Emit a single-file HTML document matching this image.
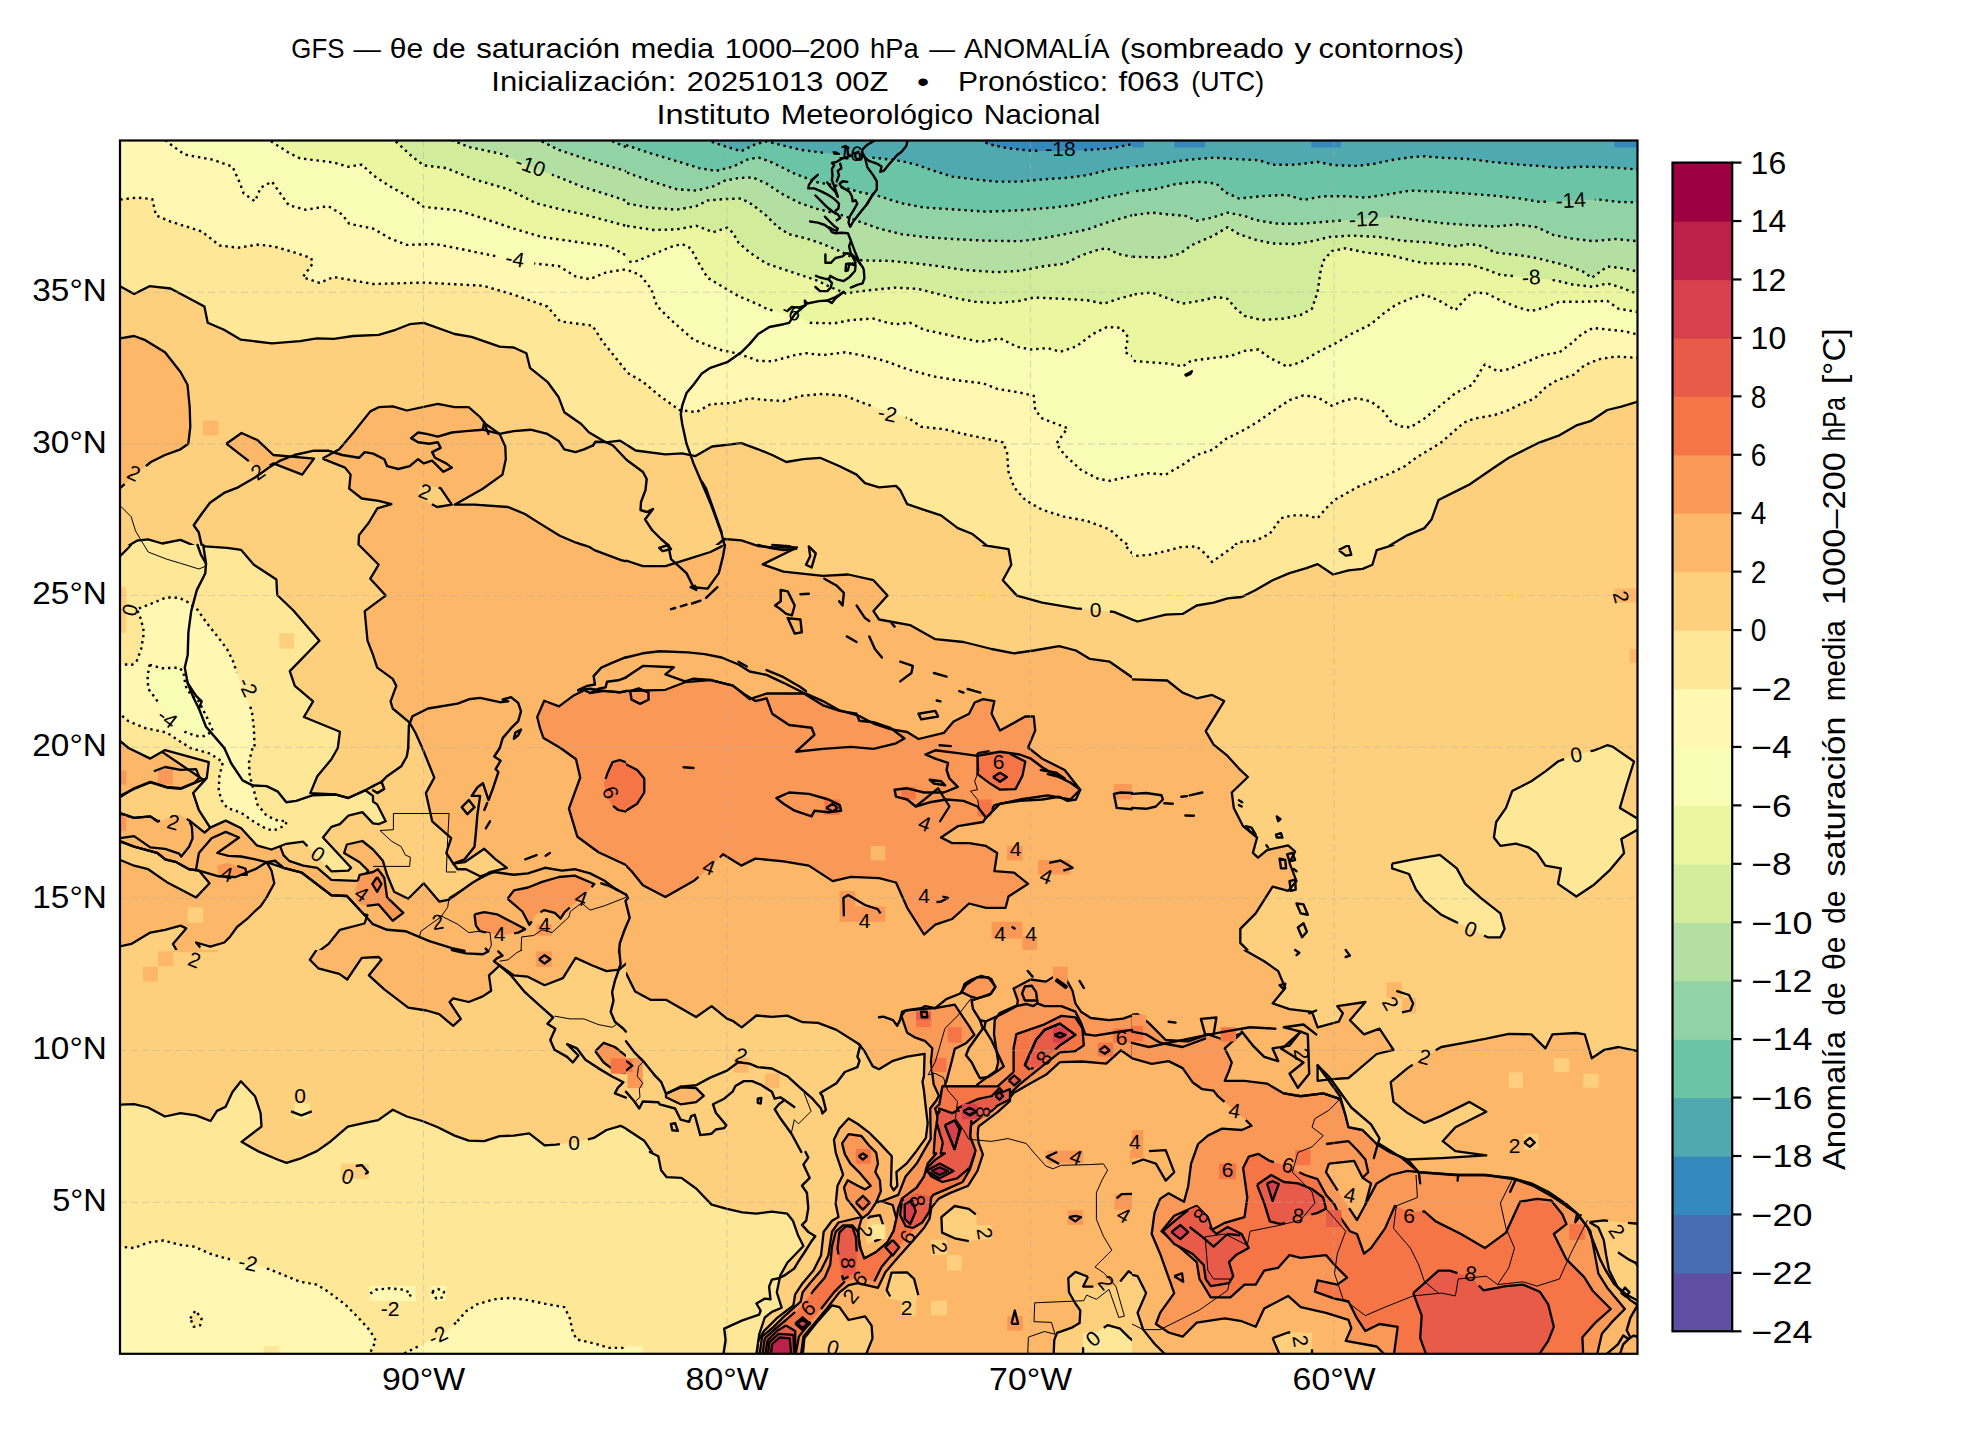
<!DOCTYPE html>
<html><head><meta charset="utf-8"><title>GFS</title>
<style>
html,body{margin:0;padding:0;background:#fff;}
body{width:1980px;height:1440px;overflow:hidden;}
svg{display:block;font-family:"Liberation Sans",sans-serif;}
text{font-family:"Liberation Sans",sans-serif;fill:#000;}
.c{stroke:#000;stroke-width:2.3;stroke-linejoin:round;stroke-linecap:butt;}
.d{stroke:#000;stroke-width:2.4;stroke-dasharray:2.4 3.9;stroke-linejoin:round;}
.n{stroke:none;}
.coast{fill:none;stroke:#000;stroke-width:2.4;stroke-linejoin:round;stroke-linecap:round;}
.bord{fill:none;stroke:#000;stroke-width:1;stroke-linejoin:round;}
.lab{font-size:21px;}
</style></head><body>
<svg width="1980" height="1440" viewBox="0 0 1980 1440">
<rect width="1980" height="1440" fill="#fff"/>

<text x="291.3" y="57.9" font-size="27.8" text-anchor="start" textLength="53.1" lengthAdjust="spacingAndGlyphs" >GFS</text>
<text x="353.4" y="57.9" font-size="27.8" text-anchor="start" textLength="27.4" lengthAdjust="spacingAndGlyphs" >—</text>
<text x="389.8" y="57.9" font-size="27.8" text-anchor="start" textLength="33.4" lengthAdjust="spacingAndGlyphs" >θe</text>
<text x="432.2" y="57.9" font-size="27.8" text-anchor="start" textLength="33.4" lengthAdjust="spacingAndGlyphs" >de</text>
<text x="476.2" y="57.9" font-size="27.8" text-anchor="start" textLength="144.0" lengthAdjust="spacingAndGlyphs" >saturación</text>
<text x="630.7" y="57.9" font-size="27.8" text-anchor="start" textLength="83.4" lengthAdjust="spacingAndGlyphs" >media</text>
<text x="724.7" y="57.9" font-size="27.8" text-anchor="start" textLength="134.9" lengthAdjust="spacingAndGlyphs" >1000–200</text>
<text x="870.1" y="57.9" font-size="27.8" text-anchor="start" textLength="48.6" lengthAdjust="spacingAndGlyphs" >hPa</text>
<text x="929.2" y="57.9" font-size="27.8" text-anchor="start" textLength="25.8" lengthAdjust="spacingAndGlyphs" >—</text>
<text x="964.0" y="57.9" font-size="27.8" text-anchor="start" textLength="145.6" lengthAdjust="spacingAndGlyphs" >ANOMALÍA</text>
<text x="1120.1" y="57.9" font-size="27.8" text-anchor="start" textLength="163.7" lengthAdjust="spacingAndGlyphs" >(sombreado</text>
<text x="1294.4" y="57.9" font-size="27.8" text-anchor="start" textLength="16.7" lengthAdjust="spacingAndGlyphs" >y</text>
<text x="1318.6" y="57.9" font-size="27.8" text-anchor="start" textLength="145.5" lengthAdjust="spacingAndGlyphs" >contornos)</text>
<text x="491.3" y="90.6" font-size="27.8" text-anchor="start" textLength="185.0" lengthAdjust="spacingAndGlyphs" >Inicialización:</text>
<text x="686.8" y="90.6" font-size="27.8" text-anchor="start" textLength="136.4" lengthAdjust="spacingAndGlyphs" >20251013</text>
<text x="835.2" y="90.6" font-size="27.8" text-anchor="start" textLength="53.2" lengthAdjust="spacingAndGlyphs" >00Z</text>
<text x="917.1" y="90.6" font-size="27.8" text-anchor="start" textLength="12.2" lengthAdjust="spacingAndGlyphs" >•</text>
<text x="958.0" y="90.6" font-size="27.8" text-anchor="start" textLength="150.1" lengthAdjust="spacingAndGlyphs" >Pronóstico:</text>
<text x="1118.6" y="90.6" font-size="27.8" text-anchor="start" textLength="60.7" lengthAdjust="spacingAndGlyphs" >f063</text>
<text x="1191.3" y="90.6" font-size="27.8" text-anchor="start" textLength="72.8" lengthAdjust="spacingAndGlyphs" >(UTC)</text>
<text x="656.5" y="124.4" font-size="27.8" text-anchor="start" textLength="113.7" lengthAdjust="spacingAndGlyphs" >Instituto</text>
<text x="780.7" y="124.4" font-size="27.8" text-anchor="start" textLength="192.5" lengthAdjust="spacingAndGlyphs" >Meteorológico</text>
<text x="983.7" y="124.4" font-size="27.8" text-anchor="start" textLength="116.8" lengthAdjust="spacingAndGlyphs" >Nacional</text>
<defs><clipPath id="ax"><rect x="120.0" y="140.5" width="1517.5" height="1213.3"/></clipPath></defs>
<g clip-path="url(#ax)">
<rect x="120.0" y="140.5" width="1517.5" height="1213.3" fill="#fed07e"/>
<clipPath id="t00"><rect x="120" y="140" width="506" height="405"/></clipPath>
<g clip-path="url(#t00)">
<rect x="120" y="140" width="506" height="405" fill="#fed07e"/>
<path fill="#fee797" fill-rule="evenodd" d="M105.9 125.9 L640.2 125.9 L640.2 452.1 L635.5 450.5 L620.0 440.6 L605.7 442.3 L588.8 432.2 L581.2 424.0 L564.3 412.2 L558.7 397.3 L547.4 381.8 L530.0 367.8 L526.4 353.2 L513.7 347.5 L499.6 346.7 L471.5 336.9 L454.6 334.0 L423.7 322.8 L409.7 324.2 L395.6 329.8 L378.7 334.9 L353.4 336.0 L333.7 338.8 L316.9 338.3 L300.0 341.1 L271.9 343.3 L240.9 339.7 L224.0 329.8 L207.7 322.8 L204.4 306.5 L170.6 288.5 L149.5 286.2 L134.1 294.1 L120.0 286.2 L105.9 277.8Z"/>
<path class="c" fill="none" d="M105.9 125.9 L640.2 125.9 L640.2 452.1 L635.5 450.5 L620.0 440.6 L605.7 442.3 L588.8 432.2 L581.2 424.0 L564.3 412.2 L558.7 397.3 L547.4 381.8 L530.0 367.8 L526.4 353.2 L513.7 347.5 L499.6 346.7 L471.5 336.9 L454.6 334.0 L423.7 322.8 L409.7 324.2 L395.6 329.8 L378.7 334.9 L353.4 336.0 L333.7 338.8 L316.9 338.3 L300.0 341.1 L271.9 343.3 L240.9 339.7 L224.0 329.8 L207.7 322.8 L204.4 306.5 L170.6 288.5 L149.5 286.2 L134.1 294.1 L120.0 286.2 L105.9 277.8 L105.9 125.9"/>
<path fill="#fff7b2" fill-rule="evenodd" d="M105.9 125.9 L640.2 125.9 L640.2 387.5 L625.9 370.6 L602.3 341.1 L592.4 325.6 L560.1 321.4 L547.4 306.5 L513.7 294.7 L482.8 285.7 L423.7 282.6 L373.1 284.0 L333.7 277.0 L319.7 282.9 L302.8 277.2 L312.6 263.7 L311.2 258.1 L292.9 251.9 L273.3 246.3 L257.8 244.6 L238.1 247.7 L219.8 245.5 L201.6 231.4 L170.6 221.6 L156.0 215.4 L152.3 199.1 L136.9 197.6 L120.0 199.6 L105.9 200.5Z"/>
<path class="d" fill="none" d="M105.9 125.9 L640.2 125.9 L640.2 387.5 L625.9 370.6 L602.3 341.1 L592.4 325.6 L560.1 321.4 L547.4 306.5 L513.7 294.7 L482.8 285.7 L423.7 282.6 L373.1 284.0 L333.7 277.0 L319.7 282.9 L302.8 277.2 L312.6 263.7 L311.2 258.1 L292.9 251.9 L273.3 246.3 L257.8 244.6 L238.1 247.7 L219.8 245.5 L201.6 231.4 L170.6 221.6 L156.0 215.4 L152.3 199.1 L136.9 197.6 L120.0 199.6 L105.9 200.5 L105.9 125.9"/>
<path fill="#f8fcb4" fill-rule="evenodd" d="M640.2 125.9 L640.2 268.0 L625.9 269.4 L606.5 272.2 L589.6 279.2 L575.6 276.4 L558.7 266.0 L536.2 263.7 L491.2 255.3 L457.5 248.3 L435.0 244.0 L406.8 244.9 L390.0 238.4 L373.1 228.6 L349.2 223.8 L342.2 214.5 L328.1 206.1 L305.6 209.7 L288.7 205.2 L280.3 193.4 L271.9 181.6 L260.6 187.8 L255.0 201.3 L243.7 193.4 L239.5 182.2 L232.5 166.7 L212.8 159.7 L184.7 154.6 L169.2 143.4 L162.2 137.2 L153.7 125.9Z"/>
<path class="d" fill="none" d="M640.2 125.9 L640.2 268.0 L625.9 269.4 L606.5 272.2 L589.6 279.2 L575.6 276.4 L558.7 266.0 L536.2 263.7 L534.2 263.4 M495.3 256.1 L491.2 255.3 L457.5 248.3 L435.0 244.0 L406.8 244.9 L390.0 238.4 L373.1 228.6 L349.2 223.8 L342.2 214.5 L328.1 206.1 L305.6 209.7 L288.7 205.2 L280.3 193.4 L271.9 181.6 L260.6 187.8 L255.0 201.3 L243.7 193.4 L239.5 182.2 L232.5 166.7 L212.8 159.7 L184.7 154.6 L169.2 143.4 L162.2 137.2 L153.7 125.9 L640.2 125.9"/>
<path fill="#ebf7a0" fill-rule="evenodd" d="M640.2 125.9 L640.2 260.9 L625.9 255.3 L609.3 246.3 L581.2 242.6 L541.8 237.0 L513.7 228.6 L480.0 217.3 L457.5 210.3 L423.7 206.9 L415.3 200.5 L390.0 186.4 L373.1 175.2 L361.8 164.7 L347.8 166.7 L333.7 162.5 L300.0 158.3 L288.7 152.7 L269.0 140.0 L255.0 125.9Z"/>
<path class="d" fill="none" d="M640.2 125.9 L640.2 260.9 L625.9 255.3 L609.3 246.3 L581.2 242.6 L541.8 237.0 L513.7 228.6 L480.0 217.3 L457.5 210.3 L423.7 206.9 L415.3 200.5 L390.0 186.4 L373.1 175.2 L361.8 164.7 L347.8 166.7 L333.7 162.5 L300.0 158.3 L288.7 152.7 L269.0 140.0 L255.0 125.9 L640.2 125.9"/>
<path fill="#d1ed9c" fill-rule="evenodd" d="M640.2 125.9 L640.2 230.0 L625.9 225.8 L584.0 214.5 L558.7 208.9 L536.2 203.3 L508.1 189.2 L474.3 179.4 L446.2 168.1 L423.7 165.3 L412.5 156.9 L394.2 140.0 L381.5 125.9Z"/>
<path class="d" fill="none" d="M640.2 125.9 L640.2 230.0 L625.9 225.8 L584.0 214.5 L558.7 208.9 L536.2 203.3 L508.1 189.2 L474.3 179.4 L446.2 168.1 L423.7 165.3 L412.5 156.9 L394.2 140.0 L381.5 125.9 L640.2 125.9"/>
<path fill="#b3e0a2" fill-rule="evenodd" d="M640.2 125.9 L640.2 204.7 L625.9 200.5 L603.7 193.4 L581.2 186.4 L555.9 176.0 L530.6 166.7 L502.5 154.1 L468.7 147.0 L451.8 140.0 L429.3 125.9Z"/>
<path class="d" fill="none" d="M640.2 125.9 L640.2 204.7 L625.9 200.5 L603.7 193.4 L581.2 186.4 L555.9 176.0 L552.0 174.6 M508.1 156.6 L502.5 154.1 L468.7 147.0 L451.8 140.0 L429.3 125.9 L640.2 125.9"/>
<path fill="#91d3a4" fill-rule="evenodd" d="M640.2 125.9 L640.2 175.2 L625.9 170.9 L603.7 164.7 L581.2 157.4 L558.7 149.8 L539.0 140.0 L513.7 125.9Z"/>
<path class="d" fill="none" d="M640.2 125.9 L640.2 175.2 L625.9 170.9 L603.7 164.7 L581.2 157.4 L558.7 149.8 L539.0 140.0 L513.7 125.9 L640.2 125.9"/>
<path fill="#6bc4a5" fill-rule="evenodd" d="M640.2 125.9 L640.2 154.1 L625.9 147.0 L609.3 140.0 L592.4 125.9Z"/>
<path class="d" fill="none" d="M640.2 125.9 L640.2 154.1 L625.9 147.0 L609.3 140.0 L592.4 125.9 L640.2 125.9"/>
<path fill="#fdb768" fill-rule="evenodd" d="M105.9 336.9 L120.0 338.3 L134.1 336.0 L145.3 340.2 L165.0 352.3 L180.5 372.0 L187.5 384.7 L189.7 407.2 L190.3 426.8 L188.3 443.7 L180.5 449.3 L165.0 455.0 L150.9 462.0 L134.1 476.1 L120.0 488.1 L105.9 497.1Z"/>
<path class="c" fill="none" d="M105.9 336.9 L120.0 338.3 L134.1 336.0 L145.3 340.2 L165.0 352.3 L180.5 372.0 L187.5 384.7 L189.7 407.2 L190.3 426.8 L188.3 443.7 L180.5 449.3 L165.0 455.0 L150.9 462.0 L145.9 466.2 M124.7 484.1 L120.0 488.1 L105.9 497.1 L105.9 336.9"/>
<path fill="#fdb768" fill-rule="evenodd" d="M203.0 420.7 L218.4 420.7 L218.4 435.3 L203.0 435.3Z"/>
<path fill="#fdb768" fill-rule="evenodd" d="M226.3 443.7 L241.5 433.0 L257.8 440.3 L273.3 455.0 L314.0 458.6 L302.2 474.6 L273.3 463.4 L260.6 470.4 L243.7 457.2Z"/>
<path class="c" fill="none" d="M226.3 443.7 L241.5 433.0 L257.8 440.3 L273.3 455.0 L314.0 458.6 L302.2 474.6 L273.3 463.4 L269.6 465.4 M248.8 461.2 L243.7 457.2 L226.3 443.7"/>
<path fill="#fdb768" fill-rule="evenodd" d="M322.5 458.6 L339.3 449.3 L353.4 432.5 L370.3 411.4 L378.7 407.2 L392.8 406.3 L406.8 410.5 L437.8 403.8 L454.6 407.2 L468.7 407.2 L480.0 417.0 L485.6 424.0 L499.6 433.9 L505.3 446.5 L505.8 459.2 L502.5 474.6 L482.8 488.7 L454.6 504.7 L474.3 504.7 L508.1 507.0 L524.9 514.0 L537.3 521.9 L559.8 535.7 L576.1 542.7 L589.6 546.9 L621.1 560.1 L621.1 567.4 L358.5 561.8 L358.5 544.9 L359.0 535.1 L368.9 522.5 L377.3 508.4 L391.4 504.2 L378.7 500.8 L361.8 498.5 L349.2 488.7 L350.6 474.6 L345.0 467.6Z"/>
<path class="c" fill="none" d="M322.5 458.6 L339.3 449.3 L353.4 432.5 L370.3 411.4 L378.7 407.2 L392.8 406.3 L406.8 410.5 L437.8 403.8 L454.6 407.2 L468.7 407.2 L480.0 417.0 L485.6 424.0 L499.6 433.9 L505.3 446.5 L505.8 459.2 L502.5 474.6 L482.8 488.7 L454.6 504.7 L474.3 504.7 L508.1 507.0 L524.9 514.0 L537.3 521.9 L559.8 535.7 L576.1 542.7 L589.6 546.9 L621.1 560.1 L621.1 567.4 L358.5 561.8 L358.5 544.9 L359.0 535.1 L368.9 522.5 L377.3 508.4 L391.4 504.2 L378.7 500.8 L361.8 498.5 L349.2 488.7 L350.6 474.6 L345.0 467.6 L322.5 458.6"/>
<path fill="#fee797" fill-rule="evenodd" d="M127.0 546.6 L136.9 540.7 L148.1 539.3 L162.2 543.5 L180.5 539.9 L193.7 545.5 L193.7 556.2 L127.0 556.2Z"/>
<path class="c" fill="none" d="M127.0 546.6 L136.9 540.7 L148.1 539.3 L162.2 543.5 L180.5 539.9 L193.7 545.5 L193.7 556.2 L127.0 556.2 L127.0 546.6"/>
<path fill="#fed07e" fill-rule="evenodd" d="M420.9 484.5 L440.6 488.1 L451.8 504.7 L437.2 507.0 L426.5 501.4 L418.1 492.9Z"/>
<path class="c" fill="none" d="M438.6 487.8 L440.6 488.1 L451.8 504.7 L437.2 507.0 L431.9 504.2"/>
</g>
<clipPath id="t01"><rect x="626" y="140" width="506" height="405"/></clipPath>
<g clip-path="url(#t01)">
<rect x="626" y="140" width="506" height="405" fill="#fed07e"/>
<path fill="#fee797" fill-rule="evenodd" d="M603.5 125.9 L1146.2 125.9 L1146.2 559.0 L1002.8 559.0 L986.0 544.9 L971.9 533.7 L957.8 528.1 L941.0 515.4 L924.1 509.8 L907.2 504.2 L900.2 490.1 L896.0 485.9 L879.1 487.3 L865.0 483.1 L856.6 474.6 L839.7 466.2 L820.0 457.8 L803.2 459.2 L786.3 462.0 L772.2 455.0 L758.2 449.3 L741.3 443.1 L712.1 446.5 L695.5 456.1 L682.0 453.3 L665.4 454.4 L635.6 450.5 L620.1 440.6 L605.5 442.0 L603.5 438.1Z"/>
<path class="c" fill="none" d="M603.5 125.9 L1146.2 125.9 L1146.2 559.0 L1002.8 559.0 L986.0 544.9 L971.9 533.7 L957.8 528.1 L941.0 515.4 L924.1 509.8 L907.2 504.2 L900.2 490.1 L896.0 485.9 L879.1 487.3 L865.0 483.1 L856.6 474.6 L839.7 466.2 L820.0 457.8 L803.2 459.2 L786.3 462.0 L772.2 455.0 L758.2 449.3 L741.3 443.1 L712.1 446.5 L695.5 456.1 L682.0 453.3 L665.4 454.4 L635.6 450.5 L620.1 440.6 L605.5 442.0 L603.5 438.1 L603.5 125.9"/>
<path fill="#fdb768" fill-rule="evenodd" d="M712.0 549.0 L724.4 539.0 L741.4 540.4 L758.4 546.0 L770.0 549.0 L770.0 560.0 L712.0 560.0Z"/>
<path class="c" fill="none" d="M712.0 549.0 L724.4 539.0 L741.4 540.4 L758.4 546.0 L770.0 549.0 L770.0 560.0 L712.0 560.0 L712.0 549.0"/>
<path fill="#fff7b2" fill-rule="evenodd" d="M603.5 125.9 L1146.2 125.9 L1146.2 556.2 L1132.2 547.8 L1123.8 542.1 L1109.7 529.5 L1087.2 521.0 L1064.7 516.8 L1042.2 509.8 L1025.3 500.0 L1014.1 487.3 L1008.5 471.8 L1007.0 452.1 L1002.8 442.3 L986.0 438.7 L963.5 433.9 L943.8 429.1 L921.3 426.8 L910.0 419.0 L887.5 411.4 L870.7 405.7 L859.4 401.5 L845.3 395.9 L822.9 393.9 L800.4 395.9 L783.5 401.0 L766.6 400.1 L749.7 398.2 L732.9 402.9 L710.4 404.3 L696.3 412.2 L679.4 410.0 L659.7 395.9 L642.9 381.8 L626.0 372.0 L611.9 365.0Z"/>
<path class="d" fill="none" d="M603.5 125.9 L1146.2 125.9 L1146.2 556.2 L1132.2 547.8 L1123.8 542.1 L1109.7 529.5 L1087.2 521.0 L1064.7 516.8 L1042.2 509.8 L1025.3 500.0 L1014.1 487.3 L1008.5 471.8 L1007.0 452.1 L1002.8 442.3 L986.0 438.7 L963.5 433.9 L943.8 429.1 L921.3 426.8 L910.0 419.0 L905.9 417.6 M870.7 405.7 L859.4 401.5 L845.3 395.9 L822.9 393.9 L800.4 395.9 L783.5 401.0 L766.6 400.1 L749.7 398.2 L732.9 402.9 L710.4 404.3 L696.3 412.2 L679.4 410.0 L659.7 395.9 L642.9 381.8 L626.0 372.0 L611.9 365.0 L603.5 125.9"/>
<path fill="#f8fcb4" fill-rule="evenodd" d="M603.5 125.9 L1146.2 125.9 L1146.2 473.2 L1131.9 476.1 L1109.7 480.8 L1098.4 478.9 L1081.6 470.4 L1064.7 455.0 L1056.3 443.7 L1067.5 428.2 L1042.2 418.4 L1035.2 410.0 L1033.8 395.9 L1019.7 392.5 L997.2 388.9 L983.1 383.3 L957.8 380.4 L932.5 376.2 L907.2 369.2 L884.7 360.8 L865.0 356.0 L845.3 352.3 L822.9 355.1 L806.0 353.2 L794.7 355.1 L772.2 361.3 L758.2 360.8 L738.5 353.7 L718.8 349.5 L693.5 339.7 L671.0 320.0 L656.9 305.9 L651.3 289.0 L640.1 275.0 L626.0 269.4 L611.9 268.0Z"/>
<path class="d" fill="none" d="M603.5 125.9 L1146.2 125.9 L1146.2 473.2 L1131.9 476.1 L1109.7 480.8 L1098.4 478.9 L1081.6 470.4 L1064.7 455.0 L1056.3 443.7 L1067.5 428.2 L1042.2 418.4 L1035.2 410.0 L1033.8 395.9 L1019.7 392.5 L997.2 388.9 L983.1 383.3 L957.8 380.4 L932.5 376.2 L907.2 369.2 L884.7 360.8 L865.0 356.0 L845.3 352.3 L822.9 355.1 L806.0 353.2 L794.7 355.1 L772.2 361.3 L758.2 360.8 L738.5 353.7 L718.8 349.5 L693.5 339.7 L671.0 320.0 L656.9 305.9 L651.3 289.0 L640.1 275.0 L626.0 269.4 L611.9 268.0 L603.5 125.9"/>
<path fill="#ebf7a0" fill-rule="evenodd" d="M603.5 125.9 L1146.2 125.9 L1146.2 357.9 L1131.9 356.0 L1125.2 352.3 L1128.0 336.9 L1120.9 327.9 L1106.9 327.0 L1092.8 334.0 L1075.9 346.7 L1060.5 351.8 L1047.8 348.1 L1030.9 349.5 L1016.9 346.7 L1000.0 338.3 L980.3 341.9 L963.5 338.3 L943.8 334.0 L924.1 329.8 L910.0 322.8 L896.0 324.2 L887.5 322.8 L873.5 318.6 L851.0 320.0 L834.1 323.4 L810.2 322.8 L791.9 315.8 L766.6 308.7 L758.2 304.5 L738.5 296.1 L721.6 286.2 L707.6 277.8 L699.1 263.7 L690.7 248.3 L682.2 244.0 L671.0 246.9 L654.1 253.9 L637.2 260.9 L626.0 262.3 L611.9 263.7Z"/>
<path class="d" fill="none" d="M603.5 125.9 L1146.2 125.9 L1146.2 357.9 L1131.9 356.0 L1125.2 352.3 L1128.0 336.9 L1120.9 327.9 L1106.9 327.0 L1092.8 334.0 L1075.9 346.7 L1060.5 351.8 L1047.8 348.1 L1030.9 349.5 L1016.9 346.7 L1000.0 338.3 L980.3 341.9 L963.5 338.3 L943.8 334.0 L924.1 329.8 L910.0 322.8 L896.0 324.2 L887.5 322.8 L873.5 318.6 L851.0 320.0 L834.1 323.4 L810.2 322.8 L808.2 322.0 M772.4 310.4 L766.6 308.7 L758.2 304.5 L738.5 296.1 L721.6 286.2 L707.6 277.8 L699.1 263.7 L690.7 248.3 L682.2 244.0 L671.0 246.9 L654.1 253.9 L637.2 260.9 L626.0 262.3 L611.9 263.7 L603.5 125.9"/>
<path fill="#d1ed9c" fill-rule="evenodd" d="M603.5 125.9 L1146.2 125.9 L1146.2 293.3 L1131.9 295.2 L1118.1 298.9 L1104.1 303.7 L1087.2 300.3 L1064.7 298.9 L1033.8 297.5 L1019.7 300.9 L997.2 303.1 L974.7 301.7 L952.2 297.5 L935.3 293.3 L918.5 289.0 L896.0 287.6 L867.8 290.4 L845.3 293.3 L828.5 286.2 L817.2 280.6 L800.4 275.0 L783.5 269.4 L766.6 263.7 L749.7 252.5 L738.5 242.6 L732.9 232.8 L727.2 227.7 L713.2 232.2 L696.3 225.8 L676.6 229.4 L654.1 230.0 L626.0 225.8 L611.9 224.4Z"/>
<path class="d" fill="none" d="M603.5 125.9 L1146.2 125.9 L1146.2 293.3 L1131.9 295.2 L1118.1 298.9 L1104.1 303.7 L1087.2 300.3 L1064.7 298.9 L1033.8 297.5 L1019.7 300.9 L997.2 303.1 L974.7 301.7 L952.2 297.5 L935.3 293.3 L918.5 289.0 L896.0 287.6 L867.8 290.4 L845.3 293.3 L828.5 286.2 L817.2 280.6 L800.4 275.0 L783.5 269.4 L766.6 263.7 L749.7 252.5 L738.5 242.6 L732.9 232.8 L727.2 227.7 L713.2 232.2 L696.3 225.8 L676.6 229.4 L654.1 230.0 L626.0 225.8 L611.9 224.4 L603.5 125.9"/>
<path fill="#b3e0a2" fill-rule="evenodd" d="M603.5 125.9 L1146.2 125.9 L1146.2 257.5 L1131.9 256.7 L1118.1 253.9 L1106.9 248.3 L1098.4 249.7 L1081.6 255.3 L1064.7 263.7 L1042.2 266.5 L1019.7 270.8 L997.2 272.2 L963.5 269.9 L941.0 266.5 L918.5 263.7 L890.3 260.9 L862.2 260.4 L851.0 256.7 L839.7 251.1 L822.9 244.0 L806.0 238.4 L789.1 234.2 L777.9 227.2 L766.6 215.9 L752.5 204.7 L741.3 198.5 L724.4 199.1 L707.6 200.5 L696.3 206.1 L676.6 209.7 L648.5 207.5 L626.0 203.3 L611.9 201.9Z"/>
<path class="d" fill="none" d="M603.5 125.9 L1146.2 125.9 L1146.2 257.5 L1131.9 256.7 L1118.1 253.9 L1106.9 248.3 L1098.4 249.7 L1081.6 255.3 L1064.7 263.7 L1042.2 266.5 L1019.7 270.8 L997.2 272.2 L963.5 269.9 L941.0 266.5 L918.5 263.7 L890.3 260.9 L862.2 260.4 L851.0 256.7 L839.7 251.1 L822.9 244.0 L806.0 238.4 L789.1 234.2 L777.9 227.2 L766.6 215.9 L752.5 204.7 L741.3 198.5 L724.4 199.1 L707.6 200.5 L696.3 206.1 L676.6 209.7 L648.5 207.5 L626.0 203.3 L611.9 201.9 L603.5 125.9"/>
<path fill="#91d3a4" fill-rule="evenodd" d="M603.5 125.9 L1146.2 125.9 L1146.2 211.7 L1131.9 215.4 L1109.7 221.6 L1087.2 229.4 L1064.7 234.2 L1042.2 238.4 L1019.7 241.2 L986.0 240.7 L952.2 239.0 L924.1 237.0 L901.6 234.2 L879.1 228.6 L859.4 221.6 L839.7 214.5 L817.2 208.9 L800.4 203.3 L783.5 194.8 L766.6 183.6 L752.5 177.4 L738.5 178.0 L724.4 180.8 L713.2 186.4 L696.3 190.6 L676.6 189.2 L654.1 182.2 L626.0 172.3 L611.9 168.1Z"/>
<path class="d" fill="none" d="M603.5 125.9 L1146.2 125.9 L1146.2 211.7 L1131.9 215.4 L1109.7 221.6 L1087.2 229.4 L1064.7 234.2 L1042.2 238.4 L1019.7 241.2 L986.0 240.7 L952.2 239.0 L924.1 237.0 L901.6 234.2 L879.1 228.6 L859.4 221.6 L839.7 214.5 L817.2 208.9 L800.4 203.3 L783.5 194.8 L766.6 183.6 L752.5 177.4 L738.5 178.0 L724.4 180.8 L713.2 186.4 L696.3 190.6 L676.6 189.2 L654.1 182.2 L626.0 172.3 L611.9 168.1 L603.5 125.9"/>
<path fill="#6bc4a5" fill-rule="evenodd" d="M603.5 125.9 L1146.2 125.9 L1146.2 189.2 L1131.9 192.0 L1104.1 197.6 L1075.9 204.7 L1053.4 207.5 L1019.7 210.3 L986.0 211.7 L957.8 209.7 L924.1 207.5 L901.6 203.3 L879.1 196.2 L859.4 192.0 L839.7 186.4 L817.2 182.2 L794.7 173.7 L772.2 162.5 L758.2 157.4 L746.9 159.7 L732.9 166.7 L716.0 170.9 L699.1 168.1 L676.6 161.1 L648.5 152.7 L626.0 145.1 L611.9 141.4Z"/>
<path class="d" fill="none" d="M603.5 125.9 L1146.2 125.9 L1146.2 189.2 L1131.9 192.0 L1104.1 197.6 L1075.9 204.7 L1053.4 207.5 L1019.7 210.3 L986.0 211.7 L957.8 209.7 L924.1 207.5 L901.6 203.3 L879.1 196.2 L859.4 192.0 L839.7 186.4 L817.2 182.2 L794.7 173.7 L772.2 162.5 L758.2 157.4 L746.9 159.7 L732.9 166.7 L716.0 170.9 L699.1 168.1 L676.6 161.1 L648.5 152.7 L626.0 145.1 L611.9 141.4 L603.5 125.9"/>
<path fill="#50a9af" fill-rule="evenodd" d="M1146.2 125.9 L1146.2 165.3 L1131.9 166.7 L1109.7 169.5 L1087.2 175.2 L1064.7 178.0 L1042.2 179.4 L1019.7 181.6 L997.2 181.6 L974.7 179.4 L952.2 176.6 L929.7 169.5 L918.5 165.3 L901.6 161.1 L879.1 158.3 L851.0 155.5 L822.9 152.7 L800.4 149.8 L783.5 145.6 L766.6 141.4 L755.4 144.2 L741.3 151.2 L727.2 147.0 L710.4 141.4 L704.7 134.4 L701.9 125.9Z"/>
<path class="d" fill="none" d="M1146.2 125.9 L1146.2 165.3 L1131.9 166.7 L1109.7 169.5 L1087.2 175.2 L1064.7 178.0 L1042.2 179.4 L1019.7 181.6 L997.2 181.6 L974.7 179.4 L952.2 176.6 L929.7 169.5 L918.5 165.3 L901.6 161.1 L879.1 158.3 L871.1 157.5 M822.9 152.7 L800.4 149.8 L783.5 145.6 L766.6 141.4 L755.4 144.2 L741.3 151.2 L727.2 147.0 L710.4 141.4 L704.7 134.4 L701.9 125.9 L1146.2 125.9"/>
<path fill="#3389bd" fill-rule="evenodd" d="M1146.2 125.9 L1146.2 141.4 L1131.9 144.2 L1109.7 148.4 L1090.0 149.8 L1060.5 151.2 L1030.9 150.7 L1008.5 148.4 L988.8 144.2 L974.7 137.2 L969.1 125.9Z"/>
<path class="d" fill="none" d="M1146.2 125.9 L1146.2 141.4 L1131.9 144.2 L1109.7 148.4 L1090.0 149.8 L1083.7 150.1 M1037.3 150.8 L1030.9 150.7 L1008.5 148.4 L988.8 144.2 L974.7 137.2 L969.1 125.9 L1055.7 125.9 M1065.7 125.9 L1146.2 125.9"/>
</g>
<clipPath id="t02"><rect x="1132" y="140" width="506" height="405"/></clipPath>
<g clip-path="url(#t02)">
<rect x="1132" y="140" width="506" height="405" fill="#fed07e"/>
<path fill="#fee797" fill-rule="evenodd" d="M1117.9 125.9 L1652.2 125.9 L1652.2 397.3 L1637.9 401.5 L1621.3 406.6 L1607.3 410.0 L1590.4 421.2 L1576.3 425.4 L1559.4 435.3 L1539.8 442.3 L1525.7 449.3 L1508.8 457.8 L1492.0 469.0 L1469.5 484.5 L1458.2 490.1 L1438.5 500.0 L1431.5 519.6 L1424.5 528.1 L1407.6 535.1 L1390.7 544.9 L1379.5 550.6 L1117.9 559.0Z"/>
<path class="c" fill="none" d="M1117.9 125.9 L1652.2 125.9 L1652.2 397.3 L1637.9 401.5 L1621.3 406.6 L1607.3 410.0 L1590.4 421.2 L1576.3 425.4 L1559.4 435.3 L1539.8 442.3 L1525.7 449.3 L1508.8 457.8 L1492.0 469.0 L1469.5 484.5 L1458.2 490.1 L1438.5 500.0 L1431.5 519.6 L1424.5 528.1 L1407.6 535.1 L1390.7 544.9 L1379.5 550.6 L1117.9 559.0 L1117.9 125.9"/>
<path fill="#fff7b2" fill-rule="evenodd" d="M1117.9 125.9 L1652.2 125.9 L1652.2 359.3 L1637.9 357.9 L1615.7 356.5 L1598.8 359.3 L1584.8 365.0 L1573.5 374.8 L1556.6 380.4 L1545.4 387.5 L1534.1 398.7 L1520.1 404.3 L1508.8 410.0 L1494.8 415.0 L1475.1 418.4 L1463.8 422.6 L1452.6 432.5 L1441.3 442.3 L1430.1 449.3 L1416.0 457.8 L1404.8 466.2 L1390.7 473.2 L1373.8 480.3 L1357.0 487.3 L1334.5 500.0 L1326.0 508.4 L1317.6 518.2 L1306.4 515.4 L1292.3 515.4 L1281.0 518.2 L1269.8 533.7 L1255.7 540.7 L1238.9 542.1 L1227.6 550.6 L1117.9 559.0Z"/>
<path class="d" fill="none" d="M1117.9 125.9 L1652.2 125.9 L1652.2 359.3 L1637.9 357.9 L1615.7 356.5 L1598.8 359.3 L1584.8 365.0 L1573.5 374.8 L1556.6 380.4 L1545.4 387.5 L1534.1 398.7 L1520.1 404.3 L1508.8 410.0 L1494.8 415.0 L1475.1 418.4 L1463.8 422.6 L1452.6 432.5 L1441.3 442.3 L1430.1 449.3 L1416.0 457.8 L1404.8 466.2 L1390.7 473.2 L1373.8 480.3 L1357.0 487.3 L1334.5 500.0 L1326.0 508.4 L1317.6 518.2 L1306.4 515.4 L1292.3 515.4 L1281.0 518.2 L1269.8 533.7 L1255.7 540.7 L1238.9 542.1 L1227.6 550.6 L1117.9 559.0 L1117.9 125.9"/>
<path fill="#f8fcb4" fill-rule="evenodd" d="M1117.9 125.9 L1652.2 125.9 L1652.2 336.9 L1637.9 334.6 L1624.1 331.2 L1610.1 329.8 L1593.2 327.9 L1581.9 334.0 L1570.7 343.9 L1559.4 352.3 L1542.6 355.1 L1525.7 362.2 L1508.8 369.2 L1497.6 371.2 L1484.9 364.4 L1480.7 370.6 L1472.3 384.7 L1455.4 393.1 L1438.5 407.2 L1424.5 418.4 L1410.4 427.4 L1399.2 426.3 L1390.7 421.2 L1382.3 410.0 L1371.0 401.5 L1357.0 398.2 L1345.7 400.1 L1331.7 405.7 L1317.6 397.3 L1303.5 395.3 L1289.5 400.1 L1272.6 411.4 L1258.5 421.2 L1244.5 429.7 L1224.8 439.5 L1213.6 449.3 L1196.7 455.0 L1182.6 464.8 L1165.7 474.6 L1148.9 473.2 L1132.0 476.1 L1117.9 477.5Z"/>
<path class="d" fill="none" d="M1117.9 125.9 L1652.2 125.9 L1652.2 336.9 L1637.9 334.6 L1624.1 331.2 L1610.1 329.8 L1593.2 327.9 L1581.9 334.0 L1570.7 343.9 L1559.4 352.3 L1542.6 355.1 L1525.7 362.2 L1508.8 369.2 L1497.6 371.2 L1484.9 364.4 L1480.7 370.6 L1472.3 384.7 L1455.4 393.1 L1438.5 407.2 L1424.5 418.4 L1410.4 427.4 L1399.2 426.3 L1390.7 421.2 L1382.3 410.0 L1371.0 401.5 L1357.0 398.2 L1345.7 400.1 L1331.7 405.7 L1317.6 397.3 L1303.5 395.3 L1289.5 400.1 L1272.6 411.4 L1258.5 421.2 L1244.5 429.7 L1224.8 439.5 L1213.6 449.3 L1196.7 455.0 L1182.6 464.8 L1165.7 474.6 L1148.9 473.2 L1132.0 476.1 L1117.9 477.5 L1117.9 125.9"/>
<path fill="#ebf7a0" fill-rule="evenodd" d="M1117.9 125.9 L1652.2 125.9 L1652.2 314.4 L1637.9 312.1 L1618.5 308.7 L1607.3 300.9 L1581.9 301.7 L1559.4 301.7 L1545.4 307.3 L1531.3 311.0 L1517.3 307.3 L1500.4 300.3 L1486.3 293.3 L1472.3 292.4 L1466.6 297.5 L1455.4 310.1 L1438.5 300.3 L1424.5 294.7 L1413.2 297.5 L1396.3 304.5 L1382.3 314.4 L1371.0 324.2 L1351.3 334.0 L1334.5 343.9 L1317.6 352.3 L1300.7 362.2 L1286.7 366.4 L1269.8 357.9 L1258.5 349.5 L1244.5 350.9 L1230.4 356.0 L1213.6 357.9 L1191.1 360.8 L1182.6 366.4 L1168.6 363.6 L1148.9 362.2 L1132.0 360.8 L1117.9 359.3Z"/>
<path class="d" fill="none" d="M1117.9 125.9 L1652.2 125.9 L1652.2 314.4 L1637.9 312.1 L1618.5 308.7 L1607.3 300.9 L1581.9 301.7 L1559.4 301.7 L1545.4 307.3 L1531.3 311.0 L1517.3 307.3 L1500.4 300.3 L1486.3 293.3 L1472.3 292.4 L1466.6 297.5 L1455.4 310.1 L1438.5 300.3 L1424.5 294.7 L1413.2 297.5 L1396.3 304.5 L1382.3 314.4 L1371.0 324.2 L1351.3 334.0 L1334.5 343.9 L1317.6 352.3 L1300.7 362.2 L1286.7 366.4 L1269.8 357.9 L1258.5 349.5 L1244.5 350.9 L1230.4 356.0 L1213.6 357.9 L1191.1 360.8 L1182.6 366.4 L1168.6 363.6 L1148.9 362.2 L1132.0 360.8 L1117.9 359.3 L1117.9 125.9"/>
<path fill="#d1ed9c" fill-rule="evenodd" d="M1117.9 125.9 L1652.2 125.9 L1652.2 297.5 L1637.9 294.1 L1621.3 287.6 L1607.3 283.4 L1593.2 286.8 L1573.5 284.8 L1556.6 280.6 L1531.3 277.8 L1508.8 275.5 L1500.4 275.0 L1486.3 269.4 L1469.5 264.6 L1447.0 263.7 L1424.5 263.2 L1413.2 260.9 L1390.7 255.3 L1365.4 252.5 L1345.7 248.3 L1331.7 251.1 L1323.2 260.9 L1320.4 272.2 L1317.6 291.9 L1312.0 308.7 L1300.7 314.9 L1283.9 318.6 L1261.4 320.0 L1244.5 315.8 L1236.0 308.7 L1227.6 298.9 L1216.4 296.9 L1202.3 300.3 L1182.6 303.7 L1165.7 297.5 L1151.7 292.4 L1132.0 294.7 L1117.9 295.2Z"/>
<path class="d" fill="none" d="M1117.9 125.9 L1652.2 125.9 L1652.2 297.5 L1637.9 294.1 L1621.3 287.6 L1607.3 283.4 L1593.2 286.8 L1573.5 284.8 L1556.6 280.6 L1550.3 279.9 M1512.9 276.0 L1508.8 275.5 L1500.4 275.0 L1486.3 269.4 L1469.5 264.6 L1447.0 263.7 L1424.5 263.2 L1413.2 260.9 L1390.7 255.3 L1365.4 252.5 L1345.7 248.3 L1331.7 251.1 L1323.2 260.9 L1320.4 272.2 L1317.6 291.9 L1312.0 308.7 L1300.7 314.9 L1283.9 318.6 L1261.4 320.0 L1244.5 315.8 L1236.0 308.7 L1227.6 298.9 L1216.4 296.9 L1202.3 300.3 L1182.6 303.7 L1165.7 297.5 L1151.7 292.4 L1132.0 294.7 L1117.9 295.2 L1117.9 125.9"/>
<path fill="#b3e0a2" fill-rule="evenodd" d="M1117.9 125.9 L1652.2 125.9 L1652.2 273.6 L1637.9 271.6 L1621.3 268.0 L1607.3 266.5 L1591.8 277.8 L1581.9 270.8 L1559.4 263.7 L1536.9 258.1 L1520.1 255.3 L1494.8 252.5 L1483.5 246.3 L1469.5 244.0 L1455.4 246.3 L1430.1 242.6 L1402.0 240.7 L1379.5 237.0 L1351.3 235.6 L1328.9 237.0 L1314.8 240.7 L1295.1 244.0 L1272.6 243.5 L1255.7 239.8 L1238.9 234.2 L1227.6 227.2 L1213.6 235.6 L1191.1 245.5 L1179.8 253.9 L1162.9 257.5 L1132.0 256.7 L1117.9 256.7Z"/>
<path class="d" fill="none" d="M1117.9 125.9 L1652.2 125.9 L1652.2 273.6 L1637.9 271.6 L1621.3 268.0 L1607.3 266.5 L1591.8 277.8 L1581.9 270.8 L1559.4 263.7 L1536.9 258.1 L1520.1 255.3 L1494.8 252.5 L1483.5 246.3 L1469.5 244.0 L1455.4 246.3 L1430.1 242.6 L1402.0 240.7 L1379.5 237.0 L1351.3 235.6 L1328.9 237.0 L1314.8 240.7 L1295.1 244.0 L1272.6 243.5 L1255.7 239.8 L1238.9 234.2 L1227.6 227.2 L1213.6 235.6 L1191.1 245.5 L1179.8 253.9 L1162.9 257.5 L1132.0 256.7 L1117.9 256.7 L1117.9 125.9"/>
<path fill="#91d3a4" fill-rule="evenodd" d="M1117.9 125.9 L1652.2 125.9 L1652.2 242.6 L1637.9 241.2 L1615.7 239.0 L1593.2 241.2 L1570.7 238.4 L1553.8 235.1 L1536.9 227.2 L1517.3 224.4 L1494.8 226.6 L1469.5 225.2 L1441.3 223.0 L1413.2 219.6 L1394.9 216.5 L1364.0 218.7 L1334.5 221.0 L1300.7 223.8 L1278.2 223.8 L1255.7 220.1 L1244.5 215.9 L1227.6 212.6 L1213.6 217.3 L1196.7 220.7 L1185.4 215.9 L1168.6 214.5 L1151.7 212.6 L1132.0 215.4 L1117.9 215.4Z"/>
<path class="d" fill="none" d="M1117.9 125.9 L1652.2 125.9 L1652.2 242.6 L1637.9 241.2 L1615.7 239.0 L1593.2 241.2 L1570.7 238.4 L1553.8 235.1 L1536.9 227.2 L1517.3 224.4 L1494.8 226.6 L1469.5 225.2 L1441.3 223.0 L1413.2 219.6 L1394.9 216.5 L1388.7 216.9 M1340.8 220.5 L1334.5 221.0 L1300.7 223.8 L1278.2 223.8 L1255.7 220.1 L1244.5 215.9 L1227.6 212.6 L1213.6 217.3 L1196.7 220.7 L1185.4 215.9 L1168.6 214.5 L1151.7 212.6 L1132.0 215.4 L1117.9 215.4 L1117.9 125.9"/>
<path fill="#6bc4a5" fill-rule="evenodd" d="M1117.9 125.9 L1652.2 125.9 L1652.2 202.4 L1637.9 202.4 L1618.5 201.9 L1598.8 199.6 L1570.7 200.5 L1539.8 201.9 L1520.1 198.5 L1494.8 195.7 L1463.8 193.4 L1435.7 191.5 L1410.4 190.6 L1385.1 194.8 L1365.4 197.6 L1345.7 196.2 L1323.2 196.2 L1303.5 199.9 L1286.7 194.8 L1261.4 196.2 L1238.9 198.5 L1224.8 192.0 L1216.4 183.6 L1196.7 181.6 L1174.2 184.4 L1154.5 189.2 L1132.0 191.5 L1117.9 192.0Z"/>
<path class="d" fill="none" d="M1117.9 125.9 L1652.2 125.9 L1652.2 202.4 L1637.9 202.4 L1618.5 201.9 L1598.8 199.6 L1594.8 199.7 M1545.9 201.6 L1539.8 201.9 L1520.1 198.5 L1494.8 195.7 L1463.8 193.4 L1435.7 191.5 L1410.4 190.6 L1385.1 194.8 L1365.4 197.6 L1345.7 196.2 L1323.2 196.2 L1303.5 199.9 L1286.7 194.8 L1261.4 196.2 L1238.9 198.5 L1224.8 192.0 L1216.4 183.6 L1196.7 181.6 L1174.2 184.4 L1154.5 189.2 L1132.0 191.5 L1117.9 192.0 L1117.9 125.9"/>
<path fill="#50a9af" fill-rule="evenodd" d="M1117.9 125.9 L1652.2 125.9 L1652.2 170.4 L1637.9 169.5 L1610.1 167.3 L1581.9 166.7 L1559.4 168.1 L1542.6 166.2 L1520.1 164.7 L1492.0 161.9 L1469.5 159.1 L1441.3 157.7 L1424.5 156.3 L1413.2 156.9 L1390.7 160.2 L1373.8 163.9 L1357.0 165.9 L1334.5 165.3 L1317.6 161.9 L1295.1 164.7 L1272.6 164.7 L1258.5 160.2 L1236.0 159.1 L1213.6 157.7 L1188.2 159.7 L1160.1 163.9 L1132.0 166.7 L1117.9 166.7Z"/>
<path class="d" fill="none" d="M1117.9 125.9 L1652.2 125.9 L1652.2 170.4 L1637.9 169.5 L1610.1 167.3 L1581.9 166.7 L1559.4 168.1 L1542.6 166.2 L1520.1 164.7 L1492.0 161.9 L1469.5 159.1 L1441.3 157.7 L1424.5 156.3 L1413.2 156.9 L1390.7 160.2 L1373.8 163.9 L1357.0 165.9 L1334.5 165.3 L1317.6 161.9 L1295.1 164.7 L1272.6 164.7 L1258.5 160.2 L1236.0 159.1 L1213.6 157.7 L1188.2 159.7 L1160.1 163.9 L1132.0 166.7 L1117.9 166.7 L1117.9 125.9"/>
<path fill="#3389bd" fill-rule="evenodd" d="M1129.2 137.2 L1143.8 137.2 L1143.8 147.6 L1129.2 147.6Z"/>
<path fill="#3389bd" fill-rule="evenodd" d="M1174.2 137.2 L1205.1 137.2 L1205.1 147.6 L1174.2 147.6Z"/>
<path fill="#3389bd" fill-rule="evenodd" d="M1311.4 137.2 L1340.7 137.2 L1340.7 147.6 L1311.4 147.6Z"/>
<path fill="#3389bd" fill-rule="evenodd" d="M1614.3 137.2 L1641.0 137.2 L1641.0 147.6 L1614.3 147.6Z"/>
</g>
<clipPath id="t10"><rect x="120" y="545" width="506" height="405"/></clipPath>
<g clip-path="url(#t10)">
<rect x="120" y="545" width="506" height="405" fill="#fdb768"/>
<path fill="#fed07e" fill-rule="evenodd" d="M105.9 530.9 L358.5 530.9 L359.0 545.0 L378.7 564.7 L370.3 578.7 L385.7 595.6 L364.7 611.1 L367.5 640.6 L373.0 654.9 L377.2 667.6 L392.7 678.9 L396.3 685.9 L390.6 701.4 L392.7 708.5 L409.6 722.6 L415.3 732.5 L422.3 748.0 L434.3 777.6 L425.9 793.1 L432.2 821.3 L451.2 838.2 L446.3 853.0 L453.3 863.6 L464.6 862.2 L484.3 848.8 L495.6 859.3 L506.9 867.8 L490.0 872.0 L471.7 883.3 L449.1 899.5 L439.2 901.6 L423.7 883.3 L408.2 898.8 L394.1 891.8 L387.1 874.8 L382.9 860.8 L373.0 849.5 L362.4 841.0 L346.9 844.5 L344.1 853.0 L359.6 862.2 L368.1 870.6 L362.4 881.2 L331.4 879.8 L317.3 867.8 L303.2 865.7 L289.1 860.8 L283.5 855.1 L275.0 832.6 L218.7 790.3 L105.9 713.7Z"/>
<path class="c" fill="none" d="M105.9 530.9 L358.5 530.9 L359.0 545.0 L378.7 564.7 L370.3 578.7 L385.7 595.6 L364.7 611.1 L367.5 640.6 L373.0 654.9 L377.2 667.6 L392.7 678.9 L396.3 685.9 L390.6 701.4 L392.7 708.5 L409.6 722.6 L415.3 732.5 L422.3 748.0 L434.3 777.6 L425.9 793.1 L432.2 821.3 L451.2 838.2 L446.3 853.0 L453.3 863.6 L464.6 862.2 L484.3 848.8 L495.6 859.3 L506.9 867.8 L490.0 872.0 L471.7 883.3 L449.1 899.5 L439.2 901.6 L423.7 883.3 L408.2 898.8 L394.1 891.8 L387.1 874.8 L382.9 860.8 L373.0 849.5 L362.4 841.0 L346.9 844.5 L344.1 853.0 L359.6 862.2 L368.1 870.6 L362.4 881.2 L331.4 879.8 L317.3 867.8 L303.2 865.7 L289.1 860.8 L283.5 855.1 L275.0 832.6 L218.7 790.3 L105.9 713.7 L105.9 530.9"/>
<path fill="#fed07e" fill-rule="evenodd" d="M118.6 796.6 L134.1 788.9 L150.3 782.5 L166.5 787.5 L180.6 788.9 L196.1 782.5 L206.7 778.3 L193.3 793.1 L198.9 810.0 L210.2 827.6 L204.6 832.6 L190.5 821.3 L179.2 814.2 L158.1 821.3 L150.3 816.4 L134.1 817.8 L118.6 813.5Z"/>
<path class="c" fill="none" d="M118.6 796.6 L134.1 788.9 L150.3 782.5 L166.5 787.5 L180.6 788.9 L196.1 782.5 L206.7 778.3 L193.3 793.1 L198.9 810.0 L210.2 827.6 L204.6 832.6 L190.5 821.3 L186.7 818.9 M160.0 820.7 L158.1 821.3 L150.3 816.4 L134.1 817.8 L118.6 813.5 L118.6 796.6"/>
<path fill="#fed07e" fill-rule="evenodd" d="M118.6 841.0 L134.1 846.7 L157.4 853.0 L165.1 859.3 L176.4 862.2 L189.1 869.2 L198.9 870.6 L209.5 883.3 L196.1 897.4 L166.5 881.9 L148.2 869.2 L134.1 865.7 L118.6 859.3Z"/>
<path class="c" fill="none" d="M118.6 841.0 L134.1 846.7 L157.4 853.0 L165.1 859.3 L176.4 862.2 L189.1 869.2 L198.9 870.6 L209.5 883.3 L196.1 897.4 L166.5 881.9 L148.2 869.2 L134.1 865.7 L118.6 859.3 L118.6 841.0"/>
<path fill="#fed07e" fill-rule="evenodd" d="M118.6 946.7 L131.3 943.9 L150.3 932.6 L165.1 929.8 L180.6 925.6 L186.2 928.4 L172.9 943.9 L177.8 952.4 L118.6 952.4Z"/>
<path class="c" fill="none" d="M118.6 946.7 L131.3 943.9 L150.3 932.6 L165.1 929.8 L180.6 925.6 L186.2 928.4 L172.9 943.9 L177.8 952.4 L118.6 952.4 L118.6 946.7"/>
<path fill="#fed07e" fill-rule="evenodd" d="M187.7 907.3 L203.2 907.3 L203.2 922.8 L187.7 922.8Z"/>
<path fill="#fed07e" fill-rule="evenodd" d="M266.6 862.2 L271.5 870.6 L274.3 883.3 L266.6 897.4 L260.9 905.9 L253.9 912.2 L246.8 919.2 L237.0 927.0 L229.9 936.9 L224.3 942.5 L210.2 946.7 L196.1 942.5 L204.6 952.4 L317.3 952.4 L328.6 943.9 L339.9 929.8 L364.5 923.5 L367.4 915.0 L363.8 914.3 L346.9 896.0 L331.4 895.3 L301.8 872.7 L283.5 867.8 L275.0 865.0Z"/>
<path class="c" fill="none" d="M266.6 862.2 L271.5 870.6 L274.3 883.3 L266.6 897.4 L260.9 905.9 L253.9 912.2 L246.8 919.2 L237.0 927.0 L229.9 936.9 L224.3 942.5 L210.2 946.7 L196.1 942.5 L200.3 947.4 M206.6 952.4 L317.3 952.4 L328.6 943.9 L339.9 929.8 L364.5 923.5 L367.4 915.0 L363.8 914.3 L346.9 896.0 L331.4 895.3 L301.8 872.7 L283.5 867.8 L275.0 865.0 L266.6 862.2"/>
<path fill="#fed07e" fill-rule="evenodd" d="M576.1 542.8 L589.6 547.0 L594.4 550.1 L621.1 560.2 L650.4 566.7 L650.4 530.9 L576.1 530.9Z"/>
<path class="c" fill="none" d="M576.1 542.8 L589.6 547.0 L594.4 550.1 L621.1 560.2 L650.4 566.7 L650.4 530.9 L576.1 530.9 L576.1 542.8"/>
<path fill="#fee797" fill-rule="evenodd" d="M118.6 556.3 L120.0 556.3 L128.5 547.8 L134.1 540.8 L203.2 540.8 L204.6 546.4 L227.1 547.8 L241.2 549.9 L253.9 564.7 L276.4 579.5 L277.2 595.0 L293.4 610.5 L319.4 640.8 L289.8 671.1 L294.8 685.9 L313.1 701.4 L303.9 717.0 L339.9 731.8 L337.8 748.0 L331.4 759.3 L317.3 776.2 L310.3 793.1 L335.6 794.5 L348.3 798.0 L365.2 790.3 L373.0 795.9 L373.0 801.6 L377.2 804.4 L385.7 821.3 L378.6 824.1 L373.0 823.4 L362.4 812.1 L348.3 815.7 L339.9 824.1 L331.4 826.9 L323.0 837.5 L351.1 867.8 L348.3 870.6 L331.4 871.3 L317.3 856.5 L303.2 841.7 L286.3 843.8 L271.5 849.5 L256.7 845.3 L241.2 828.3 L225.7 820.6 L210.2 827.6 L198.9 810.0 L193.3 793.1 L206.7 778.3 L208.8 762.1 L165.1 750.1 L150.3 758.6 L128.5 748.0 L120.0 740.9 L118.6 739.5Z"/>
<path class="c" fill="none" d="M118.6 556.3 L120.0 556.3 L128.5 547.8 L134.1 540.8 L203.2 540.8 L204.6 546.4 L227.1 547.8 L241.2 549.9 L253.9 564.7 L276.4 579.5 L277.2 595.0 L293.4 610.5 L319.4 640.8 L289.8 671.1 L294.8 685.9 L313.1 701.4 L303.9 717.0 L339.9 731.8 L337.8 748.0 L331.4 759.3 L317.3 776.2 L310.3 793.1 L335.6 794.5 L348.3 798.0 L365.2 790.3 L373.0 795.9 L373.0 801.6 L377.2 804.4 L385.7 821.3 L378.6 824.1 L373.0 823.4 L362.4 812.1 L348.3 815.7 L339.9 824.1 L331.4 826.9 L323.0 837.5 L351.1 867.8 L348.3 870.6 L331.4 871.3 L325.8 865.4 M307.5 846.2 L303.2 841.7 L286.3 843.8 L271.5 849.5 L256.7 845.3 L241.2 828.3 L225.7 820.6 L210.2 827.6 L198.9 810.0 L193.3 793.1 L206.7 778.3 L208.8 762.1 L165.1 750.1 L150.3 758.6 L128.5 748.0 L120.0 740.9 L118.6 739.5 L118.6 616.7 M118.6 602.6 L118.6 556.3"/>
<path fill="#fed07e" fill-rule="evenodd" d="M118.6 585.9 L126.3 587.3 L126.3 632.4 L118.6 633.1Z"/>
<path fill="#fed07e" fill-rule="evenodd" d="M279.3 633.1 L294.1 633.1 L294.1 648.6 L279.3 648.6Z"/>
<path fill="#fff7b2" fill-rule="evenodd" d="M118.6 664.1 L132.0 664.8 L136.9 660.6 L141.1 649.3 L144.0 632.4 L141.1 619.7 L136.9 609.1 L148.2 604.9 L166.5 597.4 L179.2 597.9 L187.7 602.1 L197.5 609.8 L207.4 623.9 L218.7 638.0 L227.1 649.3 L232.8 660.6 L241.2 685.9 L251.8 710.6 L253.9 728.2 L254.6 748.0 L252.5 748.0 L249.0 762.1 L249.7 776.2 L253.9 790.3 L257.4 804.4 L266.6 815.7 L277.9 820.6 L287.0 821.3 L284.9 825.5 L273.6 830.5 L266.6 829.0 L255.3 822.7 L241.2 812.8 L227.1 807.9 L221.5 800.1 L218.7 790.3 L219.4 776.2 L222.9 762.1 L210.2 753.6 L190.5 748.0 L179.2 740.9 L166.5 732.5 L145.4 728.2 L128.5 721.2 L120.0 714.1 L118.6 713.4Z"/>
<path class="d" fill="none" d="M118.6 664.1 L132.0 664.8 L136.9 660.6 L141.1 649.3 L144.0 632.4 L141.1 619.7 L136.9 609.1 L148.2 604.9 L166.5 597.4 L179.2 597.9 L187.7 602.1 L197.5 609.8 L207.4 623.9 L218.7 638.0 L227.1 649.3 L232.8 660.6 L236.7 672.3 M250.2 706.8 L251.8 710.6 L253.9 728.2 L254.6 748.0 L252.5 748.0 L249.0 762.1 L249.7 776.2 L253.9 790.3 L257.4 804.4 L266.6 815.7 L277.9 820.6 L287.0 821.3 L284.9 825.5 L273.6 830.5 L266.6 829.0 L255.3 822.7 L241.2 812.8 L227.1 807.9 L221.5 800.1 L218.7 790.3 L219.4 776.2 L222.9 762.1 L210.2 753.6 L190.5 748.0 L179.2 740.9 L166.5 732.5 L145.4 728.2 L128.5 721.2 L120.0 714.1 L118.6 713.4 L118.6 664.1"/>
<path fill="#f8fcb4" fill-rule="evenodd" d="M149.6 664.8 L162.3 668.3 L179.2 667.6 L183.4 671.8 L185.5 685.9 L190.5 694.4 L198.9 701.4 L207.4 718.4 L213.0 731.0 L204.6 736.0 L196.1 736.0 L184.8 731.8 L168.6 719.1 L155.2 697.9 L148.2 688.8 L147.5 676.1Z"/>
<path class="d" fill="none" d="M149.6 664.8 L162.3 668.3 L179.2 667.6 L183.4 671.8 L185.5 685.9 L190.5 694.4 L198.9 701.4 L207.4 718.4 L213.0 731.0 L204.6 736.0 L196.1 736.0 L184.8 731.8 L183.2 730.5 M157.5 701.4 L155.2 697.9 L148.2 688.8 L147.5 676.1 L149.6 664.8"/>
<path fill="#fa9857" fill-rule="evenodd" d="M633.7 690.2 L619.7 692.3 L604.1 690.9 L590.1 693.0 L584.4 690.2 L573.1 695.8 L559.0 706.4 L544.2 700.7 L537.2 717.0 L540.0 728.2 L543.5 738.1 L560.5 748.0 L576.0 759.3 L580.2 777.6 L568.9 808.6 L577.4 836.8 L598.5 852.3 L626.0 865.0 L633.7 867.8Z"/>
<path class="c" fill="none" d="M633.7 690.2 L619.7 692.3 L604.1 690.9 L590.1 693.0 L584.4 690.2 L573.1 695.8 L559.0 706.4 L544.2 700.7 L537.2 717.0 L540.0 728.2 L543.5 738.1 L560.5 748.0 L576.0 759.3 L580.2 777.6 L568.9 808.6 L577.4 836.8 L598.5 852.3 L626.0 865.0 L633.7 867.8 L633.7 690.2"/>
<path fill="#f57547" fill-rule="evenodd" d="M607.7 772.7 L612.6 762.1 L619.7 760.0 L633.7 764.9 L633.7 810.0 L626.0 811.7 L618.2 810.0 L611.2 804.4 L605.6 793.1 L604.1 783.2Z"/>
<path class="c" fill="none" d="M607.7 772.7 L612.6 762.1 L619.7 760.0 L633.7 764.9 L633.7 810.0 L626.0 811.7 L618.2 810.0 L613.0 805.8 M605.6 779.0 L607.7 772.7"/>
<path fill="#fa9857" fill-rule="evenodd" d="M507.6 898.8 L513.9 890.4 L528.0 887.5 L542.1 881.9 L559.0 877.0 L574.6 875.6 L594.3 884.0 L588.6 890.4 L581.6 898.8 L573.1 904.4 L564.7 912.2 L560.5 918.5 L554.8 912.9 L544.2 910.1 L536.5 914.3 L529.4 924.9 L522.4 911.5Z"/>
<path class="c" fill="none" d="M507.6 898.8 L513.9 890.4 L528.0 887.5 L542.1 881.9 L559.0 877.0 L574.6 875.6 L594.3 884.0 L591.5 887.2 M569.8 907.5 L564.7 912.2 L560.5 918.5 L554.8 912.9 L544.2 910.1 L540.4 912.2 M531.8 921.4 L529.4 924.9 L522.4 911.5 L507.6 898.8"/>
<path fill="#fa9857" fill-rule="evenodd" d="M474.5 914.3 L484.3 912.2 L497.0 914.3 L525.2 929.1 L518.2 932.6 L499.8 935.5 L480.1 931.2 L475.9 925.6Z"/>
<path class="c" fill="none" d="M474.5 914.3 L484.3 912.2 L497.0 914.3 L525.2 929.1 L518.2 932.6 L514.1 933.3 M486.0 932.5 L480.1 931.2 L475.9 925.6 L474.5 914.3"/>
<path fill="#fa9857" fill-rule="evenodd" d="M536.5 924.2 L552.0 924.2 L552.0 935.5 L536.5 935.5Z"/>
<path fill="#fa9857" fill-rule="evenodd" d="M355.4 888.9 L359.6 874.8 L373.0 872.0 L377.9 869.2 L384.3 877.7 L387.1 897.4 L403.3 912.9 L392.7 920.7 L378.6 904.4 L366.7 905.9 L356.8 903.0Z"/>
<path class="c" fill="none" d="M357.8 880.9 L359.6 874.8 L373.0 872.0 L377.9 869.2 L384.3 877.7 L387.1 897.4 L403.3 912.9 L392.7 920.7 L378.6 904.4 L366.7 905.9"/>
<path fill="#f57547" fill-rule="evenodd" d="M377.2 877.0 L381.5 884.0 L377.2 891.8 L372.3 884.0Z"/>
<path class="c" fill="none" d="M377.2 877.0 L381.5 884.0 L377.2 891.8 L372.3 884.0 L377.2 877.0"/>
<path fill="#fa9857" fill-rule="evenodd" d="M217.3 865.7 L227.1 862.9 L245.4 868.5 L246.8 874.8 L218.7 874.8Z"/>
<path class="c" fill="none" d="M237.3 866.0 L245.4 868.5 L246.8 874.8 L240.8 874.8"/>
<path fill="#fa9857" fill-rule="evenodd" d="M158.1 769.8 L172.9 769.8 L172.9 784.6 L158.1 784.6Z"/>
<path fill="#fa9857" fill-rule="evenodd" d="M118.6 770.6 L126.3 770.6 L126.3 784.6 L118.6 784.6Z"/>
<path fill="#fa9857" fill-rule="evenodd" d="M118.6 815.7 L126.3 815.7 L126.3 831.2 L118.6 831.2Z"/>
<path class="c" fill="none" d="M120.0 838.2 L134.1 836.1 L150.3 847.4 L165.1 848.8 L179.2 853.7 L181.3 856.5 L189.1 846.7 L192.6 838.2 L191.9 826.9 L189.8 822.0"/>
<path class="c" fill="none" d="M120.0 812.8 L134.1 817.8 L150.3 816.4 L158.1 822.0"/>
<path class="c" fill="none" d="M153.8 771.3 L165.1 767.0 L180.6 769.8 L196.1 769.1 L199.6 777.6 L194.7 782.5 L180.6 788.2 L166.5 786.8 L150.3 781.8 L134.1 788.2 L120.0 797.3"/>
<path class="c" fill="none" d="M196.1 869.2 L198.9 853.0 L211.6 838.2 L225.7 831.9 L239.1 837.5 L217.3 853.0 L228.5 855.8 L241.2 856.5 L255.3 859.3 L266.6 862.2"/>
</g>
<clipPath id="t11"><rect x="626" y="545" width="506" height="405"/></clipPath>
<g clip-path="url(#t11)">
<rect x="626" y="545" width="506" height="405" fill="#fdb768"/>
<path fill="#fed07e" fill-rule="evenodd" d="M611.9 560.5 L626.0 560.5 L642.9 566.1 L665.4 566.1 L687.9 559.1 L710.4 552.0 L721.6 546.4 L724.4 539.1 L741.3 540.5 L758.5 546.1 L772.5 547.5 L797.0 547.5 L762.7 564.4 L783.5 571.7 L822.9 575.9 L848.2 574.5 L873.5 580.2 L887.5 595.6 L873.5 611.1 L879.1 619.5 L910.0 625.1 L935.3 639.2 L963.5 642.0 L991.6 649.0 L1014.1 653.3 L1033.8 650.5 L1059.1 646.2 L1075.9 650.5 L1090.0 658.9 L1109.7 661.7 L1131.9 677.2 L1146.2 682.8 L1146.2 530.9 L611.9 530.9Z"/>
<path class="c" fill="none" d="M611.9 560.5 L626.0 560.5 L642.9 566.1 L665.4 566.1 L687.9 559.1 L710.4 552.0 L721.6 546.4 L724.4 539.1 L741.3 540.5 L758.5 546.1 L772.5 547.5 L797.0 547.5 L762.7 564.4 L783.5 571.7 L822.9 575.9 L848.2 574.5 L873.5 580.2 L887.5 595.6 L873.5 611.1 L879.1 619.5 L910.0 625.1 L935.3 639.2 L963.5 642.0 L991.6 649.0 L1014.1 653.3 L1033.8 650.5 L1059.1 646.2 L1075.9 650.5 L1090.0 658.9 L1109.7 661.7 L1131.9 677.2 L1146.2 682.8 L1146.2 530.9 L611.9 530.9 L611.9 560.5"/>
<path fill="#fee797" fill-rule="evenodd" d="M983.1 530.9 L983.1 545.0 L1008.5 549.2 L1011.3 564.7 L1002.8 580.2 L1016.9 595.6 L1042.2 602.6 L1075.9 608.3 L1113.9 611.9 L1131.9 619.5 L1146.2 625.1 L1146.2 530.9Z"/>
<path class="c" fill="none" d="M983.1 530.9 L983.1 545.0 L1008.5 549.2 L1011.3 564.7 L1002.8 580.2 L1016.9 595.6 L1042.2 602.6 L1075.9 608.3 L1081.9 608.9 M1109.9 611.5 L1113.9 611.9 L1131.9 619.5 L1146.2 625.1 L1146.2 530.9 L983.1 530.9"/>
<path fill="#fff7b2" fill-rule="evenodd" d="M1122.3 542.2 L1131.9 552.9 L1146.2 561.9 L1146.2 542.2Z"/>
<path class="d" fill="none" d="M1122.3 542.2 L1131.9 552.9 L1146.2 561.9 L1146.2 542.2 L1122.3 542.2"/>
<path fill="#fa9857" fill-rule="evenodd" d="M611.9 691.0 L626.0 691.0 L665.4 689.8 L685.1 682.2 L710.4 680.0 L732.9 685.6 L749.7 699.1 L766.6 693.5 L806.0 693.5 L822.9 701.1 L839.7 710.4 L859.4 716.0 L873.5 723.6 L890.3 729.2 L907.2 732.0 L918.5 739.0 L943.8 732.9 L953.6 721.6 L969.1 713.7 L974.7 702.5 L983.1 699.1 L994.4 701.1 L991.6 713.7 L1000.0 730.6 L1025.3 716.5 L1033.8 716.5 L1035.2 730.6 L1028.1 747.5 L1042.2 758.7 L1064.7 770.0 L1080.2 789.7 L1070.3 799.5 L1047.8 795.3 L1019.7 799.5 L994.4 805.1 L983.1 822.0 L957.8 826.2 L941.0 837.5 L952.2 843.1 L969.1 843.1 L986.0 845.9 L997.2 852.9 L994.4 871.2 L1014.1 872.6 L1028.1 883.9 L1008.5 896.5 L1005.6 907.8 L986.0 907.8 L969.1 903.5 L952.2 919.0 L935.3 924.6 L924.1 934.5 L907.2 907.8 L896.0 882.5 L879.1 878.2 L851.0 876.8 L832.7 881.1 L808.8 865.6 L783.5 861.4 L755.4 858.6 L741.3 865.6 L723.0 854.3 L709.0 868.4 L693.5 881.1 L665.4 897.1 L642.9 885.3 L631.6 871.2 L626.0 865.6 L611.9 862.8Z"/>
<path class="c" fill="none" d="M611.9 691.0 L626.0 691.0 L665.4 689.8 L685.1 682.2 L710.4 680.0 L732.9 685.6 L749.7 699.1 L766.6 693.5 L806.0 693.5 L822.9 701.1 L839.7 710.4 L859.4 716.0 L873.5 723.6 L890.3 729.2 L907.2 732.0 L918.5 739.0 L943.8 732.9 L953.6 721.6 L969.1 713.7 L974.7 702.5 L983.1 699.1 L994.4 701.1 L991.6 713.7 L1000.0 730.6 L1025.3 716.5 L1033.8 716.5 L1035.2 730.6 L1028.1 747.5 L1042.2 758.7 L1064.7 770.0 L1080.2 789.7 L1070.3 799.5 L1047.8 795.3 L1019.7 799.5 L994.4 805.1 L983.1 822.0 L957.8 826.2 L941.0 837.5 L952.2 843.1 L969.1 843.1 L986.0 845.9 L997.2 852.9 L994.4 871.2 L1014.1 872.6 L1028.1 883.9 L1008.5 896.5 L1005.6 907.8 L986.0 907.8 L969.1 903.5 L952.2 919.0 L935.3 924.6 L924.1 934.5 L907.2 907.8 L896.0 882.5 L879.1 878.2 L851.0 876.8 L832.7 881.1 L808.8 865.6 L783.5 861.4 L755.4 858.6 L741.3 865.6 L723.0 854.3 L719.9 857.5 M698.6 876.8 L693.5 881.1 L665.4 897.1 L642.9 885.3 L631.6 871.2 L626.0 865.6 L611.9 862.8 L611.9 691.0"/>
<path fill="#f57547" fill-rule="evenodd" d="M611.9 761.5 L626.0 764.3 L637.2 770.0 L644.3 778.4 L644.3 792.5 L637.2 803.7 L626.0 810.7 L611.9 812.2Z"/>
<path class="c" fill="none" d="M611.9 761.5 L626.0 764.3 L637.2 770.0 L644.3 778.4 L644.3 792.5 L637.2 803.7 L626.0 810.7 L611.9 812.2 L611.9 806.1 M611.9 777.7 L611.9 761.5"/>
<path fill="#f57547" fill-rule="evenodd" d="M977.5 753.1 L991.6 750.8 L1008.5 753.1 L1025.3 761.5 L1022.5 775.6 L1015.5 789.1 L1000.0 789.7 L988.8 782.6 L977.5 774.2Z"/>
<path class="c" fill="none" d="M977.5 753.1 L989.6 751.2 M1010.3 754.0 L1025.3 761.5 L1022.5 775.6 L1015.5 789.1 L1000.0 789.7 L988.8 782.6 L977.5 774.2 L977.5 753.1"/>
<path fill="#e85b48" fill-rule="evenodd" d="M993.0 777.0 L1000.0 772.8 L1007.0 777.0 L1000.0 781.8Z"/>
<path class="c" fill="none" d="M993.0 777.0 L1000.0 772.8 L1007.0 777.0 L1000.0 781.8 L993.0 777.0"/>
<path fill="#f57547" fill-rule="evenodd" d="M901.6 786.8 L915.7 786.8 L915.7 799.5 L901.6 799.5Z"/>
<path fill="#f57547" fill-rule="evenodd" d="M977.5 799.5 L991.6 799.5 L991.6 816.4 L977.5 816.4Z"/>
<path fill="#f57547" fill-rule="evenodd" d="M824.3 799.5 L839.7 799.5 L839.7 815.0 L824.3 815.0Z"/>
<path fill="#f57547" fill-rule="evenodd" d="M826.2 807.9 L832.7 803.7 L837.5 807.9 L832.7 811.6Z"/>
<path class="c" fill="none" d="M826.2 807.9 L832.7 803.7 L837.5 807.9 L832.7 811.6 L826.2 807.9"/>
<path fill="#fdb768" fill-rule="evenodd" d="M870.7 845.9 L885.3 845.9 L885.3 860.5 L870.7 860.5Z"/>
<path fill="#fa9857" fill-rule="evenodd" d="M839.7 890.9 L855.2 890.9 L855.2 906.4 L885.3 906.4 L885.3 921.8 L839.7 921.8Z"/>
<path class="c" fill="none" d="M843.9 916.2 L843.4 897.9 L848.2 895.1 L865.0 905.0 L877.7 909.2 L880.5 913.4"/>
<path fill="#fa9857" fill-rule="evenodd" d="M991.6 921.8 L1022.5 921.8 L1022.5 938.7 L991.6 938.7Z"/>
<path class="c" fill="none" d="M1011.6 926.7 L1015.5 928.9"/>
<path fill="#fa9857" fill-rule="evenodd" d="M1022.5 935.9 L1037.1 935.9 L1037.1 951.4 L1022.5 951.4Z"/>
<path fill="#fa9857" fill-rule="evenodd" d="M1038.0 860.0 L1070.3 860.0 L1070.3 874.6 L1038.0 874.6Z"/>
<path class="c" fill="none" d="M1049.2 862.8 L1060.5 860.5 L1072.6 867.8 L1063.3 870.6"/>
<path fill="#fa9857" fill-rule="evenodd" d="M1007.0 845.9 L1022.5 845.9 L1022.5 860.5 L1007.0 860.5Z"/>
<path fill="#fa9857" fill-rule="evenodd" d="M1113.9 784.0 L1135.0 784.0 L1135.0 799.5 L1113.9 799.5Z"/>
<path class="c" fill="none" d="M915.7 806.5 L938.1 788.3 L949.4 806.5 L939.6 822.0"/>
<path class="c" fill="none" d="M936.5 902.0 L941.0 901.6 L948.0 897.9 L942.4 896.5"/>
</g>
<clipPath id="t12"><rect x="1132" y="545" width="506" height="405"/></clipPath>
<g clip-path="url(#t12)">
<rect x="1132" y="545" width="506" height="405" fill="#fed07e"/>
<path fill="#fee797" fill-rule="evenodd" d="M1117.9 530.9 L1402.0 530.9 L1393.5 545.0 L1376.7 550.1 L1372.4 564.7 L1362.6 568.9 L1348.5 570.3 L1333.1 574.5 L1317.6 564.1 L1306.4 568.1 L1289.5 573.1 L1272.6 580.2 L1255.7 590.0 L1241.7 597.0 L1227.6 598.4 L1213.6 602.6 L1196.7 605.5 L1182.6 613.9 L1165.7 614.7 L1137.6 621.5 L1132.0 619.5 L1117.9 623.7Z"/>
<path class="c" fill="none" d="M1117.9 530.9 L1402.0 530.9 L1393.5 545.0 L1376.7 550.1 L1372.4 564.7 L1362.6 568.9 L1348.5 570.3 L1333.1 574.5 L1317.6 564.1 L1306.4 568.1 L1289.5 573.1 L1272.6 580.2 L1255.7 590.0 L1241.7 597.0 L1227.6 598.4 L1213.6 602.6 L1196.7 605.5 L1182.6 613.9 L1165.7 614.7 L1137.6 621.5 L1132.0 619.5 L1117.9 623.7 L1117.9 530.9"/>
<path fill="#fff7b2" fill-rule="evenodd" d="M1117.9 530.9 L1238.9 530.9 L1236.0 545.0 L1222.0 554.8 L1212.1 561.9 L1206.5 554.8 L1196.7 546.4 L1179.8 547.2 L1165.7 551.2 L1148.9 554.8 L1132.0 556.2 L1117.9 557.7Z"/>
<path class="d" fill="none" d="M1117.9 530.9 L1238.9 530.9 L1236.0 545.0 L1222.0 554.8 L1212.1 561.9 L1206.5 554.8 L1196.7 546.4 L1179.8 547.2 L1165.7 551.2 L1148.9 554.8 L1132.0 556.2 L1117.9 557.7 L1117.9 530.9"/>
<path fill="#fed07e" fill-rule="evenodd" d="M1338.7 550.1 L1348.5 545.0 L1351.3 554.8 L1345.7 555.7Z"/>
<path class="c" fill="none" d="M1338.7 550.1 L1348.5 545.0 L1351.3 554.8 L1345.7 555.7 L1338.7 550.1"/>
<path fill="#fdb768" fill-rule="evenodd" d="M1117.9 679.4 L1132.0 679.4 L1167.2 680.5 L1182.6 692.6 L1196.7 698.3 L1212.1 694.9 L1224.2 701.1 L1205.7 731.2 L1213.6 744.7 L1227.6 755.9 L1238.9 768.6 L1247.9 777.0 L1231.8 792.5 L1233.8 807.9 L1243.1 826.2 L1257.1 837.5 L1252.9 852.9 L1258.0 857.7 L1267.0 850.1 L1288.1 845.3 L1295.1 851.5 L1289.5 862.8 L1296.5 881.1 L1288.1 890.9 L1272.6 886.7 L1255.7 913.4 L1240.3 928.9 L1240.3 942.9 L1247.3 949.9 L1252.9 955.6 L1117.9 955.6Z"/>
<path class="c" fill="none" d="M1117.9 679.4 L1132.0 679.4 L1167.2 680.5 L1182.6 692.6 L1196.7 698.3 L1212.1 694.9 L1224.2 701.1 L1205.7 731.2 L1213.6 744.7 L1227.6 755.9 L1238.9 768.6 L1247.9 777.0 L1231.8 792.5 L1233.8 807.9 L1243.1 826.2 L1257.1 837.5 L1252.9 852.9 L1258.0 857.7 L1267.0 850.1 L1288.1 845.3 L1295.1 851.5 L1289.5 862.8 L1296.5 881.1 L1288.1 890.9 L1272.6 886.7 L1255.7 913.4 L1240.3 928.9 L1240.3 942.9 L1247.3 949.9 L1252.9 955.6 L1117.9 955.6 L1117.9 679.4"/>
<path fill="#fdb768" fill-rule="evenodd" d="M1614.3 588.6 L1641.0 588.6 L1641.0 602.6 L1614.3 602.6Z"/>
<path fill="#fdb768" fill-rule="evenodd" d="M1629.8 649.0 L1641.0 649.0 L1641.0 663.1 L1629.8 663.1Z"/>
<path fill="#fee797" fill-rule="evenodd" d="M1594.6 750.3 L1607.3 745.2 L1612.9 746.9 L1634.0 761.5 L1626.9 784.0 L1619.9 807.9 L1641.0 820.6 L1641.0 827.6 L1621.3 838.9 L1624.1 852.9 L1610.1 869.8 L1593.2 885.3 L1576.3 896.5 L1558.0 883.9 L1560.9 868.4 L1545.4 865.6 L1536.9 852.9 L1528.5 847.3 L1515.9 843.7 L1500.4 845.9 L1493.9 837.5 L1496.2 822.0 L1506.0 807.9 L1512.2 791.1 L1531.3 781.2 L1545.4 771.4 L1558.0 761.5 L1576.3 754.5Z"/>
<path class="c" fill="none" d="M1594.6 750.3 L1607.3 745.2 L1612.9 746.9 L1634.0 761.5 L1626.9 784.0 L1619.9 807.9 L1641.0 820.6 L1641.0 827.6 L1621.3 838.9 L1624.1 852.9 L1610.1 869.8 L1593.2 885.3 L1576.3 896.5 L1558.0 883.9 L1560.9 868.4 L1545.4 865.6 L1536.9 852.9 L1528.5 847.3 L1515.9 843.7 L1500.4 845.9 L1493.9 837.5 L1496.2 822.0 L1506.0 807.9 L1512.2 791.1 L1531.3 781.2 L1545.4 771.4 L1558.0 761.5 L1564.1 759.2 M1590.5 751.2 L1594.6 750.3"/>
<path fill="#fee797" fill-rule="evenodd" d="M1392.1 863.6 L1413.2 859.4 L1439.9 854.9 L1456.8 868.4 L1465.2 883.9 L1480.7 897.9 L1500.4 913.4 L1504.6 928.9 L1500.4 937.3 L1487.7 937.3 L1470.9 928.9 L1452.6 920.4 L1441.3 914.8 L1424.5 900.7 L1416.0 889.5 L1409.0 874.0 L1392.1 868.4Z"/>
<path class="c" fill="none" d="M1392.1 863.6 L1413.2 859.4 L1439.9 854.9 L1456.8 868.4 L1465.2 883.9 L1480.7 897.9 L1500.4 913.4 L1504.6 928.9 L1500.4 937.3 L1487.7 937.3 L1484.0 935.4 M1458.1 923.0 L1452.6 920.4 L1441.3 914.8 L1424.5 900.7 L1416.0 889.5 L1409.0 874.0 L1392.1 868.4 L1392.1 863.6"/>
</g>
<clipPath id="t20"><rect x="120" y="950" width="506" height="405"/></clipPath>
<g clip-path="url(#t20)">
<rect x="120" y="950" width="506" height="405" fill="#fed07e"/>
<path fill="#fdb768" fill-rule="evenodd" d="M318.3 947.2 L309.8 959.8 L318.3 968.3 L339.3 973.9 L347.2 979.5 L361.8 957.9 L378.7 957.0 L381.5 959.8 L368.9 975.3 L384.3 989.4 L408.2 1007.6 L426.5 1010.5 L439.2 1014.1 L453.2 1025.9 L460.8 1018.9 L449.6 1002.0 L453.2 998.4 L468.7 1002.0 L482.8 996.4 L491.2 990.8 L489.0 975.3 L499.6 965.5 L513.7 975.3 L527.8 976.7 L544.6 985.2 L562.9 978.1 L575.6 957.9 L592.4 965.5 L606.5 971.1 L619.2 969.7 L629.0 961.2 L629.0 947.2Z"/>
<path class="c" fill="none" d="M318.3 947.2 L309.8 959.8 L318.3 968.3 L339.3 973.9 L347.2 979.5 L361.8 957.9 L378.7 957.0 L381.5 959.8 L368.9 975.3 L384.3 989.4 L408.2 1007.6 L426.5 1010.5 L439.2 1014.1 L453.2 1025.9 L460.8 1018.9 L449.6 1002.0 L453.2 998.4 L468.7 1002.0 L482.8 996.4 L491.2 990.8 L489.0 975.3 L499.6 965.5 L513.7 975.3 L527.8 976.7 L544.6 985.2 L562.9 978.1 L575.6 957.9 L592.4 965.5 L606.5 971.1 L619.2 969.7 L629.0 961.2 L629.0 947.2 L318.3 947.2"/>
<path fill="#fdb768" fill-rule="evenodd" d="M158.0 951.4 L173.4 951.4 L173.4 966.3 L158.0 966.3Z"/>
<path fill="#fdb768" fill-rule="evenodd" d="M143.1 966.9 L158.0 966.9 L158.0 981.5 L143.1 981.5Z"/>
<path fill="#fdb768" fill-rule="evenodd" d="M173.4 948.6 L218.4 948.6 L218.4 952.2 L173.4 952.2Z"/>
<path fill="#fa9857" fill-rule="evenodd" d="M536.2 951.4 L551.7 951.4 L551.7 966.9 L536.2 966.9Z"/>
<path fill="#fa9857" fill-rule="evenodd" d="M539.0 959.3 L544.6 955.1 L550.3 959.3 L544.6 963.5Z"/>
<path class="c" fill="none" d="M539.0 959.3 L544.6 955.1 L550.3 959.3 L544.6 963.5 L539.0 959.3"/>
<path fill="#fee797" fill-rule="evenodd" d="M105.9 1104.7 L120.0 1104.7 L134.1 1104.1 L148.1 1107.5 L165.0 1116.5 L180.5 1113.1 L195.9 1115.4 L210.6 1121.0 L217.0 1110.9 L225.5 1106.9 L232.5 1092.0 L240.9 1081.3 L255.0 1096.2 L260.6 1113.1 L261.5 1126.6 L241.5 1141.8 L257.8 1151.1 L277.5 1159.5 L286.5 1162.9 L300.0 1158.7 L316.9 1151.1 L330.9 1141.2 L347.8 1126.6 L364.7 1122.9 L378.2 1120.1 L392.8 1109.7 L406.8 1116.5 L422.3 1121.0 L437.8 1127.2 L454.6 1135.6 L468.7 1140.7 L484.2 1141.2 L499.6 1136.2 L513.7 1135.6 L529.2 1133.4 L544.6 1145.4 L555.9 1144.6 L574.2 1142.6 L593.8 1137.9 L606.5 1130.0 L620.6 1125.8 L625.9 1128.6 L640.2 1132.8 L640.2 1371.8 L105.9 1371.8Z"/>
<path class="c" fill="none" d="M105.9 1104.7 L120.0 1104.7 L134.1 1104.1 L148.1 1107.5 L165.0 1116.5 L180.5 1113.1 L195.9 1115.4 L210.6 1121.0 L217.0 1110.9 L225.5 1106.9 L232.5 1092.0 L240.9 1081.3 L255.0 1096.2 L260.6 1113.1 L261.5 1126.6 L241.5 1141.8 L257.8 1151.1 L277.5 1159.5 L286.5 1162.9 L300.0 1158.7 L316.9 1151.1 L330.9 1141.2 L347.8 1126.6 L364.7 1122.9 L378.2 1120.1 L392.8 1109.7 L406.8 1116.5 L422.3 1121.0 L437.8 1127.2 L454.6 1135.6 L468.7 1140.7 L484.2 1141.2 L499.6 1136.2 L513.7 1135.6 L529.2 1133.4 L544.6 1145.4 L555.9 1144.6 L559.9 1144.2 M587.9 1139.3 L593.8 1137.9 L606.5 1130.0 L620.6 1125.8 L625.9 1128.6 L640.2 1132.8 L640.2 1371.8 L105.9 1371.8 L105.9 1104.7"/>
<path fill="#fee797" fill-rule="evenodd" d="M294.4 1103.3 L309.8 1103.3 L309.8 1118.7 L294.4 1118.7Z"/>
<path class="c" fill="none" d="M291.0 1111.4 L301.4 1115.4 L311.8 1111.4"/>
<path fill="#fed07e" fill-rule="evenodd" d="M340.8 1163.7 L368.9 1163.7 L368.9 1179.2 L340.8 1179.2Z"/>
<path class="c" fill="none" d="M355.8 1166.0 L361.8 1165.1 L368.0 1172.2 L365.2 1174.1"/>
<path fill="#fff7b2" fill-rule="evenodd" d="M105.9 1246.7 L120.0 1246.7 L134.1 1248.1 L148.1 1242.5 L163.6 1240.5 L179.1 1244.7 L194.5 1246.7 L210.0 1253.7 L224.0 1257.9 L248.0 1263.6 L269.0 1269.2 L283.1 1274.8 L300.0 1281.8 L316.9 1284.6 L328.1 1291.7 L345.0 1304.3 L359.0 1318.4 L370.3 1331.0 L375.9 1340.9 L371.7 1349.3 L368.9 1356.4 L368.9 1371.8 L105.9 1371.8Z"/>
<path class="d" fill="none" d="M105.9 1246.7 L120.0 1246.7 L134.1 1248.1 L148.1 1242.5 L163.6 1240.5 L179.1 1244.7 L194.5 1246.7 L210.0 1253.7 L224.0 1257.9 L230.0 1259.3 M266.9 1268.6 L269.0 1269.2 L283.1 1274.8 L300.0 1281.8 L316.9 1284.6 L328.1 1291.7 L345.0 1304.3 L359.0 1318.4 L370.3 1331.0 L375.9 1340.9 L371.7 1349.3 L368.9 1356.4 L368.9 1371.8 L105.9 1371.8 L105.9 1246.7"/>
<path fill="#fee797" fill-rule="evenodd" d="M190.3 1318.4 L195.4 1310.5 L201.6 1318.4 L200.1 1325.4 L193.7 1326.8Z"/>
<path class="d" fill="none" d="M190.3 1318.4 L195.4 1310.5 L201.6 1318.4 L200.1 1325.4 L193.7 1326.8 L190.3 1318.4"/>
<path fill="#fee797" fill-rule="evenodd" d="M264.0 1346.0 L279.2 1346.0 L279.2 1356.4 L264.0 1356.4Z"/>
<path fill="#fff7b2" fill-rule="evenodd" d="M369.7 1286.1 L415.8 1286.1 L415.8 1301.0 L369.7 1301.0Z"/>
<path class="d" fill="none" d="M370.3 1293.6 L375.9 1289.7 L390.0 1288.3 L404.0 1289.7 L411.1 1293.6 L409.7 1296.5"/>
<path fill="#fff7b2" fill-rule="evenodd" d="M430.7 1286.1 L446.2 1286.1 L446.2 1301.0 L430.7 1301.0Z"/>
<path fill="#fff7b2" fill-rule="evenodd" d="M432.1 1291.7 L437.8 1288.9 L444.0 1291.7 L442.8 1297.3 L436.4 1298.7Z"/>
<path class="d" fill="none" d="M432.1 1291.7 L437.8 1288.9 L444.0 1291.7 L442.8 1297.3 L436.4 1298.7 L432.1 1291.7"/>
<path fill="#fff7b2" fill-rule="evenodd" d="M457.5 1321.2 L465.9 1311.4 L477.1 1304.3 L494.0 1299.3 L510.9 1297.9 L527.8 1300.1 L547.4 1304.3 L564.3 1307.1 L569.9 1318.4 L572.8 1332.5 L577.0 1339.5 L595.3 1343.7 L609.3 1347.9 L625.9 1347.9 L640.2 1347.9 L640.2 1371.8 L401.2 1371.8 L401.2 1354.9 L415.3 1347.9 L429.3 1340.9 L446.2 1332.5Z"/>
<path class="d" fill="none" d="M457.5 1321.2 L465.9 1311.4 L477.1 1304.3 L494.0 1299.3 L510.9 1297.9 L527.8 1300.1 L547.4 1304.3 L564.3 1307.1 L569.9 1318.4 L572.8 1332.5 L577.0 1339.5 L595.3 1343.7 L609.3 1347.9 L625.9 1347.9 L640.2 1347.9 L640.2 1371.8 L401.2 1371.8 L401.2 1354.9 L415.3 1347.9 L421.3 1344.9 M454.2 1324.4 L457.5 1321.2"/>
<path fill="#fa9857" fill-rule="evenodd" d="M595.3 1051.2 L603.7 1042.8 L614.9 1047.0 L629.0 1058.3 L629.0 1073.7 L614.9 1070.9 L603.7 1062.5Z"/>
<path class="c" fill="none" d="M595.3 1051.2 L603.7 1042.8 L614.9 1047.0 L629.0 1058.3 L629.0 1073.7 L614.9 1070.9 L603.7 1062.5 L595.3 1051.2"/>
<path fill="#f57547" fill-rule="evenodd" d="M610.7 1058.3 L629.0 1058.3 L629.0 1073.7 L610.7 1073.7Z"/>
</g>
<clipPath id="t21"><rect x="626" y="950" width="506" height="405"/></clipPath>
<g clip-path="url(#t21)">
<rect x="626" y="950" width="506" height="405" fill="#fdb768"/>
<path fill="#fed07e" fill-rule="evenodd" d="M624.6 972.4 L626.0 973.1 L635.1 991.4 L650.5 999.8 L666.0 999.8 L696.1 1017.0 L711.6 1006.1 L727.0 1018.7 L732.6 1020.8 L741.7 1027.4 L756.4 1015.5 L771.9 1016.9 L787.3 1015.6 L802.7 1022.2 L818.1 1022.9 L836.4 1029.9 L858.8 1044.0 L864.4 1051.0 L872.8 1066.4 L879.0 1069.2 L893.0 1060.8 L907.1 1056.6 L924.6 1053.8 L923.9 1076.2 L922.5 1081.8 L923.9 1090.3 L925.9 1108.4 L927.7 1123.1 L925.9 1137.8 L916.7 1150.7 L906.5 1163.6 L896.4 1171.9 L897.3 1185.7 L893.7 1190.3 L890.9 1185.7 L891.8 1156.2 L879.9 1143.4 L868.8 1132.3 L857.8 1124.0 L848.6 1118.5 L839.4 1128.6 L833.9 1139.7 L835.7 1152.6 L843.1 1174.7 L837.5 1185.7 L835.7 1204.1 L838.5 1217.0 L832.0 1220.7 L823.7 1231.7 L821.0 1255.6 L813.6 1270.3 L802.6 1283.2 L795.2 1294.3 L793.4 1305.3 L776.8 1318.2 L763.9 1331.1 L757.5 1342.1 L756.9 1356.8 L624.6 1356.8Z"/>
<path class="c" fill="none" d="M624.6 972.4 L626.0 973.1 L635.1 991.4 L650.5 999.8 L666.0 999.8 L696.1 1017.0 L711.6 1006.1 L727.0 1018.7 L732.6 1020.8 L741.7 1027.4 L756.4 1015.5 L771.9 1016.9 L787.3 1015.6 L802.7 1022.2 L818.1 1022.9 L836.4 1029.9 L858.8 1044.0 L864.4 1051.0 L872.8 1066.4 L879.0 1069.2 L893.0 1060.8 L907.1 1056.6 L924.6 1053.8 L923.9 1076.2 L922.5 1081.8 L923.9 1090.3 L925.9 1108.4 L927.7 1123.1 L925.9 1137.8 L916.7 1150.7 L906.5 1163.6 L896.4 1171.9 L897.3 1185.7 L893.7 1190.3 L890.9 1185.7 L891.8 1156.2 L879.9 1143.4 L868.8 1132.3 L857.8 1124.0 L848.6 1118.5 L839.4 1128.6 L833.9 1139.7 L835.7 1152.6 L843.1 1174.7 L837.5 1185.7 L835.7 1204.1 L838.5 1217.0 L832.0 1220.7 L823.7 1231.7 L821.0 1255.6 L813.6 1270.3 L802.6 1283.2 L795.2 1294.3 L793.4 1305.3 L776.8 1318.2 L763.9 1331.1 L757.5 1342.1 L756.9 1356.8 L624.6 1356.8 L624.6 972.4"/>
<path fill="#fdb768" fill-rule="evenodd" d="M666.0 1093.8 L680.7 1087.4 L696.1 1088.1 L703.8 1095.9 L696.1 1102.2 L680.7 1104.3 L666.0 1097.3Z"/>
<path class="c" fill="none" d="M666.0 1093.8 L680.7 1087.4 L696.1 1088.1 L703.8 1095.9 L696.1 1102.2 L680.7 1104.3 L666.0 1097.3 L666.0 1093.8"/>
<path fill="#fdb768" fill-rule="evenodd" d="M734.0 1058.0 L748.7 1058.0 L748.7 1072.7 L734.0 1072.7Z"/>
<path fill="#fdb768" fill-rule="evenodd" d="M764.8 1073.4 L779.6 1073.4 L779.6 1088.1 L764.8 1088.1Z"/>
<path fill="#fa9857" fill-rule="evenodd" d="M627.4 1072.7 L642.8 1072.7 L642.8 1088.1 L627.4 1088.1Z"/>
<path fill="#fa9857" fill-rule="evenodd" d="M624.6 1058.0 L642.8 1058.0 L642.8 1073.4 L624.6 1073.4Z"/>
<path fill="#f57547" fill-rule="evenodd" d="M624.6 1059.4 L632.3 1059.4 L632.3 1072.0 L624.6 1072.0Z"/>
<path class="c" fill="none" d="M626.0 1060.8 L632.3 1065.7 L626.0 1070.6"/>
<path fill="#fee797" fill-rule="evenodd" d="M624.6 1128.1 L626.0 1128.8 L644.2 1140.7 L651.9 1152.0 L649.8 1152.0 L658.3 1156.2 L661.1 1170.2 L666.7 1177.2 L681.4 1177.9 L696.1 1188.5 L711.6 1204.6 L727.0 1208.8 L742.4 1212.3 L756.4 1213.7 L771.9 1211.6 L787.3 1213.7 L792.9 1220.7 L797.8 1234.7 L803.4 1246.0 L787.3 1262.8 L780.3 1275.4 L776.8 1292.3 L781.7 1307.7 L771.9 1311.9 L764.8 1317.5 L759.2 1334.3 L756.4 1354.0 L756.4 1356.8 L624.6 1356.8Z"/>
<path class="c" fill="none" d="M624.6 1128.1 L626.0 1128.8 L644.2 1140.7 L651.9 1152.0 L649.8 1152.0 L658.3 1156.2 L661.1 1170.2 L666.7 1177.2 L681.4 1177.9 L696.1 1188.5 L711.6 1204.6 L727.0 1208.8 L742.4 1212.3 L756.4 1213.7 L771.9 1211.6 L787.3 1213.7 L792.9 1220.7 L797.8 1234.7 L803.4 1246.0 L787.3 1262.8 L780.3 1275.4 L776.8 1292.3 L781.7 1307.7 L771.9 1311.9 L764.8 1317.5 L759.2 1334.3 L756.4 1354.0 L756.4 1356.8 L624.6 1356.8 L624.6 1128.1"/>
<path fill="#fff7b2" fill-rule="evenodd" d="M624.6 1346.2 L642.8 1346.2 L642.8 1355.4 L624.6 1355.4Z"/>
<path fill="#fed07e" fill-rule="evenodd" d="M802.6 1356.8 L804.4 1338.4 L817.3 1321.9 L832.0 1305.3 L839.4 1307.2 L848.6 1320.0 L865.1 1316.4 L871.6 1325.6 L872.5 1338.4 L865.1 1356.8Z"/>
<path class="c" fill="none" d="M802.6 1356.8 L804.4 1338.4 L817.3 1321.9 L832.0 1305.3 L839.4 1307.2 L848.6 1320.0 L865.1 1316.4 L871.6 1325.6 L872.5 1338.4 L865.1 1356.8 L802.6 1356.8"/>
<path fill="#fed07e" fill-rule="evenodd" d="M975.8 1214.4 L968.8 1208.8 L954.7 1206.0 L941.4 1217.2 L942.1 1232.6 L954.7 1238.3 L968.8 1241.1 L991.2 1239.0 L991.2 1224.9 L977.2 1224.9Z"/>
<path class="c" fill="none" d="M975.8 1214.4 L968.8 1208.8 L954.7 1206.0 L941.4 1217.2 L942.1 1232.6 L954.7 1238.3 L968.8 1241.1"/>
<path fill="#fed07e" fill-rule="evenodd" d="M886.7 1297.9 L886.7 1290.1 L891.6 1272.6 L907.1 1272.3 L914.1 1278.9 L918.3 1295.1 L916.2 1300.7 L916.2 1315.4 L901.4 1315.4 L901.4 1300.7Z"/>
<path class="c" fill="none" d="M890.2 1296.5 L886.7 1290.1 L891.6 1272.6 L907.1 1272.3 L914.1 1278.9 L918.3 1295.1"/>
<path fill="#fed07e" fill-rule="evenodd" d="M947.0 1255.1 L961.7 1255.1 L961.7 1270.5 L947.0 1270.5Z"/>
<path fill="#fed07e" fill-rule="evenodd" d="M930.9 1300.7 L947.0 1300.7 L947.0 1315.4 L930.9 1315.4Z"/>
<path fill="#fed07e" fill-rule="evenodd" d="M930.9 1239.7 L947.0 1239.7 L947.0 1255.1 L930.9 1255.1Z"/>
<path fill="#fed07e" fill-rule="evenodd" d="M1088.0 1276.8 L1075.4 1271.9 L1068.3 1278.2 L1069.0 1292.3 L1075.4 1303.5 L1080.3 1310.5 L1079.6 1323.1 L1072.5 1327.3 L1057.1 1332.9 L1054.3 1339.9 L1053.6 1355.4 L1138.5 1355.4 L1138.5 1278.2 L1128.6 1271.2 L1116.0 1286.6 L1083.1 1286.6Z"/>
<path class="c" fill="none" d="M1088.0 1276.8 L1075.4 1271.9 L1068.3 1278.2 L1069.0 1292.3 L1075.4 1303.5 L1080.3 1310.5 L1079.6 1323.1 L1072.5 1327.3 L1057.1 1332.9 L1054.3 1339.9 L1053.6 1355.4 L1138.5 1355.4 L1138.5 1278.2 L1128.6 1271.2 L1120.2 1281.5 M1093.4 1286.6 L1083.1 1286.6 L1088.0 1276.8"/>
<path fill="#fee797" fill-rule="evenodd" d="M1083.1 1332.9 L1097.8 1331.5 L1107.6 1325.2 L1120.2 1328.7 L1128.6 1337.1 L1138.5 1345.5 L1138.5 1355.4 L1083.1 1355.4Z"/>
<path class="c" fill="none" d="M1103.7 1327.7 L1107.6 1325.2 L1120.2 1328.7 L1128.6 1337.1 L1138.5 1345.5 L1138.5 1355.4 L1083.1 1355.4 L1083.1 1347.2"/>
<path fill="#fa9857" fill-rule="evenodd" d="M1067.6 1210.2 L1083.1 1210.2 L1083.1 1224.9 L1067.6 1224.9Z"/>
<path fill="#fa9857" fill-rule="evenodd" d="M1069.0 1217.2 L1075.4 1215.8 L1081.0 1217.2 L1075.4 1221.4Z"/>
<path class="c" fill="none" d="M1069.0 1217.2 L1075.4 1215.8 L1081.0 1217.2 L1075.4 1221.4 L1069.0 1217.2"/>
<path fill="#fa9857" fill-rule="evenodd" d="M1007.3 1316.1 L1022.8 1316.1 L1022.8 1330.8 L1007.3 1330.8Z"/>
<path fill="#fa9857" fill-rule="evenodd" d="M1011.5 1323.8 L1014.8 1310.5 L1018.1 1323.8Z"/>
<path class="c" fill="none" d="M1011.5 1323.8 L1014.8 1310.5 L1018.1 1323.8 L1011.5 1323.8"/>
<path fill="#fa9857" fill-rule="evenodd" d="M1047.3 1150.6 L1083.1 1150.6 L1083.1 1163.2 L1047.3 1163.2Z"/>
<path class="c" fill="none" d="M1059.2 1163.9 L1046.6 1156.9 L1057.1 1152.0"/>
<path fill="#fa9857" fill-rule="evenodd" d="M1114.6 1194.1 L1132.9 1194.1 L1132.9 1209.5 L1114.6 1209.5Z"/>
<path class="c" fill="none" d="M1116.7 1198.3 L1121.6 1194.1 L1132.0 1193.8"/>
<path fill="#fa9857" fill-rule="evenodd" d="M1130.1 1150.6 L1132.9 1150.6 L1132.9 1163.2 L1130.1 1163.2Z"/>
<path fill="#fa9857" fill-rule="evenodd" d="M977.7 1135.2 L978.2 1128.4 L979.0 1126.2 L997.6 1112.1 L1010.0 1101.0 L1010.0 1097.7 L1013.6 1093.1 L1030.5 1083.2 L1045.9 1074.8 L1059.9 1062.2 L1082.4 1061.5 L1106.2 1063.6 L1120.9 1050.3 L1132.9 1058.7 L1132.9 1015.2 L1123.0 1018.7 L1109.0 1020.1 L1090.8 1018.0 L1081.0 1011.7 L1075.4 1003.3 L1072.5 990.7 L1064.1 975.2 L1060.6 972.4 L1045.9 981.6 L1030.5 979.5 L1013.6 988.6 L1017.8 1000.5 L1017.1 1005.4 L999.6 1013.1 L994.7 1020.1 L994.0 1034.2 L998.2 1062.2 L996.1 1070.6 L985.6 1078.3 L977.2 1084.6 L976.3 1086.3 L944.1 1086.3 L946.3 1081.8 L951.9 1060.8 L954.7 1048.9 L966.0 1043.3 L974.4 1034.9 L968.8 1025.7 L963.2 1017.3 L954.7 1004.7 L935.1 1008.2 L925.3 1008.9 L905.6 1010.3 L901.4 1015.9 L907.1 1032.7 L915.5 1037.7 L925.3 1041.2 L932.3 1048.2 L930.9 1062.2 L933.7 1084.6 L938.9 1095.8 L936.9 1099.2 L936.5 1100.3 L930.2 1108.5 L930.7 1139.1 L924.0 1150.7 L916.7 1163.6 L905.6 1176.5 L898.3 1194.9 L881.7 1201.3 L876.2 1202.3 L880.8 1191.2 L879.9 1180.2 L875.3 1171.9 L878.0 1163.6 L876.2 1152.6 L868.8 1145.2 L861.5 1136.0 L848.6 1134.2 L842.1 1143.4 L844.9 1154.4 L850.4 1163.6 L859.6 1172.8 L870.7 1185.7 L865.1 1189.4 L857.8 1185.7 L847.7 1180.2 L844.0 1187.5 L846.7 1198.6 L854.1 1207.8 L861.5 1217.0 L838.5 1222.5 L832.0 1231.7 L828.3 1255.6 L821.0 1270.3 L809.9 1283.2 L802.6 1292.4 L800.7 1301.6 L784.2 1316.4 L773.1 1327.4 L762.1 1336.6 L759.3 1356.8 L800.7 1356.8 L803.5 1336.6 L817.3 1320.0 L826.5 1309.0 L839.4 1292.4 L848.6 1285.1 L857.8 1283.2 L878.0 1287.8 L885.4 1272.2 L896.4 1259.3 L911.1 1242.7 L924.0 1228.0 L929.5 1218.8 L931.4 1207.8 L938.7 1198.6 L949.8 1193.1 L968.2 1185.7 L977.4 1171.0 L982.9 1154.4 L978.7 1143.2Z M942.4 1089.6 L942.4 1090.0 L941.3 1091.9Z"/>
<path class="c" fill="none" d="M977.7 1135.2 L978.2 1128.4 L979.0 1126.2 L997.6 1112.1 L1010.0 1101.0 L1010.0 1097.7 L1013.6 1093.1 L1030.5 1083.2 L1045.9 1074.8 L1059.9 1062.2 L1082.4 1061.5 L1106.2 1063.6 L1120.9 1050.3 L1132.9 1058.7 L1132.9 1015.2 L1123.0 1018.7 L1109.0 1020.1 L1090.8 1018.0 L1081.0 1011.7 L1075.4 1003.3 L1072.5 990.7 L1064.1 975.2 L1060.6 972.4 L1045.9 981.6 L1030.5 979.5 L1013.6 988.6 L1017.8 1000.5 L1017.1 1005.4 L999.6 1013.1 L994.7 1020.1 L994.0 1034.2 L998.2 1062.2 L996.1 1070.6 L985.6 1078.3 L977.2 1084.6 L976.3 1086.3 L944.1 1086.3 L946.3 1081.8 L951.9 1060.8 L954.7 1048.9 L966.0 1043.3 L974.4 1034.9 L968.8 1025.7 L963.2 1017.3 L954.7 1004.7 L935.1 1008.2 L925.3 1008.9 L905.6 1010.3 L901.4 1015.9 L907.1 1032.7 L915.5 1037.7 L925.3 1041.2 L932.3 1048.2 L930.9 1062.2 L933.7 1084.6 L938.9 1095.8 L936.9 1099.2 L936.5 1100.3 L930.2 1108.5 L930.7 1139.1 L924.0 1150.7 L916.7 1163.6 L905.6 1176.5 L898.3 1194.9 L881.7 1201.3 L876.2 1202.3 L880.8 1191.2 L879.9 1180.2 L875.3 1171.9 L878.0 1163.6 L876.2 1152.6 L868.8 1145.2 L861.5 1136.0 L848.6 1134.2 L842.1 1143.4 L844.9 1154.4 L850.4 1163.6 L859.6 1172.8 L870.7 1185.7 L865.1 1189.4 L857.8 1185.7 L847.7 1180.2 L844.0 1187.5 L846.7 1198.6 L854.1 1207.8 L861.5 1217.0 L838.5 1222.5 L832.0 1231.7 L828.3 1255.6 L821.0 1270.3 L809.9 1283.2 L802.6 1292.4 L800.7 1301.6 L784.2 1316.4 L773.1 1327.4 L762.1 1336.6 L759.3 1356.8 L800.7 1356.8 L803.5 1336.6 L817.3 1320.0 L826.5 1309.0 L839.4 1292.4 L848.6 1285.1 L857.8 1283.2 L878.0 1287.8 L885.4 1272.2 L896.4 1259.3 L911.1 1242.7 L924.0 1228.0 L929.5 1218.8 L931.4 1207.8 L938.7 1198.6 L949.8 1193.1 L968.2 1185.7 L977.4 1171.0 L982.9 1154.4 L978.7 1143.2 L977.7 1135.2 M942.4 1089.6 L942.4 1090.0 L941.3 1091.9 L942.4 1089.6"/>
<path fill="#fa9857" fill-rule="evenodd" d="M964.6 983.7 L971.6 979.5 L981.4 975.9 L991.2 978.8 L995.4 987.2 L989.8 994.9 L977.2 998.4 L970.2 996.3 L961.7 992.1Z"/>
<path class="c" fill="none" d="M964.6 983.7 L971.6 979.5 L981.4 975.9 L991.2 978.8 L995.4 987.2 L989.8 994.9 L977.2 998.4 L970.2 996.3 L961.7 992.1 L964.6 983.7"/>
<path fill="#fa9857" fill-rule="evenodd" d="M1052.9 966.8 L1067.6 966.8 L1067.6 982.3 L1052.9 982.3Z"/>
<path fill="#fdb768" fill-rule="evenodd" d="M881.7 1201.3 L892.7 1205.0 L896.4 1218.8 L893.7 1230.8 L887.2 1242.7 L876.2 1251.9 L864.2 1258.4 L860.5 1248.3 L857.8 1231.7 L861.5 1218.8 L868.8 1213.3 L876.2 1202.3Z"/>
<path class="c" fill="none" d="M881.7 1201.3 L892.7 1205.0 L896.4 1218.8 L893.7 1230.8 L887.2 1242.7 L876.2 1251.9 L864.2 1258.4 L860.5 1248.3 L857.8 1231.7 L861.5 1218.8 L868.8 1213.3 L876.2 1202.3 L881.7 1201.3"/>
<path fill="#fed07e" fill-rule="evenodd" d="M868.8 1217.0 L879.9 1215.1 L883.5 1226.2 L879.9 1239.1 L867.0 1244.6 L865.1 1231.7Z"/>
<path class="c" fill="none" d="M868.8 1217.0 L879.9 1215.1 L883.5 1226.2 L879.9 1239.1 L874.3 1241.4 M868.3 1219.1 L868.8 1217.0"/>
<path fill="#fee797" fill-rule="evenodd" d="M871.6 1224.3 L885.4 1224.3 L885.4 1239.1 L871.6 1239.1Z"/>
<path fill="#f57547" fill-rule="evenodd" d="M1013.6 1072.0 L999.6 1084.6 L997.8 1086.3 L942.4 1086.3 L939.4 1104.3 L939.3 1104.3 L935.1 1108.5 L937.5 1117.0 L936.9 1121.3 L936.4 1125.8 L935.1 1132.3 L933.7 1153.4 L936.2 1153.4 L927.7 1163.6 L924.0 1176.5 L916.7 1187.5 L901.9 1198.6 L898.3 1207.8 L896.4 1218.8 L893.7 1230.8 L887.2 1242.7 L876.2 1251.9 L864.2 1258.4 L859.6 1246.4 L857.8 1231.7 L852.3 1225.3 L843.1 1225.3 L835.7 1231.7 L832.0 1246.4 L830.2 1264.8 L824.7 1277.7 L813.6 1290.6 L802.6 1305.3 L786.0 1320.0 L775.0 1329.2 L764.8 1338.4 L762.1 1356.8 L795.2 1356.8 L798.9 1336.6 L811.8 1320.0 L821.0 1309.0 L833.9 1292.4 L844.9 1281.4 L857.8 1277.7 L874.3 1281.4 L881.7 1266.7 L892.7 1253.8 L905.6 1239.1 L916.7 1226.2 L922.2 1217.0 L924.0 1205.9 L933.2 1194.9 L946.1 1189.4 L962.7 1182.0 L970.0 1169.1 L974.6 1154.4 L970.0 1139.7 L971.0 1125.0 L983.5 1115.1 L991.2 1111.3 L1003.7 1100.0 L1010.0 1095.5 L1010.0 1093.9 L1019.3 1084.6 L1033.3 1073.4 L1047.3 1062.2 L1059.9 1052.4 L1075.4 1051.0 L1083.8 1045.4 L1082.4 1028.5 L1075.4 1017.3 L1061.3 1015.9 L1044.5 1024.3 L1016.4 1034.2 L1013.6 1048.2Z"/>
<path class="c" fill="none" d="M1013.6 1072.0 L999.6 1084.6 L997.8 1086.3 L942.4 1086.3 L939.4 1104.3 L939.3 1104.3 L935.1 1108.5 L937.5 1117.0 L936.9 1121.3 L936.4 1125.8 L935.1 1132.3 L933.7 1153.4 L936.2 1153.4 L927.7 1163.6 L924.0 1176.5 L916.7 1187.5 L901.9 1198.6 L898.3 1207.8 L896.4 1218.8 L893.7 1230.8 L887.2 1242.7 L876.2 1251.9 L864.2 1258.4 L859.6 1246.4 L857.8 1231.7 L852.3 1225.3 L843.1 1225.3 L835.7 1231.7 L832.0 1246.4 L830.2 1264.8 L824.7 1277.7 L813.6 1290.6 L811.2 1293.9 M795.0 1312.0 L786.0 1320.0 L775.0 1329.2 L764.8 1338.4 L762.1 1356.8 L795.2 1356.8 L798.9 1336.6 L810.5 1321.7 M821.0 1309.0 L833.9 1292.4 L844.9 1281.4 M874.3 1281.4 L881.7 1266.7 L892.7 1253.8 L898.5 1247.2 M916.7 1226.2 L922.2 1217.0 L924.0 1205.9 L933.2 1194.9 L946.1 1189.4 L962.7 1182.0 L970.0 1169.1 L974.6 1154.4 L970.0 1139.7 L971.0 1125.0 L983.5 1115.1 L991.2 1111.3 L1003.7 1100.0 L1010.0 1095.5 L1010.0 1093.9 L1019.3 1084.6 L1033.3 1073.4 L1047.3 1062.2 L1059.9 1052.4 L1075.4 1051.0 L1083.8 1045.4 L1082.4 1028.5 L1075.4 1017.3 L1061.3 1015.9 L1044.5 1024.3 L1016.4 1034.2 L1013.6 1048.2 L1013.6 1072.0"/>
<path fill="#f57547" fill-rule="evenodd" d="M855.9 1148.9 L870.7 1148.9 L870.7 1163.6 L855.9 1163.6Z"/>
<path fill="#f57547" fill-rule="evenodd" d="M858.7 1156.2 L862.9 1153.5 L867.0 1156.2 L862.9 1159.6Z"/>
<path class="c" fill="none" d="M858.7 1156.2 L862.9 1153.5 L867.0 1156.2 L862.9 1159.6 L858.7 1156.2"/>
<path fill="#f57547" fill-rule="evenodd" d="M855.9 1202.6 L862.9 1195.8 L869.7 1202.6 L862.9 1209.6Z"/>
<path class="c" fill="none" d="M855.9 1202.6 L862.9 1195.8 L869.7 1202.6 L862.9 1209.6 L855.9 1202.6"/>
<path fill="#f57547" fill-rule="evenodd" d="M916.2 1011.7 L930.9 1011.7 L930.9 1027.1 L916.2 1027.1Z"/>
<path fill="#f57547" fill-rule="evenodd" d="M947.7 1027.1 L961.7 1027.1 L961.7 1042.6 L947.7 1042.6Z"/>
<path fill="#f57547" fill-rule="evenodd" d="M932.3 1058.0 L946.3 1058.0 L946.3 1072.0 L932.3 1072.0Z"/>
<path fill="#f57547" fill-rule="evenodd" d="M1113.2 1028.5 L1132.9 1028.5 L1132.9 1042.6 L1113.2 1042.6Z"/>
<path fill="#f57547" fill-rule="evenodd" d="M1097.8 1042.6 L1113.2 1042.6 L1113.2 1056.6 L1097.8 1056.6Z"/>
<path fill="#f57547" fill-rule="evenodd" d="M1099.2 1050.3 L1104.8 1046.1 L1109.7 1050.3 L1104.8 1053.8Z"/>
<path class="c" fill="none" d="M1099.2 1050.3 L1104.8 1046.1 L1109.7 1050.3 L1104.8 1053.8 L1099.2 1050.3"/>
<path fill="#e85b48" fill-rule="evenodd" d="M942.8 1142.7 L940.7 1153.4 L944.9 1153.4 L935.1 1159.9 L925.9 1169.1 L931.4 1176.5 L942.4 1182.0 L957.2 1178.3 L970.0 1167.3 L975.6 1150.7 L970.0 1136.0 L971.7 1118.1 L977.1 1117.6 L979.2 1117.6 L979.5 1117.4 L985.6 1116.9 L989.8 1111.3 L988.5 1111.0 L992.1 1108.4 L1010.0 1099.2 L1010.0 1089.1 L1002.8 1092.0 L999.6 1088.1 L991.9 1095.9 L992.0 1096.0 L977.4 1099.2 L957.2 1108.4 L958.6 1110.8 L957.2 1110.2 L952.2 1113.2 L939.3 1108.5 L939.3 1112.6 L937.8 1112.1 L936.9 1123.1 L940.6 1136.0Z M913.0 1228.0 L922.2 1222.5 L929.5 1211.5 L931.4 1196.7 L916.7 1193.1 L901.9 1200.4 L900.1 1215.1 L905.6 1226.2Z M892.7 1240.0 L885.4 1247.3 L892.7 1255.6 L899.2 1247.3Z M855.9 1272.2 L856.9 1255.6 L855.9 1237.2 L852.3 1227.1 L845.8 1226.2 L839.4 1232.6 L837.5 1248.3 L840.3 1266.7 L843.1 1279.5Z M795.2 1323.7 L802.6 1330.2 L809.9 1323.7 L802.6 1317.3Z M786.0 1325.6 L776.8 1331.1 L767.6 1340.3 L764.8 1356.8 L795.2 1356.8 L795.2 1331.1Z M1040.3 1066.4 L1050.1 1053.8 L1059.9 1045.4 L1075.4 1034.9 L1059.9 1023.6 L1044.5 1029.9 L1036.1 1039.8 L1024.9 1065.0 L1029.1 1069.2Z M1008.7 1080.4 L1014.3 1085.3 L1020.0 1080.4 L1014.3 1075.5Z"/>
<path class="c" fill="none" d="M942.8 1142.7 L940.7 1153.4 L944.9 1153.4 L935.1 1159.9 L925.9 1169.1 L931.4 1176.5 L942.4 1182.0 L957.2 1178.3 L970.0 1167.3 L975.6 1150.7 L970.0 1136.0 L971.5 1120.1 M995.7 1106.6 L1010.0 1099.2 L1010.0 1089.1 L1002.8 1092.0 L999.6 1088.1 L991.9 1095.9 L992.0 1096.0 L977.4 1099.2 L957.2 1108.4 L958.6 1110.8 L957.2 1110.2 L952.2 1113.2 L939.3 1108.5 L939.3 1112.6 L937.8 1112.1 L936.9 1123.1 L940.6 1136.0 L942.8 1142.7 M913.0 1228.0 L922.2 1222.5 L929.5 1211.5 L931.4 1196.7 M903.8 1199.5 L901.9 1200.4 L900.1 1215.1 L905.6 1226.2 L913.0 1228.0 M892.7 1240.0 L885.4 1247.3 L892.7 1255.6 L899.2 1247.3 L892.7 1240.0 M856.7 1251.5 L855.9 1237.2 L852.3 1227.1 L845.8 1226.2 L839.4 1232.6 L837.5 1248.3 L838.5 1254.4 M842.1 1275.3 L843.1 1279.5 L848.6 1276.4 M795.2 1323.7 L802.6 1330.2 L809.9 1323.7 L802.6 1317.3 L795.2 1323.7 M786.0 1325.6 L776.8 1331.1 L767.6 1340.3 L764.8 1356.8 L795.2 1356.8 L795.2 1331.1 L786.0 1325.6 M1055.0 1049.6 L1059.9 1045.4 L1075.4 1034.9 L1059.9 1023.6 L1044.5 1029.9 L1036.1 1039.8 L1024.9 1065.0 L1029.1 1069.2 L1033.6 1068.1 M1008.7 1080.4 L1014.3 1085.3 L1020.0 1080.4 L1014.3 1075.5 L1008.7 1080.4"/>
<path fill="#e85b48" fill-rule="evenodd" d="M916.2 1011.7 L930.9 1011.7 L930.9 1020.1 L916.2 1020.1Z"/>
<path fill="#d7414e" fill-rule="evenodd" d="M767.6 1356.8 L769.4 1342.1 L778.6 1333.8 L793.4 1334.8 L794.3 1356.8Z"/>
<path class="c" fill="none" d="M767.6 1356.8 L769.4 1342.1 L778.6 1333.8 L793.4 1334.8 L794.3 1356.8 L767.6 1356.8"/>
<path fill="#bc2249" fill-rule="evenodd" d="M770.4 1356.8 L772.2 1344.0 L779.6 1337.5 L789.7 1338.4 L791.5 1356.8Z"/>
<path class="c" fill="none" d="M770.4 1356.8 L772.2 1344.0 L779.6 1337.5 L789.7 1338.4 L791.5 1356.8 L770.4 1356.8"/>
<path fill="#d7414e" fill-rule="evenodd" d="M797.4 1323.7 L802.6 1319.7 L807.7 1323.7 L802.6 1327.8Z"/>
<path class="c" fill="none" d="M797.4 1323.7 L802.6 1319.7 L807.7 1323.7 L802.6 1327.8 L797.4 1323.7"/>
<path fill="#d7414e" fill-rule="evenodd" d="M904.7 1204.1 L912.1 1200.4 L915.7 1211.5 L910.2 1224.3 L904.7 1218.8Z"/>
<path class="c" fill="none" d="M904.7 1204.1 L912.1 1200.4 L915.7 1211.5 L910.2 1224.3 L904.7 1218.8 L904.7 1204.1"/>
<path fill="#d7414e" fill-rule="evenodd" d="M945.2 1125.0 L955.3 1121.3 L960.8 1128.6 L954.4 1148.9 L949.8 1137.8Z"/>
<path class="c" fill="none" d="M945.2 1125.0 L955.3 1121.3 L960.8 1128.6 L954.4 1148.9 L949.8 1137.8 L945.2 1125.0"/>
<path fill="#d7414e" fill-rule="evenodd" d="M925.9 1171.0 L939.7 1163.6 L953.5 1171.0 L939.7 1178.3Z"/>
<path class="c" fill="none" d="M925.9 1171.0 L939.7 1163.6 L953.5 1171.0 L939.7 1178.3 L925.9 1171.0"/>
<path fill="#bc2249" fill-rule="evenodd" d="M931.4 1171.0 L939.7 1167.3 L947.9 1171.0 L939.7 1175.0Z"/>
<path class="c" fill="none" d="M931.4 1171.0 L939.7 1167.3 L947.9 1171.0 L939.7 1175.0 L931.4 1171.0"/>
<path fill="#d7414e" fill-rule="evenodd" d="M961.8 1103.8 L977.4 1103.8 L977.4 1119.4 L961.8 1119.4Z"/>
<path fill="#d7414e" fill-rule="evenodd" d="M963.6 1111.7 L970.0 1108.4 L976.5 1111.7 L970.0 1115.4Z"/>
<path class="c" fill="none" d="M963.6 1111.7 L970.0 1108.4 L976.5 1111.7 L970.0 1115.4 L963.6 1111.7"/>
<path fill="#d7414e" fill-rule="evenodd" d="M1052.9 1027.1 L1067.6 1027.1 L1067.6 1042.6 L1052.9 1042.6Z"/>
<path fill="#bc2249" fill-rule="evenodd" d="M1054.3 1034.9 L1059.9 1032.7 L1065.5 1034.9 L1059.9 1037.7Z"/>
<path class="c" fill="none" d="M1054.3 1034.9 L1059.9 1032.7 L1065.5 1034.9 L1059.9 1037.7 L1054.3 1034.9"/>
<path fill="#d7414e" fill-rule="evenodd" d="M995.4 1095.9 L999.6 1091.7 L1003.1 1095.9 L999.6 1099.8Z"/>
<path class="c" fill="none" d="M995.4 1095.9 L999.6 1091.7 L1003.1 1095.9 L999.6 1099.8 L995.4 1095.9"/>
<path fill="#d7414e" fill-rule="evenodd" d="M963.2 1111.3 L969.5 1107.8 L975.8 1111.3 L969.5 1114.8Z"/>
<path class="c" fill="none" d="M963.2 1111.3 L969.5 1107.8 L975.8 1111.3 L969.5 1114.8 L963.2 1111.3"/>
<path fill="#d7414e" fill-rule="evenodd" d="M944.9 1125.3 L954.7 1120.4 L959.6 1129.5 L954.7 1149.2Z"/>
<path class="c" fill="none" d="M944.9 1125.3 L954.7 1120.4 L959.6 1129.5 L954.7 1149.2 L944.9 1125.3"/>
<path class="c" fill="none" d="M1059.9 1045.4 L1075.4 1034.9 L1059.9 1023.6 L1044.5 1029.9 L1036.1 1039.8 L1024.9 1065.0 L1029.1 1069.2"/>
</g>
<clipPath id="t22"><rect x="1132" y="950" width="506" height="405"/></clipPath>
<g clip-path="url(#t22)">
<rect x="1132" y="950" width="506" height="405" fill="#fdb768"/>
<path fill="#fa9857" fill-rule="evenodd" d="M1117.9 1014.7 L1132.0 1014.7 L1137.6 1014.1 L1148.9 1023.1 L1165.7 1040.0 L1188.2 1041.4 L1207.9 1034.4 L1224.8 1040.0 L1241.7 1033.0 L1224.8 1048.4 L1231.8 1062.5 L1229.0 1070.9 L1224.8 1080.8 L1244.5 1080.8 L1267.0 1083.6 L1283.9 1093.4 L1300.7 1096.2 L1323.2 1093.4 L1340.1 1099.0 L1345.7 1115.9 L1348.5 1127.2 L1362.6 1130.0 L1376.7 1144.0 L1390.7 1152.5 L1407.6 1159.5 L1418.8 1172.2 L1441.3 1173.6 L1458.2 1175.0 L1483.5 1175.0 L1511.6 1177.8 L1531.3 1183.4 L1548.2 1191.8 L1565.1 1203.1 L1577.1 1213.4 L1587.7 1227.5 L1590.4 1231.1 L1594.8 1254.1 L1598.4 1273.6 L1607.2 1287.7 L1624.9 1309.0 L1612.5 1321.4 L1601.9 1333.8 L1596.6 1356.8 L1387.9 1357.8 L1376.7 1346.5 L1345.7 1340.9 L1351.3 1328.2 L1348.5 1319.8 L1326.0 1312.8 L1300.7 1307.1 L1288.1 1295.9 L1264.2 1308.5 L1255.7 1326.8 L1241.7 1321.2 L1224.8 1318.4 L1196.7 1322.6 L1182.6 1336.7 L1168.6 1332.5 L1155.9 1324.0 L1160.1 1312.8 L1174.2 1293.1 L1160.1 1253.7 L1151.7 1234.0 L1154.5 1212.9 L1160.1 1198.9 L1168.6 1193.3 L1184.0 1201.7 L1188.2 1186.2 L1191.1 1163.7 L1198.1 1144.0 L1207.9 1135.6 L1222.0 1128.6 L1241.7 1130.0 L1251.5 1125.8 L1247.3 1121.5 L1234.6 1110.3 L1217.8 1096.2 L1213.6 1090.6 L1202.3 1089.2 L1192.5 1082.2 L1182.6 1068.1 L1168.6 1061.1 L1151.7 1063.9 L1132.0 1058.3 L1117.9 1056.9Z"/>
<path class="c" fill="none" d="M1117.9 1014.7 L1132.0 1014.7 L1137.6 1014.1 L1148.9 1023.1 L1165.7 1040.0 L1188.2 1041.4 L1207.9 1034.4 L1224.8 1040.0 L1241.7 1033.0 L1224.8 1048.4 L1231.8 1062.5 L1229.0 1070.9 L1224.8 1080.8 L1244.5 1080.8 L1267.0 1083.6 L1283.9 1093.4 L1300.7 1096.2 L1323.2 1093.4 L1340.1 1099.0 L1345.7 1115.9 L1348.5 1127.2 L1362.6 1130.0 L1376.7 1144.0 L1390.7 1152.5 L1407.6 1159.5 L1418.8 1172.2 L1441.3 1173.6 L1458.2 1175.0 L1483.5 1175.0 L1511.6 1177.8 L1531.3 1183.4 L1548.2 1191.8 L1565.1 1203.1 L1577.1 1213.4 L1587.7 1227.5 L1590.4 1231.1 L1594.8 1254.1 L1598.4 1273.6 L1607.2 1287.7 L1624.9 1309.0 L1612.5 1321.4 L1601.9 1333.8 L1596.6 1356.8 L1387.9 1357.8 L1376.7 1346.5 L1345.7 1340.9 L1351.3 1328.2 L1348.5 1319.8 L1326.0 1312.8 L1300.7 1307.1 L1288.1 1295.9 L1264.2 1308.5 L1255.7 1326.8 L1241.7 1321.2 L1224.8 1318.4 L1196.7 1322.6 L1182.6 1336.7 L1168.6 1332.5 L1155.9 1324.0 L1160.1 1312.8 L1174.2 1293.1 L1160.1 1253.7 L1151.7 1234.0 L1154.5 1212.9 L1160.1 1198.9 L1168.6 1193.3 L1184.0 1201.7 L1188.2 1186.2 L1191.1 1163.7 L1198.1 1144.0 L1207.9 1135.6 L1222.0 1128.6 L1241.7 1130.0 L1251.5 1125.8 L1247.3 1121.5 L1245.7 1120.1 M1224.5 1101.9 L1217.8 1096.2 L1213.6 1090.6 L1202.3 1089.2 L1192.5 1082.2 L1182.6 1068.1 L1168.6 1061.1 L1151.7 1063.9 L1132.0 1058.3 L1117.9 1056.9 L1117.9 1014.7"/>
<path fill="#fdb768" fill-rule="evenodd" d="M1328.9 1163.7 L1354.2 1160.9 L1362.6 1177.8 L1371.0 1183.4 L1365.4 1204.5 L1357.0 1220.0 L1345.7 1203.1 L1333.1 1183.4 L1326.0 1172.2Z"/>
<path class="c" fill="none" d="M1328.9 1163.7 L1354.2 1160.9 L1362.6 1177.8 L1371.0 1183.4 L1365.4 1204.5 L1357.0 1220.0 L1349.1 1208.2 M1337.7 1190.6 L1333.1 1183.4 L1326.0 1172.2 L1328.9 1163.7"/>
<path class="c" fill="none" d="M1326.0 1144.0 L1348.5 1141.2 L1357.0 1149.7 L1365.4 1159.5 L1368.2 1172.2 L1362.6 1177.8"/>
<path class="c" fill="none" d="M1365.4 1204.5 L1376.7 1183.4 L1390.7 1175.0 L1407.6 1170.8 L1418.8 1172.2"/>
<path fill="#fa9857" fill-rule="evenodd" d="M1129.2 1130.0 L1143.2 1130.0 L1143.2 1158.1 L1129.2 1158.1Z"/>
<path fill="#fa9857" fill-rule="evenodd" d="M1129.2 1014.7 L1146.1 1014.7 L1146.1 1042.8 L1129.2 1042.8Z"/>
<path class="c" fill="none" d="M1148.9 1151.1 L1165.7 1150.2 L1174.2 1172.2 L1165.7 1180.6 L1155.9 1163.7 L1143.2 1159.5 L1132.0 1163.7"/>
<path fill="#fed07e" fill-rule="evenodd" d="M1652.2 1052.6 L1637.9 1051.2 L1618.5 1047.0 L1604.4 1049.8 L1591.8 1058.3 L1584.8 1034.4 L1576.3 1033.0 L1552.4 1034.4 L1545.4 1048.4 L1531.3 1034.4 L1508.8 1033.8 L1486.3 1038.6 L1463.8 1042.8 L1441.3 1047.0 L1424.5 1056.9 L1407.6 1068.1 L1390.7 1082.2 L1393.5 1101.9 L1407.6 1113.1 L1424.5 1122.9 L1441.3 1115.9 L1469.5 1101.9 L1486.3 1111.7 L1455.4 1127.2 L1442.7 1141.2 L1455.4 1151.1 L1486.3 1155.3 L1441.3 1158.1 L1407.6 1159.5 L1390.7 1152.5 L1376.7 1144.0 L1362.6 1130.0 L1348.5 1127.2 L1345.7 1115.9 L1340.1 1096.2 L1317.6 1065.3 L1317.6 1080.8 L1328.9 1079.4 L1348.5 1078.0 L1357.0 1070.9 L1376.7 1054.0 L1393.5 1049.8 L1379.5 1028.7 L1364.0 1034.4 L1349.9 1020.3 L1365.4 1002.0 L1337.3 1006.2 L1342.9 1013.3 L1338.7 1021.7 L1317.6 1027.3 L1312.0 1011.9 L1289.5 1009.1 L1272.6 1003.4 L1285.3 988.0 L1278.2 971.1 L1264.2 961.2 L1244.5 950.0 L1244.5 935.9 L1652.2 935.9Z"/>
<path class="c" fill="none" d="M1652.2 1052.6 L1637.9 1051.2 L1618.5 1047.0 L1604.4 1049.8 L1591.8 1058.3 L1584.8 1034.4 L1576.3 1033.0 L1552.4 1034.4 L1545.4 1048.4 L1531.3 1034.4 L1508.8 1033.8 L1486.3 1038.6 L1463.8 1042.8 L1441.3 1047.0 L1435.7 1050.3 M1412.7 1064.7 L1407.6 1068.1 L1390.7 1082.2 L1393.5 1101.9 L1407.6 1113.1 L1424.5 1122.9 L1441.3 1115.9 L1469.5 1101.9 L1486.3 1111.7 L1455.4 1127.2 L1442.7 1141.2 L1455.4 1151.1 L1486.3 1155.3 L1441.3 1158.1 L1407.6 1159.5 L1390.7 1152.5 L1376.7 1144.0 L1362.6 1130.0 L1348.5 1127.2 L1345.7 1115.9 L1340.1 1096.2 L1317.6 1065.3 L1317.6 1080.8 L1328.9 1079.4 L1348.5 1078.0 L1357.0 1070.9 L1376.7 1054.0 L1393.5 1049.8 L1379.5 1028.7 L1364.0 1034.4 L1349.9 1020.3 L1365.4 1002.0 L1337.3 1006.2 L1342.9 1013.3 L1338.7 1021.7 L1317.6 1027.3 L1312.0 1011.9 L1289.5 1009.1 L1272.6 1003.4 L1285.3 988.0 L1278.2 971.1 L1264.2 961.2 L1244.5 950.0 L1244.5 935.9 L1652.2 935.9 L1652.2 1052.6"/>
<path fill="#fdb768" fill-rule="evenodd" d="M1386.5 982.3 L1402.0 982.3 L1402.0 997.8 L1386.5 997.8Z"/>
<path fill="#fdb768" fill-rule="evenodd" d="M1402.0 997.8 L1416.0 997.8 L1416.0 1013.3 L1402.0 1013.3Z"/>
<path class="c" fill="none" d="M1396.3 990.8 L1409.0 995.0 L1413.2 1003.4 L1410.4 1010.5 L1402.0 1012.4"/>
<path fill="#fed07e" fill-rule="evenodd" d="M1508.8 1072.3 L1522.9 1072.3 L1522.9 1087.8 L1508.8 1087.8Z"/>
<path fill="#fed07e" fill-rule="evenodd" d="M1553.8 1058.3 L1569.3 1058.3 L1569.3 1072.3 L1553.8 1072.3Z"/>
<path fill="#fed07e" fill-rule="evenodd" d="M1583.3 1073.7 L1598.8 1073.7 L1598.8 1087.8 L1583.3 1087.8Z"/>
<path fill="#fed07e" fill-rule="evenodd" d="M1524.3 1134.2 L1538.4 1134.2 L1538.4 1149.7 L1524.3 1149.7Z"/>
<path fill="#fed07e" fill-rule="evenodd" d="M1524.3 1142.6 L1529.9 1137.9 L1534.7 1142.6 L1529.9 1146.9Z"/>
<path class="c" fill="none" d="M1524.3 1142.6 L1529.9 1137.9 L1534.7 1142.6 L1529.9 1146.9 L1524.3 1142.6"/>
<path fill="#fed07e" fill-rule="evenodd" d="M1589.5 1222.2 L1598.4 1227.5 L1603.7 1239.9 L1606.3 1255.9 L1609.0 1270.0 L1617.9 1287.7 L1630.3 1300.1 L1640.9 1307.2 L1640.9 1224.0 L1621.4 1222.2 L1603.7 1220.4Z"/>
<path class="c" fill="none" d="M1589.5 1222.2 L1598.4 1227.5 L1603.7 1239.9 L1606.3 1255.9 L1609.0 1270.0 L1617.9 1287.7 L1630.3 1300.1 L1640.9 1307.2 L1640.9 1224.0 L1627.9 1222.8 M1608.1 1220.9 L1603.7 1220.4 L1589.5 1222.2"/>
<path class="c" fill="none" d="M1617.9 1252.3 L1628.5 1259.4 L1635.6 1262.9 L1639.1 1268.3"/>
<path fill="#fed07e" fill-rule="evenodd" d="M1117.9 1273.4 L1132.0 1274.8 L1137.6 1276.2 L1146.1 1293.1 L1137.6 1312.8 L1143.2 1329.6 L1154.5 1343.7 L1168.6 1357.8 L1117.9 1357.8Z"/>
<path class="c" fill="none" d="M1117.9 1273.4 L1132.0 1274.8 L1137.6 1276.2 L1146.1 1293.1 L1137.6 1312.8 L1143.2 1329.6 L1154.5 1343.7 L1168.6 1357.8 L1117.9 1357.8 L1117.9 1289.5 M1117.9 1275.4 L1117.9 1273.4"/>
<path fill="#fed07e" fill-rule="evenodd" d="M1272.6 1338.1 L1288.1 1332.5 L1312.0 1332.5 L1312.0 1357.8 L1281.0 1357.8Z"/>
<path class="c" fill="none" d="M1272.6 1338.1 L1288.1 1332.5 L1290.2 1332.5 M1312.0 1349.3 L1312.0 1357.8 L1281.0 1357.8 L1272.6 1338.1"/>
<path fill="#f57547" fill-rule="evenodd" d="M1269.8 1160.9 L1258.5 1153.9 L1248.7 1156.7 L1243.1 1167.9 L1247.3 1197.5 L1244.5 1217.2 L1224.8 1222.8 L1212.1 1229.8 L1207.9 1217.2 L1196.7 1205.9 L1174.2 1215.7 L1161.5 1231.2 L1174.2 1242.5 L1196.7 1262.1 L1199.5 1279.0 L1210.7 1297.3 L1230.4 1297.3 L1244.5 1284.6 L1255.7 1284.6 L1264.2 1270.6 L1278.2 1267.8 L1289.5 1255.1 L1300.7 1257.9 L1326.0 1255.1 L1334.5 1265.0 L1347.1 1277.6 L1337.3 1284.6 L1317.6 1280.4 L1314.8 1291.7 L1334.5 1298.7 L1348.5 1301.5 L1357.0 1318.4 L1365.4 1331.0 L1379.5 1324.0 L1397.7 1326.8 L1393.5 1357.8 L1583.3 1356.8 L1582.4 1337.3 L1594.8 1323.2 L1610.8 1309.0 L1593.1 1291.3 L1584.2 1277.1 L1566.5 1259.4 L1553.8 1234.0 L1566.5 1224.2 L1562.3 1214.3 L1551.0 1200.3 L1536.9 1198.9 L1520.1 1201.7 L1513.0 1217.2 L1506.0 1232.6 L1484.9 1248.1 L1461.0 1234.0 L1435.7 1221.4 L1424.5 1211.5 L1409.0 1211.5 L1394.9 1205.9 L1385.1 1228.4 L1371.0 1248.1 L1364.0 1253.7 L1357.0 1234.0 L1349.9 1231.2 L1340.1 1217.2 L1334.5 1204.5 L1326.0 1194.7 L1317.6 1179.2 L1304.9 1175.0 L1288.1 1166.5Z"/>
<path class="c" fill="none" d="M1269.8 1160.9 L1258.5 1153.9 L1248.7 1156.7 L1243.1 1167.9 L1247.3 1197.5 L1244.5 1217.2 L1224.8 1222.8 L1212.1 1229.8 L1207.9 1217.2 L1196.7 1205.9 L1174.2 1215.7 L1161.5 1231.2 L1174.2 1242.5 L1196.7 1262.1 L1199.5 1279.0 L1210.7 1297.3 L1230.4 1297.3 L1244.5 1284.6 L1255.7 1284.6 L1264.2 1270.6 L1278.2 1267.8 L1289.5 1255.1 L1300.7 1257.9 L1326.0 1255.1 L1334.5 1265.0 L1347.1 1277.6 L1337.3 1284.6 L1317.6 1280.4 L1314.8 1291.7 L1334.5 1298.7 L1348.5 1301.5 L1357.0 1318.4 L1365.4 1331.0 L1379.5 1324.0 L1397.7 1326.8 L1393.5 1357.8 L1583.3 1356.8 L1582.4 1337.3 L1594.8 1323.2 L1610.8 1309.0 L1593.1 1291.3 L1584.2 1277.1 L1566.5 1259.4 L1553.8 1234.0 L1566.5 1224.2 L1562.3 1214.3 L1551.0 1200.3 L1536.9 1198.9 L1520.1 1201.7 L1513.0 1217.2 L1506.0 1232.6 L1484.9 1248.1 L1461.0 1234.0 L1435.7 1221.4 L1424.5 1211.5 L1422.3 1211.5 M1396.9 1206.7 L1394.9 1205.9 L1385.1 1228.4 L1371.0 1248.1 L1364.0 1253.7 L1357.0 1234.0 L1349.9 1231.2 L1340.1 1217.2 L1334.5 1204.5 L1326.0 1194.7 L1317.6 1179.2 L1304.9 1175.0 L1299.3 1172.2 M1273.9 1162.2 L1269.8 1160.9"/>
<path fill="#f57547" fill-rule="evenodd" d="M1219.2 1163.7 L1236.0 1163.7 L1236.0 1179.2 L1219.2 1179.2Z"/>
<path fill="#f57547" fill-rule="evenodd" d="M1295.1 1149.7 L1310.6 1149.7 L1310.6 1165.1 L1295.1 1165.1Z"/>
<path fill="#f57547" fill-rule="evenodd" d="M1129.2 1025.9 L1143.2 1025.9 L1143.2 1041.4 L1129.2 1041.4Z"/>
<path fill="#f57547" fill-rule="evenodd" d="M1220.6 1027.3 L1236.0 1027.3 L1236.0 1041.4 L1220.6 1041.4Z"/>
<path fill="#f57547" fill-rule="evenodd" d="M1569.3 1224.2 L1584.8 1224.2 L1584.8 1239.7 L1569.3 1239.7Z"/>
<path fill="#e85b48" fill-rule="evenodd" d="M1162.9 1231.2 L1174.2 1221.4 L1188.2 1210.1 L1196.7 1206.5 L1206.5 1215.7 L1210.7 1228.4 L1216.4 1234.0 L1227.6 1227.0 L1241.7 1234.0 L1248.7 1248.1 L1236.0 1255.1 L1229.0 1262.1 L1233.2 1276.2 L1229.0 1283.2 L1210.7 1286.1 L1205.7 1279.0 L1203.7 1265.0 L1192.5 1253.7 L1174.2 1243.9Z"/>
<path class="c" fill="none" d="M1162.9 1231.2 L1174.2 1221.4 L1188.2 1210.1 M1210.0 1226.3 L1210.7 1228.4 L1216.4 1234.0 L1227.6 1227.0 L1241.7 1234.0 L1248.7 1248.1 L1236.0 1255.1 L1229.0 1262.1 L1233.2 1276.2 L1229.0 1283.2 L1210.7 1286.1 L1205.7 1279.0 L1203.7 1265.0 L1192.5 1253.7 L1174.2 1243.9 L1162.9 1231.2"/>
<path fill="#d7414e" fill-rule="evenodd" d="M1171.4 1232.1 L1180.4 1225.0 L1188.2 1232.1 L1180.4 1239.1Z"/>
<path class="c" fill="none" d="M1171.4 1232.1 L1180.4 1225.0 L1188.2 1232.1 L1180.4 1239.1 L1171.4 1232.1"/>
<path fill="#e85b48" fill-rule="evenodd" d="M1257.1 1184.8 L1271.2 1175.0 L1283.9 1182.0 L1297.9 1183.4 L1312.0 1189.0 L1323.2 1197.5 L1326.0 1208.7 L1317.6 1212.9 L1300.7 1217.2 L1281.0 1224.2 L1269.8 1221.4 L1264.2 1203.1Z"/>
<path class="c" fill="none" d="M1257.1 1184.8 L1271.2 1175.0 L1283.9 1182.0 L1297.9 1183.4 L1312.0 1189.0 L1323.2 1197.5 L1326.0 1208.7 L1317.6 1212.9 L1311.3 1214.5 M1285.0 1222.8 L1281.0 1224.2 L1269.8 1221.4 L1264.2 1203.1 L1257.1 1184.8"/>
<path fill="#d7414e" fill-rule="evenodd" d="M1267.0 1183.4 L1272.6 1181.2 L1278.8 1184.0 L1272.6 1200.8Z"/>
<path class="c" fill="none" d="M1267.0 1183.4 L1272.6 1181.2 L1278.8 1184.0 L1272.6 1200.8 L1267.0 1183.4"/>
<path fill="#e85b48" fill-rule="evenodd" d="M1326.0 1210.1 L1341.5 1210.1 L1341.5 1227.0 L1326.0 1227.0Z"/>
<path fill="#e85b48" fill-rule="evenodd" d="M1413.2 1293.1 L1438.5 1270.6 L1449.8 1270.6 L1470.9 1277.6 L1483.5 1290.3 L1506.0 1286.1 L1522.9 1284.6 L1539.8 1291.7 L1548.2 1304.3 L1553.8 1326.8 L1548.2 1340.9 L1536.9 1357.8 L1427.3 1357.8 L1420.2 1338.1 L1421.7 1315.6Z"/>
<path class="c" fill="none" d="M1413.2 1293.1 L1438.5 1270.6 L1449.8 1270.6 L1457.4 1273.1 M1478.8 1285.5 L1483.5 1290.3 L1506.0 1286.1 L1522.9 1284.6 L1539.8 1291.7 L1548.2 1304.3 L1553.8 1326.8 L1548.2 1340.9 L1536.9 1357.8 L1427.3 1357.8 L1420.2 1338.1 L1421.7 1315.6 L1413.2 1293.1"/>
<path class="c" fill="none" d="M1189.6 1227.0 L1202.3 1236.8 L1213.6 1246.7 L1227.6 1234.0 L1240.3 1235.4"/>
<path fill="#fa9857" fill-rule="evenodd" d="M1174.2 1276.2 L1182.1 1273.4 L1183.2 1281.8Z"/>
<path class="c" fill="none" d="M1174.2 1276.2 L1182.1 1273.4 L1183.2 1281.8 L1174.2 1276.2"/>
</g>
<g stroke="#b0b0b0" stroke-opacity="0.45" stroke-width="1.1" stroke-dasharray="7 4" fill="none"><line x1="423.5" x2="423.5" y1="140.5" y2="1353.8"/><line x1="727.0" x2="727.0" y1="140.5" y2="1353.8"/><line x1="1030.5" x2="1030.5" y1="140.5" y2="1353.8"/><line x1="1334.0" x2="1334.0" y1="140.5" y2="1353.8"/><line y1="1202.2" y2="1202.2" x1="120.0" x2="1637.5"/><line y1="1050.5" y2="1050.5" x1="120.0" x2="1637.5"/><line y1="898.8" y2="898.8" x1="120.0" x2="1637.5"/><line y1="747.2" y2="747.2" x1="120.0" x2="1637.5"/><line y1="595.5" y2="595.5" x1="120.0" x2="1637.5"/><line y1="443.9" y2="443.9" x1="120.0" x2="1637.5"/><line y1="292.2" y2="292.2" x1="120.0" x2="1637.5"/></g>
<text class="lab" x="530.6" y="165.3" text-anchor="middle" dominant-baseline="central" transform="rotate(20 530.6 165.3)">-10</text>
<text class="lab" x="515.0" y="258.7" text-anchor="middle" dominant-baseline="central" transform="rotate(10 515.0 258.7)">-4</text>
<text class="lab" x="134.0" y="473.0" text-anchor="middle" dominant-baseline="central" transform="rotate(25 134.0 473.0)">2</text>
<text class="lab" x="257.8" y="471.8" text-anchor="middle" dominant-baseline="central" transform="rotate(-35 257.8 471.8)">2</text>
<text class="lab" x="425.0" y="491.5" text-anchor="middle" dominant-baseline="central" transform="rotate(20 425.0 491.5)">2</text>
<text class="lab" x="847.0" y="152.0" text-anchor="middle" dominant-baseline="central" transform="rotate(8 847.0 152.0)">-16</text>
<text class="lab" x="1060.5" y="148.5" text-anchor="middle" dominant-baseline="central" transform="rotate(0 1060.5 148.5)">-18</text>
<text class="lab" x="792.0" y="311.5" text-anchor="middle" dominant-baseline="central" transform="rotate(25 792.0 311.5)">-6</text>
<text class="lab" x="887.5" y="413.3" text-anchor="middle" dominant-baseline="central" transform="rotate(12 887.5 413.3)">-2</text>
<text class="lab" x="1570.7" y="200.0" text-anchor="middle" dominant-baseline="central" transform="rotate(-3 1570.7 200.0)">-14</text>
<text class="lab" x="1364.0" y="218.7" text-anchor="middle" dominant-baseline="central" transform="rotate(-3 1364.0 218.7)">-12</text>
<text class="lab" x="1531.3" y="277.0" text-anchor="middle" dominant-baseline="central" transform="rotate(-3 1531.3 277.0)">-8</text>
<text class="lab" x="129.8" y="610.0" text-anchor="middle" dominant-baseline="central" transform="rotate(-75 129.8 610.0)">0</text>
<text class="lab" x="248.0" y="687.0" text-anchor="middle" dominant-baseline="central" transform="rotate(65 248.0 687.0)">-2</text>
<text class="lab" x="167.8" y="718.0" text-anchor="middle" dominant-baseline="central" transform="rotate(38 167.8 718.0)">-4</text>
<text class="lab" x="173.4" y="822.0" text-anchor="middle" dominant-baseline="central" transform="rotate(15 173.4 822.0)">2</text>
<text class="lab" x="318.0" y="854.0" text-anchor="middle" dominant-baseline="central" transform="rotate(35 318.0 854.0)">0</text>
<text class="lab" x="226.9" y="874.0" text-anchor="middle" dominant-baseline="central" transform="rotate(15 226.9 874.0)">4</text>
<text class="lab" x="361.8" y="893.7" text-anchor="middle" dominant-baseline="central" transform="rotate(35 361.8 893.7)">4</text>
<text class="lab" x="437.8" y="921.8" text-anchor="middle" dominant-baseline="central" transform="rotate(-10 437.8 921.8)">2</text>
<text class="lab" x="499.6" y="933.0" text-anchor="middle" dominant-baseline="central" transform="rotate(0 499.6 933.0)">4</text>
<text class="lab" x="544.6" y="924.6" text-anchor="middle" dominant-baseline="central" transform="rotate(0 544.6 924.6)">4</text>
<text class="lab" x="581.2" y="898.0" text-anchor="middle" dominant-baseline="central" transform="rotate(20 581.2 898.0)">4</text>
<text class="lab" x="610.7" y="792.5" text-anchor="middle" dominant-baseline="central" transform="rotate(70 610.7 792.5)">6</text>
<text class="lab" x="1095.6" y="609.7" text-anchor="middle" dominant-baseline="central" transform="rotate(0 1095.6 609.7)">0</text>
<text class="lab" x="998.6" y="761.5" text-anchor="middle" dominant-baseline="central" transform="rotate(0 998.6 761.5)">6</text>
<text class="lab" x="924.7" y="823.4" text-anchor="middle" dominant-baseline="central" transform="rotate(20 924.7 823.4)">4</text>
<text class="lab" x="709.0" y="867.0" text-anchor="middle" dominant-baseline="central" transform="rotate(20 709.0 867.0)">4</text>
<text class="lab" x="1015.5" y="848.7" text-anchor="middle" dominant-baseline="central" transform="rotate(0 1015.5 848.7)">4</text>
<text class="lab" x="1046.4" y="876.3" text-anchor="middle" dominant-baseline="central" transform="rotate(20 1046.4 876.3)">4</text>
<text class="lab" x="924.0" y="895.0" text-anchor="middle" dominant-baseline="central" transform="rotate(0 924.0 895.0)">4</text>
<text class="lab" x="864.5" y="920.4" text-anchor="middle" dominant-baseline="central" transform="rotate(0 864.5 920.4)">4</text>
<text class="lab" x="1000.0" y="933.0" text-anchor="middle" dominant-baseline="central" transform="rotate(0 1000.0 933.0)">4</text>
<text class="lab" x="1031.0" y="933.0" text-anchor="middle" dominant-baseline="central" transform="rotate(0 1031.0 933.0)">4</text>
<text class="lab" x="1621.3" y="597.0" text-anchor="middle" dominant-baseline="central" transform="rotate(75 1621.3 597.0)">2</text>
<text class="lab" x="1576.3" y="754.5" text-anchor="middle" dominant-baseline="central" transform="rotate(-10 1576.3 754.5)">0</text>
<text class="lab" x="1470.9" y="928.9" text-anchor="middle" dominant-baseline="central" transform="rotate(20 1470.9 928.9)">0</text>
<text class="lab" x="194.5" y="959.8" text-anchor="middle" dominant-baseline="central" transform="rotate(20 194.5 959.8)">2</text>
<text class="lab" x="300.0" y="1095.7" text-anchor="middle" dominant-baseline="central" transform="rotate(0 300.0 1095.7)">0</text>
<text class="lab" x="347.8" y="1176.4" text-anchor="middle" dominant-baseline="central" transform="rotate(15 347.8 1176.4)">0</text>
<text class="lab" x="574.2" y="1142.6" text-anchor="middle" dominant-baseline="central" transform="rotate(0 574.2 1142.6)">0</text>
<text class="lab" x="248.0" y="1262.7" text-anchor="middle" dominant-baseline="central" transform="rotate(12 248.0 1262.7)">-2</text>
<text class="lab" x="390.0" y="1308.5" text-anchor="middle" dominant-baseline="central" transform="rotate(0 390.0 1308.5)">-2</text>
<text class="lab" x="437.8" y="1335.3" text-anchor="middle" dominant-baseline="central" transform="rotate(-25 437.8 1335.3)">-2</text>
<text class="lab" x="741.3" y="1055.5" text-anchor="middle" dominant-baseline="central" transform="rotate(15 741.3 1055.5)">2</text>
<text class="lab" x="917.6" y="1201.3" text-anchor="middle" dominant-baseline="central" transform="rotate(80 917.6 1201.3)">8</text>
<text class="lab" x="907.5" y="1237.0" text-anchor="middle" dominant-baseline="central" transform="rotate(-60 907.5 1237.0)">6</text>
<text class="lab" x="848.6" y="1263.0" text-anchor="middle" dominant-baseline="central" transform="rotate(90 848.6 1263.0)">8</text>
<text class="lab" x="859.6" y="1278.6" text-anchor="middle" dominant-baseline="central" transform="rotate(-40 859.6 1278.6)">6</text>
<text class="lab" x="850.4" y="1296.0" text-anchor="middle" dominant-baseline="central" transform="rotate(-50 850.4 1296.0)">2</text>
<text class="lab" x="808.0" y="1308.0" text-anchor="middle" dominant-baseline="central" transform="rotate(-40 808.0 1308.0)">6</text>
<text class="lab" x="906.5" y="1307.0" text-anchor="middle" dominant-baseline="central" transform="rotate(0 906.5 1307.0)">2</text>
<text class="lab" x="939.7" y="1248.0" text-anchor="middle" dominant-baseline="central" transform="rotate(80 939.7 1248.0)">2</text>
<text class="lab" x="984.8" y="1233.5" text-anchor="middle" dominant-baseline="central" transform="rotate(80 984.8 1233.5)">2</text>
<text class="lab" x="865.0" y="1231.7" text-anchor="middle" dominant-baseline="central" transform="rotate(90 865.0 1231.7)">2</text>
<text class="lab" x="833.0" y="1347.6" text-anchor="middle" dominant-baseline="central" transform="rotate(15 833.0 1347.6)">0</text>
<text class="lab" x="983.0" y="1112.0" text-anchor="middle" dominant-baseline="central" transform="rotate(90 983.0 1112.0)">8</text>
<text class="lab" x="1043.8" y="1058.0" text-anchor="middle" dominant-baseline="central" transform="rotate(-55 1043.8 1058.0)">8</text>
<text class="lab" x="1121.6" y="1037.7" text-anchor="middle" dominant-baseline="central" transform="rotate(0 1121.6 1037.7)">6</text>
<text class="lab" x="1076.0" y="1157.0" text-anchor="middle" dominant-baseline="central" transform="rotate(20 1076.0 1157.0)">4</text>
<text class="lab" x="1123.7" y="1215.0" text-anchor="middle" dominant-baseline="central" transform="rotate(30 1123.7 1215.0)">4</text>
<text class="lab" x="1106.2" y="1282.4" text-anchor="middle" dominant-baseline="central" transform="rotate(50 1106.2 1282.4)">2</text>
<text class="lab" x="1092.9" y="1338.5" text-anchor="middle" dominant-baseline="central" transform="rotate(-40 1092.9 1338.5)">0</text>
<text class="lab" x="1234.6" y="1110.3" text-anchor="middle" dominant-baseline="central" transform="rotate(10 1234.6 1110.3)">4</text>
<text class="lab" x="1134.8" y="1141.0" text-anchor="middle" dominant-baseline="central" transform="rotate(0 1134.8 1141.0)">4</text>
<text class="lab" x="1227.6" y="1169.0" text-anchor="middle" dominant-baseline="central" transform="rotate(0 1227.6 1169.0)">6</text>
<text class="lab" x="1288.0" y="1165.0" text-anchor="middle" dominant-baseline="central" transform="rotate(15 1288.0 1165.0)">6</text>
<text class="lab" x="1350.0" y="1194.7" text-anchor="middle" dominant-baseline="central" transform="rotate(12 1350.0 1194.7)">4</text>
<text class="lab" x="1200.9" y="1215.7" text-anchor="middle" dominant-baseline="central" transform="rotate(-50 1200.9 1215.7)">8</text>
<text class="lab" x="1298.0" y="1215.7" text-anchor="middle" dominant-baseline="central" transform="rotate(10 1298.0 1215.7)">8</text>
<text class="lab" x="1409.0" y="1215.7" text-anchor="middle" dominant-baseline="central" transform="rotate(0 1409.0 1215.7)">6</text>
<text class="lab" x="1470.9" y="1273.4" text-anchor="middle" dominant-baseline="central" transform="rotate(10 1470.9 1273.4)">8</text>
<text class="lab" x="1424.5" y="1056.9" text-anchor="middle" dominant-baseline="central" transform="rotate(15 1424.5 1056.9)">2</text>
<text class="lab" x="1390.7" y="1003.4" text-anchor="middle" dominant-baseline="central" transform="rotate(60 1390.7 1003.4)">2</text>
<text class="lab" x="1302.0" y="1054.0" text-anchor="middle" dominant-baseline="central" transform="rotate(80 1302.0 1054.0)">2</text>
<text class="lab" x="1514.5" y="1145.4" text-anchor="middle" dominant-baseline="central" transform="rotate(0 1514.5 1145.4)">2</text>
<text class="lab" x="1617.0" y="1231.0" text-anchor="middle" dominant-baseline="central" transform="rotate(55 1617.0 1231.0)">2</text>
<text class="lab" x="1300.7" y="1340.9" text-anchor="middle" dominant-baseline="central" transform="rotate(80 1300.7 1340.9)">2</text>
<path class="coast" d="M201.6 544.9 L198.7 532.3 L193.7 525.3 L201.6 514.0 L210.0 502.8 L224.0 492.9 L238.1 487.3 L255.0 477.5 L269.0 467.6 L280.3 460.6 L294.4 455.0 L314.0 450.7 L328.1 450.7 L342.2 455.0 L359.0 457.8 L364.7 452.1 L373.1 453.6 L384.3 459.2 L387.2 466.2 L398.4 469.0 L409.7 466.2 L418.1 459.2 L423.7 463.4 L432.1 460.6 L443.4 471.8 L451.8 467.6 L446.2 463.4 L435.0 457.8 L432.1 452.1 L440.6 447.9 L437.8 442.3 L429.3 443.7 L418.1 442.3 L411.1 438.1 L418.1 432.5 L426.5 433.9 L437.8 436.7 L451.8 432.5 L465.9 431.1 L482.8 429.7 L499.6 433.9 L513.7 431.1 L530.6 429.7 L547.4 433.9 L558.7 440.9 L564.3 449.3 L575.6 452.1 L584.0 449.3 L593.0 445.4"/>
<path class="coast" d="M482.8 429.7 L484.2 422.6 L488.4 433.9"/>
<path class="bord" d="M120.0 505.6 L131.2 516.8 L135.5 530.9 L143.9 544.9"/>
<path class="coast" d="M593.0 445.5 L595.5 441.7 L605.5 442.0 L613.0 445.5 L626.7 460.0 L643.0 472.0 L646.7 479.0 L645.5 490.0 L641.0 502.0 L640.5 510.0 L646.7 512.0 L653.0 509.0 L645.0 519.4 L652.0 530.0 L661.0 539.0 L668.0 545.0"/>
<path class="coast" d="M724.4 544.9 L721.6 533.7 L710.4 502.8 L701.9 483.1 L693.5 463.4 L686.5 443.7 L682.2 424.0 L680.8 414.2 L682.2 405.7 L686.5 393.1 L693.5 384.7 L701.9 373.4 L710.4 367.8 L727.2 362.2 L741.3 352.3 L749.7 343.9 L758.2 334.0 L769.4 327.0 L783.5 324.2 L789.1 322.8 L794.7 314.4 L806.0 304.5"/>
<path class="coast" d="M710.4 502.8 L701.9 481.7 L706.1 488.7 L721.6 532.3"/>
<path class="coast" d="M788.3 310.0 L791.8 307.0 L798.9 307.6 L805.4 305.3 L804.8 300.5 L807.2 303.5 L819.0 301.1 L827.2 300.5 L831.9 302.9 L835.5 298.2 L843.7 291.7"/>
<path class="coast" d="M827.2 300.5 L835.5 297.0 L841.4 293.5"/>
<path class="coast" d="M850.8 287.6 L857.9 284.6 L862.6 283.4 L864.4 278.1 L863.8 269.9 L862.6 266.9 L860.3 264.0 L855.6 253.3 L850.8 240.3 L847.9 233.3 L841.4 232.7 L835.5 233.3 L831.9 232.1 L829.6 228.5 L824.9 225.0 L817.8 222.6 L810.1 221.5"/>
<path class="coast" d="M860.3 264.0 L855.6 258.0 L850.8 253.3 L849.1 246.2 L850.8 241.5"/>
<path class="coast" d="M825.4 254.5 L825.4 262.8 L830.8 262.8 L835.5 258.0 L842.6 256.3 L846.1 253.3 L850.8 253.9 L853.2 258.0 L855.6 262.8 L853.8 265.1 L849.6 263.4 L846.1 264.0 L845.5 271.0 L847.9 270.4 L849.1 265.1 L852.6 263.4 L855.6 265.1 L855.0 271.0 L849.6 276.9 L843.7 281.1 L836.7 279.3 L831.9 276.9 L830.2 275.8 L829.0 279.3 L824.9 278.7 L820.1 277.5 L816.0 275.8"/>
<path class="coast" d="M815.4 287.0 L820.1 291.1 L827.2 291.1 L830.8 287.6 L831.9 282.8 L829.0 279.9"/>
<path class="coast" d="M829.6 227.4 L833.1 229.7 L836.7 230.9 L837.8 228.5 L834.3 226.2 L829.6 221.5 L824.9 216.7"/>
<path class="coast" d="M836.7 220.3 L840.2 217.9 L837.8 214.4 L833.1 212.0 L827.2 207.3 L820.1 200.2 L815.4 195.5"/>
<path class="coast" d="M835.5 210.8 L838.4 208.5 L839.0 203.7 L834.3 199.0 L827.2 194.3 L820.1 190.8 L814.2 188.4 L808.3 188.4 L808.9 184.9 L813.1 179.0 L817.8 174.8"/>
<path class="coast" d="M827.2 182.5 L830.8 187.2 L835.5 191.9 L837.8 196.7"/>
<path class="coast" d="M837.8 196.7 L835.5 189.6 L833.7 184.9 L831.9 180.1 L832.5 175.4 L831.9 168.9 L834.3 165.4 L831.9 163.0 L836.7 161.8 L841.4 158.9 L846.1 157.1 L850.8 155.9 L847.9 154.2 L847.3 147.1"/>
<path class="coast" d="M843.7 147.1 L848.5 147.7"/>
<path class="coast" d="M834.3 153.6 L839.0 153.9"/>
<path class="coast" d="M836.7 181.3 L839.0 175.4 L837.8 170.7 L841.4 168.3 L840.2 163.6"/>
<path class="coast" d="M847.3 181.9 L842.6 181.3 L839.6 183.7 L841.4 187.2 L846.1 189.6 L849.6 191.9 L852.0 196.7 L852.6 201.4 L855.6 200.2 L857.3 203.7 L853.2 210.8 L849.6 216.7 L848.5 222.6 L850.2 226.8 L853.2 221.5 L857.9 215.6 L862.6 209.6 L867.4 203.7 L872.1 195.5 L876.8 189.6 L876.8 181.3 L873.3 175.4 L867.4 167.2 L865.0 157.7 L862.6 153.0 L861.5 155.3 L862.6 149.4 L867.4 144.7 L874.4 140.6"/>
<path class="coast" d="M866.8 204.3 L873.3 193.7"/>
<path class="coast" d="M858.5 151.8 L855.6 153.6 L855.0 156.5 L857.3 159.5 L860.9 159.5 L862.6 156.5"/>
<path class="coast" d="M865.0 157.7 L869.7 161.2 L876.8 163.6 L881.5 166.6 L880.3 171.9 L883.9 170.7 L888.6 164.8 L893.3 159.5 L896.9 155.3 L901.6 151.8 L906.3 145.9 L907.5 140.6"/>
<path class="coast" d="M1185.4 374.8 L1189.6 372.8 L1191.9 371.2 L1190.5 374.0 L1186.3 375.7 L1185.4 374.8"/>
<path class="coast" d="M626.0 894.6 L628.0 898.0 L625.5 901.0 L629.7 917.9 L624.5 930.0 L619.8 943.3 L619.0 952.0"/>
<path class="coast" d="M203.2 545.0 L206.0 563.3 L205.3 573.2 L196.8 590.1 L191.2 611.2 L188.4 632.4 L187.7 654.9 L184.8 667.6 L187.7 683.1 L196.1 695.8 L201.7 701.4 L198.9 708.5 L206.0 726.8 L215.8 738.1 L224.3 748.0"/>
<path class="coast" d="M187.7 683.1 L193.3 697.2 L198.9 708.5"/>
<path class="coast" d="M197.5 545.0 L201.0 554.9 L206.0 563.3"/>
<path class="coast" d="M224.3 748.0 L231.3 763.5 L242.6 780.4 L252.5 785.4 L266.6 786.1 L277.9 791.7 L286.3 802.3 L296.2 800.9 L313.1 795.2 L335.6 794.5 L348.3 798.0 L365.2 790.3 L373.0 786.1"/>
<path class="coast" d="M373.0 786.1 L381.5 781.8 L384.3 788.9 L377.2 793.1 L373.0 790.3"/>
<path class="coast" d="M381.5 781.8 L387.1 776.2 L401.2 766.3 L406.8 756.5 L408.2 748.0"/>
<path class="coast" d="M408.2 748.0 L408.9 725.4 L412.5 716.2 L428.0 708.5 L457.6 703.6 L468.8 699.3 L480.1 697.9 L499.8 702.2 L508.3 701.4 L502.7 699.3 L511.1 697.2 L518.2 702.9 L521.0 711.3 L518.2 721.2 L511.1 728.2 L502.7 738.1 L499.8 748.0"/>
<path class="coast" d="M513.9 738.8 L515.4 732.5 L521.0 729.6 L518.2 735.3 L513.9 738.8"/>
<path class="coast" d="M499.8 748.0 L494.2 756.5 L500.6 760.7 L495.6 769.1 L498.4 772.0 L492.8 788.9 L488.6 800.1 L482.9 783.2 L477.3 787.5 L471.7 795.9 L480.1 795.9 L477.3 815.7 L475.9 832.6 L474.5 846.7 L464.6 859.3 L453.3 863.6 L457.6 869.2 L466.0 869.2 L480.1 876.3 L494.2 872.0 L513.9 874.8 L528.0 873.4 L545.0 867.8 L561.9 870.6 L574.6 869.2 L590.1 873.4 L604.1 880.5 L615.4 888.9 L626.0 894.6"/>
<path class="coast" d="M461.8 807.2 L468.8 800.1 L474.5 807.2 L467.4 814.2 L461.8 807.2"/>
<path class="coast" d="M485.8 828.3 L490.0 821.3"/>
<path class="coast" d="M484.3 810.0 L487.2 803.0"/>
<path class="coast" d="M525.2 859.3 L536.5 855.1"/>
<path class="coast" d="M545.7 855.8 L549.9 853.0"/>
<path class="coast" d="M601.3 883.3 L609.8 886.1 L618.2 890.4"/>
<path class="coast" d="M120.0 841.0 L134.1 846.7 L157.4 853.0 L165.1 859.3 L176.4 862.2 L189.1 869.2 L198.9 870.6 L218.7 876.3 L235.6 877.0 L255.3 869.2 L266.6 862.2 L275.0 860.8 L283.5 867.8 L301.8 872.7 L331.4 895.3 L346.9 896.0 L363.8 914.3 L373.0 924.2"/>
<path class="coast" d="M373.0 924.2 L387.1 929.8 L405.4 931.2 L429.4 941.1 L451.9 948.1 L464.6 951.0"/>
<path class="coast" d="M578.1 690.2 L587.2 685.9 L595.0 684.5 L593.6 676.1 L601.3 667.6 L612.6 662.7 L626.0 657.1"/>
<path class="coast" d="M590.1 693.0 L598.5 688.8 L605.6 687.4 L607.0 681.7 L618.2 680.3 L626.0 677.5"/>
<path class="coast" d="M578.1 690.2 L590.1 688.8 L604.1 690.9 L619.7 692.3 L626.0 690.9"/>
<path class="bord" d="M144.0 545.0 L148.2 552.0 L166.5 559.1 L180.6 563.3 L198.9 569.0 L206.0 566.1"/>
<path class="bord" d="M393.4 813.5 L449.1 813.5 L447.7 838.2 L446.3 872.0 L456.2 872.0"/>
<path class="bord" d="M393.4 813.5 L393.4 829.7 L380.0 830.5 L391.3 841.0 L401.2 846.7 L405.4 855.1 L410.4 857.2 L409.6 866.4 L373.0 866.4"/>
<path class="bord" d="M494.2 872.0 L474.5 881.9 L449.1 897.4 L447.7 907.3 L440.7 917.1 L420.9 931.2 L419.5 936.9"/>
<path class="bord" d="M440.7 915.7 L457.6 924.2 L468.8 932.6 L480.1 931.2 L490.0 932.6 L491.4 945.3 L488.6 951.0"/>
<path class="bord" d="M521.0 951.0 L521.7 936.9 L533.7 935.5 L542.1 929.8 L552.0 932.6 L568.9 917.1 L570.3 911.5 L581.6 903.0 L590.1 910.1 L604.1 905.9 L626.0 897.4"/>
<path class="coast" d="M668.2 545.0 L671.0 559.1 L686.5 573.1 L693.5 587.2 L707.6 588.6 L718.8 573.1 L723.0 556.2 L725.0 545.0"/>
<path class="coast" d="M690.7 587.2 L696.3 590.0 L694.9 585.8 L690.7 587.2"/>
<path class="coast" d="M659.2 547.8 L668.2 545.0 L671.0 549.2 L662.6 551.2 L659.2 547.8"/>
<path class="coast" d="M780.7 590.0 L787.7 591.4 L794.7 605.5 L791.9 615.3 L786.3 613.9 L779.3 608.3 L775.0 605.5 L780.7 601.2 L780.7 590.0"/>
<path class="coast" d="M787.7 618.1 L800.4 619.5 L801.8 632.2 L794.7 633.6 L787.7 618.1"/>
<path class="coast" d="M758.2 545.0 L772.2 548.4 L783.5 550.1 L796.1 548.9 L789.1 546.1 L772.2 545.0"/>
<path class="coast" d="M808.8 546.4 L815.8 553.4 L811.6 567.5 L806.0 564.7 L810.2 556.2 L808.8 546.4"/>
<path class="coast" d="M824.3 578.7 L836.9 585.8 L843.9 592.8 L842.5 605.5 L839.2 601.2"/>
<path class="coast" d="M856.6 605.5 L865.0 618.1 L869.3 620.9"/>
<path class="coast" d="M869.3 636.4 L874.9 649.0 L881.9 657.5"/>
<path class="coast" d="M846.8 636.4 L856.6 642.0"/>
<path class="coast" d="M800.4 594.2 L808.8 593.7"/>
<path class="coast" d="M891.7 623.2 L894.6 626.6"/>
<path class="coast" d="M900.2 661.7 L912.8 665.9 L911.4 673.0 L900.2 681.4"/>
<path class="coast" d="M933.9 673.0 L946.6 676.6"/>
<path class="coast" d="M918.5 713.7 L935.3 710.9 L938.1 716.5 L921.3 719.4 L918.5 713.7"/>
<path class="coast" d="M959.2 691.2 L963.5 692.6"/>
<path class="coast" d="M967.7 689.0 L980.3 692.6"/>
<path class="coast" d="M936.7 700.5 L940.4 701.4"/>
<path class="coast" d="M626.0 657.5 L642.9 653.3 L659.7 651.3 L687.9 652.4 L704.7 654.1 L721.6 657.5 L738.5 664.5 L749.7 671.5 L766.6 674.9 L783.5 682.8 L800.4 691.2 L811.6 698.3 L822.9 705.3 L839.7 710.9 L856.6 713.7 L859.4 720.8 L873.5 722.2 L890.3 727.8 L904.4 738.5 L896.0 743.3 L873.5 748.9 L851.0 746.9 L822.9 748.9 L796.1 751.7 L814.4 734.8 L811.6 727.8 L789.1 725.0 L772.2 713.7 L766.6 698.3 L755.4 701.1 L744.1 694.0 L732.9 685.6 L710.4 680.0 L693.5 678.6 L685.1 681.4 L665.4 674.4 L673.8 667.3 L642.9 665.9 L626.0 677.2"/>
<path class="coast" d="M738.5 661.7 L746.9 666.5"/>
<path class="coast" d="M766.6 670.1 L783.5 677.2 L800.4 687.0 L806.0 691.2"/>
<path class="coast" d="M630.2 691.2 L638.7 688.4 L648.5 692.6 L648.5 699.7 L640.1 703.9 L631.6 699.7 L630.2 691.2"/>
<path class="coast" d="M776.4 798.1 L789.1 792.5 L808.8 793.9 L828.5 799.5 L839.7 805.1 L841.1 810.7 L828.5 812.2 L814.4 810.7 L811.6 816.4 L794.7 810.7 L783.5 803.7 L776.4 798.1"/>
<path class="coast" d="M683.6 767.2 L693.5 768.0"/>
<path class="coast" d="M925.5 754.5 L935.3 750.3 L957.8 753.1 L977.5 755.9 L1000.0 751.7 L1019.7 754.5 L1030.9 758.7 L1042.2 767.2 L1056.3 775.6 L1070.3 782.6 L1080.2 789.7 L1075.9 799.5 L1067.5 800.9 L1059.1 796.7 L1042.2 799.5 L1019.7 800.9 L1000.0 803.7 L991.6 812.2 L986.0 817.8 L977.5 806.5 L963.5 800.9 L946.6 799.5 L929.7 802.3 L915.7 806.5 L907.2 799.5 L896.0 796.7 L894.6 789.7 L907.2 788.3 L924.1 792.5 L943.8 792.5 L957.8 786.8 L949.4 778.4 L946.6 770.0 L948.0 762.9 L935.3 758.7 L925.5 754.5"/>
<path class="coast" d="M929.7 779.8 L941.0 781.2 L945.2 785.4 L933.9 783.5 L929.7 779.8"/>
<path class="coast" d="M939.6 745.2 L950.8 746.1"/>
<path class="coast" d="M1040.8 770.0 L1056.3 772.8 L1064.7 778.4 L1047.8 774.2"/>
<path class="bord" d="M977.5 755.9 L978.9 770.0 L974.7 781.2 L977.5 789.7 L970.5 791.1 L977.5 799.5 L978.9 806.5"/>
<path class="coast" d="M1131.9 793.0 L1120.9 792.5 L1113.9 793.9 L1116.7 807.9 L1131.9 809.3"/>
<path class="coast" d="M671.0 609.1 L675.2 608.0"/>
<path class="coast" d="M680.8 606.3 L686.5 604.6"/>
<path class="coast" d="M692.1 603.5 L700.5 600.7"/>
<path class="coast" d="M706.1 597.9 L717.4 587.2"/>
<path class="coast" d="M1132.0 793.9 L1146.1 793.0 L1161.5 795.3 L1162.9 799.5 L1155.9 806.5 L1146.1 808.8 L1132.0 807.9"/>
<path class="coast" d="M1164.3 803.2 L1172.8 803.7"/>
<path class="coast" d="M1181.2 796.7 L1186.8 796.1"/>
<path class="coast" d="M1189.6 795.3 L1202.3 792.5"/>
<path class="coast" d="M1185.4 815.5 L1193.9 815.8"/>
<path class="coast" d="M1238.9 800.3 L1242.2 802.3"/>
<path class="coast" d="M1238.9 805.1 L1241.7 806.5"/>
<path class="coast" d="M1245.9 826.2 L1251.5 827.6 L1255.7 834.7 L1250.1 831.8 L1245.9 826.2"/>
<path class="coast" d="M1276.8 816.4 L1280.5 819.2 L1278.2 821.2 L1276.8 816.4"/>
<path class="coast" d="M1276.0 834.7 L1281.0 833.2 L1282.4 837.5 L1276.8 837.5 L1276.0 834.7"/>
<path class="coast" d="M1266.4 845.3 L1268.1 847.6"/>
<path class="coast" d="M1279.6 858.6 L1285.3 860.0 L1286.1 868.4 L1281.0 868.4 L1279.6 858.6"/>
<path class="coast" d="M1287.2 854.3 L1292.3 852.9 L1295.1 860.0 L1289.5 861.4 L1287.2 854.3"/>
<path class="coast" d="M1293.7 869.0 L1296.5 871.2"/>
<path class="coast" d="M1289.5 881.1 L1295.1 879.6 L1295.7 889.5 L1290.9 890.9 L1289.5 881.1"/>
<path class="coast" d="M1296.5 903.5 L1303.5 904.4 L1307.8 914.8 L1300.7 913.4 L1296.5 903.5"/>
<path class="coast" d="M1297.9 927.5 L1303.5 923.2 L1306.9 931.7 L1302.1 937.3 L1297.9 927.5"/>
<path class="coast" d="M451.8 950.0 L465.9 953.4 L482.8 954.2 L488.4 951.4 L485.6 948.6"/>
<path class="coast" d="M498.2 951.4 L502.5 955.6 L496.8 958.4 L494.0 961.2 L499.6 965.5 L510.9 975.3 L524.9 992.2 L539.0 1004.8 L553.1 1017.5 L547.4 1023.7 L555.3 1028.7 L550.3 1040.0 L554.5 1049.8 L567.1 1056.9 L572.8 1062.5 L578.4 1055.5 L567.1 1044.2 L577.0 1048.4 L585.4 1059.7 L598.1 1068.1 L612.1 1076.5 L623.4 1082.2 L617.8 1087.8 L614.9 1093.4 L625.9 1097.6"/>
<path class="coast" d="M619.2 950.0 L620.6 964.1 L617.8 972.5 L614.9 980.9 L612.1 992.2 L613.5 1000.6 L610.7 1011.9 L614.9 1021.7 L623.4 1028.7 L625.9 1031.6"/>
<path class="bord" d="M554.5 1016.1 L569.9 1018.9 L584.0 1018.9 L598.1 1024.5 L612.1 1027.3 L616.3 1024.5"/>
<path class="bord" d="M499.6 961.2 L508.1 959.8 L516.5 952.8 L522.1 950.0"/>
<path class="coast" d="M680.7 1086.7 L696.1 1085.3 L710.2 1077.6 L727.0 1070.6 L738.2 1062.2 L749.4 1063.6 L757.8 1067.1 L771.9 1068.5 L787.3 1076.2 L801.3 1088.8 L812.5 1098.7 L821.0 1108.5 L822.4 1113.4 L825.9 1109.9 L822.4 1095.9 L820.2 1093.1 L836.4 1083.2 L844.8 1072.0 L857.4 1067.1 L859.5 1060.8 L857.4 1056.6 L860.2 1045.4 L858.8 1044.0"/>
<path class="coast" d="M801.3 1152.0 L791.5 1133.7 L780.3 1118.3 L774.7 1109.2 L778.9 1104.3 L784.5 1100.1 L780.3 1097.3 L774.7 1098.7 L771.9 1091.7 L760.6 1084.6 L752.2 1081.1 L743.8 1081.1 L735.4 1086.0 L732.6 1091.7 L724.2 1098.7 L713.0 1104.3 L715.8 1112.7 L726.3 1125.3 L724.2 1128.1 L715.8 1129.5 L711.6 1133.7 L700.3 1135.1 L694.7 1114.8 L691.2 1116.2 L689.1 1121.8 L680.7 1119.7 L675.1 1108.5 L659.7 1104.3 L658.3 1102.2 L642.8 1101.5 L639.3 1108.5 L634.4 1101.5 L626.0 1091.7"/>
<path class="coast" d="M626.0 1041.2 L634.4 1052.4 L644.2 1062.2 L655.5 1076.2 L661.1 1081.8 L666.0 1093.8 L680.7 1086.7"/>
<path class="coast" d="M784.5 1100.1 L794.3 1107.1"/>
<path class="coast" d="M670.9 1123.9 L675.1 1123.2 L677.9 1130.9 L672.3 1130.2 L670.9 1123.9"/>
<path class="coast" d="M757.8 1098.7 L761.3 1098.0 L760.6 1103.6 L757.8 1102.9 L757.8 1098.7"/>
<path class="bord" d="M804.1 1093.1 L811.1 1111.3 L798.5 1123.9 L794.3 1119.7 L791.5 1132.3"/>
<path class="bord" d="M642.8 1062.2 L638.6 1066.4 L637.2 1076.2 L642.8 1083.2 L639.3 1088.8 L640.0 1097.3 L635.8 1100.8"/>
<path class="coast" d="M805.5 1152.0 L808.3 1157.6 L803.4 1164.6 L809.7 1177.9 L802.0 1185.7 L806.9 1192.7 L808.3 1208.1 L806.2 1220.7 L802.0 1224.9 L808.3 1231.9 L815.3 1236.2 L811.1 1241.8 L804.1 1253.0 L798.5 1261.4 L794.3 1268.4 L784.5 1275.4 L778.9 1278.2 L771.9 1279.6 L769.1 1286.6 L770.5 1299.3 L764.8 1298.6 L756.4 1303.5 L760.6 1310.5 L759.2 1314.7 L742.4 1320.3 L724.2 1328.7 L725.6 1339.9 L723.5 1354.0"/>
<path class="coast" d="M879.0 1017.3 L883.2 1016.6 L893.0 1020.1 L897.2 1025.7 L900.0 1020.1 L902.1 1011.7 L907.1 1010.3 L921.1 1008.2 L925.3 1006.1 L935.1 1008.2 L946.3 999.1 L960.3 993.5 L966.0 985.1 L977.2 977.3 L988.4 977.3 L995.4 986.5 L991.2 993.5 L980.0 997.7 L971.6 1000.5 L973.0 1008.9 L980.0 1020.1 L985.6 1021.5 L1001.0 1014.5 L1016.4 1006.1 L1026.3 1004.0 L1033.3 1006.1 L1037.5 1003.3 L1036.1 992.1 L1031.9 985.8 L1024.9 986.5 L1022.1 993.5 L1024.9 1000.5 L1037.5 1000.5"/>
<path class="coast" d="M1037.5 1003.3 L1044.5 1006.1 L1061.3 1006.1 L1075.4 1011.7 L1081.0 1022.9 L1085.2 1034.2 L1095.0 1035.6 L1117.4 1032.0 L1132.0 1029.9"/>
<path class="coast" d="M980.0 1020.1 L982.8 1028.5 L968.8 1048.2 L966.0 1055.2 L971.6 1062.2 L975.8 1070.6 L980.0 1078.3 L988.4 1076.9 L998.2 1070.6 L1003.8 1066.4 L991.2 1039.8 L984.2 1028.5 L985.6 1021.5"/>
<path class="coast" d="M1027.7 971.0 L1032.6 976.6"/>
<path class="coast" d="M1057.1 979.5 L1066.9 986.5 L1065.5 987.9 L1056.0 980.9 L1057.1 979.5"/>
<path class="coast" d="M1079.6 980.9 L1083.8 987.9"/>
<path class="coast" d="M921.1 1011.7 L926.7 1011.7 L927.4 1017.3 L921.8 1017.3 L921.1 1011.7"/>
<path class="bord" d="M971.6 997.7 L957.5 1015.9 L944.9 1028.5 L939.3 1048.2 L935.1 1062.2 L928.1 1074.8 L935.1 1073.4 L943.5 1077.6 L947.7 1090.3 L957.5 1101.5 L955.4 1118.3 L963.2 1129.5 L968.8 1139.3 L991.2 1141.4 L1008.0 1138.6 L1026.3 1143.5 L1033.3 1152.0"/>
<path class="bord" d="M1033.3 1152.0 L1045.9 1166.0 L1052.9 1168.8 L1061.3 1165.3 L1089.4 1164.6 L1103.4 1163.9 L1107.6 1170.2 L1102.0 1180.1 L1096.4 1192.7 L1096.4 1219.3 L1103.4 1236.2 L1111.8 1250.2 L1095.0 1267.0 L1103.4 1272.6 L1109.0 1278.2 L1116.0 1286.6 L1124.4 1316.1 L1118.8 1317.5 L1109.0 1289.4 L1096.4 1299.3 L1086.6 1295.1 L1083.8 1300.7 L1034.7 1302.8 L1034.0 1321.7 L1051.5 1322.4 L1055.0 1334.3 L1044.5 1331.5 L1028.4 1337.1 L1027.7 1354.0"/>
<path class="coast" d="M1132.0 1042.8 L1148.9 1047.0 L1168.6 1042.8 L1202.3 1035.8 L1224.8 1031.6 L1250.1 1027.3 L1275.4 1028.7"/>
<path class="coast" d="M1132.0 1031.6 L1146.1 1034.4 L1160.1 1042.8 L1182.6 1047.0 L1205.1 1038.6"/>
<path class="coast" d="M1200.9 1018.9 L1216.4 1017.5 L1213.6 1034.4 L1205.1 1034.4 L1200.9 1018.9"/>
<path class="coast" d="M1168.6 1021.7 L1175.6 1022.6"/>
<path class="coast" d="M1241.7 1031.6 L1252.9 1045.6 L1264.2 1056.9 L1278.2 1061.1 L1272.6 1048.4 L1289.5 1045.6 L1300.7 1031.6 L1283.9 1027.3 L1303.5 1024.5 L1316.2 1034.4"/>
<path class="coast" d="M1282.4 1048.4 L1300.7 1031.6 L1307.8 1034.4 L1309.2 1073.7 L1297.9 1087.8 L1289.5 1073.7 L1303.5 1062.5 L1281.0 1048.4"/>
<path class="coast" d="M1283.9 1093.4 L1300.7 1096.2 L1323.2 1093.4 L1340.1 1099.0"/>
<path class="coast" d="M1317.6 1065.3 L1328.9 1076.5 L1351.3 1107.5 L1371.0 1124.4 L1379.5 1138.4 L1373.8 1158.1"/>
<path class="coast" d="M1379.5 1144.0 L1402.0 1158.1 L1418.8 1172.2 L1455.4 1175.0 L1486.3 1175.0 L1514.5 1179.2 L1534.1 1186.2 L1553.8 1197.5 L1570.7 1208.7"/>
<path class="coast" d="M1566.5 1206.3 L1577.1 1213.4 L1587.7 1227.5 L1594.8 1245.2 L1600.1 1259.4 L1605.5 1270.0 L1614.3 1284.2 L1626.7 1294.8 L1638.4 1301.0"/>
<path class="coast" d="M1638.4 1303.7 L1630.3 1317.9 L1626.7 1330.3 L1630.3 1337.3 L1623.2 1344.4 L1619.6 1355.0"/>
<path class="coast" d="M1624.9 1287.7 L1621.4 1293.1 L1625.8 1296.6 L1629.4 1292.2 L1624.9 1287.7"/>
<path class="coast" d="M1605.5 1355.0 L1617.9 1344.4 L1623.2 1335.6 L1628.5 1339.1 L1633.8 1335.6 L1638.4 1337.3"/>
<path class="coast" d="M1577.1 1213.4 L1575.3 1222.2 L1580.7 1215.1"/>
<path class="coast" d="M1418.8 1172.2 L1420.2 1183.4"/>
<path class="coast" d="M1458.2 1175.0 L1457.6 1180.6"/>
<path class="coast" d="M1515.9 1179.2 L1510.2 1191.8"/>
<path class="coast" d="M1309.2 1013.3 L1316.2 1010.5"/>
<path class="coast" d="M1279.6 985.2 L1285.3 983.7 L1283.9 989.4 L1279.6 985.2"/>
<path class="coast" d="M1295.1 950.0 L1299.3 952.8 L1296.5 955.1"/>
<path class="coast" d="M1345.7 950.0 L1349.9 955.6 L1345.7 957.0"/>
<path class="bord" d="M1340.1 1099.0 L1328.9 1110.3 L1314.8 1118.7 L1312.0 1127.2 L1323.2 1135.6 L1312.0 1146.9 L1297.9 1152.5 L1292.3 1172.2 L1312.0 1191.8 L1314.8 1203.1 L1300.7 1220.0 L1278.2 1225.6 L1250.1 1231.2 L1247.3 1245.3 L1224.8 1234.0 L1205.1 1236.8 L1207.9 1270.6 L1213.6 1279.0 L1230.4 1279.0 L1227.6 1290.3 L1199.5 1310.0 L1177.0 1321.2 L1160.1 1329.6 L1143.2 1329.6 L1132.0 1324.0"/>
<path class="bord" d="M1326.0 1208.7 L1345.7 1231.2 L1337.3 1253.7 L1334.5 1273.4 L1342.9 1298.7 L1365.4 1315.6 L1385.1 1307.1 L1413.2 1295.9 L1441.3 1293.1 L1455.4 1295.9 L1458.2 1279.0 L1486.3 1276.2 L1497.6 1284.6 L1522.9 1281.8 L1536.9 1286.1 L1559.4 1279.0 L1570.7 1253.7 L1581.9 1231.2 L1587.6 1220.0"/>
<path class="bord" d="M1416.0 1175.0 L1417.4 1197.5 L1396.3 1205.9 L1393.5 1228.4 L1410.4 1248.1 L1418.8 1265.0 L1424.5 1281.8 L1438.5 1293.1"/>
<path class="bord" d="M1511.6 1180.6 L1500.4 1203.1 L1506.0 1228.4 L1514.5 1248.1 L1508.8 1267.8 L1497.6 1284.6"/>
</g>
<rect x="120.0" y="140.5" width="1517.5" height="1213.3" fill="none" stroke="#000" stroke-width="2.2"/>
<text x="52.2" y="1210.9" font-size="30.5" text-anchor="start" textLength="54.6" lengthAdjust="spacingAndGlyphs" >5°N</text>
<text x="32.3" y="1059.2" font-size="30.5" text-anchor="start" textLength="74.5" lengthAdjust="spacingAndGlyphs" >10°N</text>
<text x="32.3" y="907.5" font-size="30.5" text-anchor="start" textLength="74.5" lengthAdjust="spacingAndGlyphs" >15°N</text>
<text x="32.3" y="755.9" font-size="30.5" text-anchor="start" textLength="74.5" lengthAdjust="spacingAndGlyphs" >20°N</text>
<text x="32.3" y="604.2" font-size="30.5" text-anchor="start" textLength="74.5" lengthAdjust="spacingAndGlyphs" >25°N</text>
<text x="32.3" y="452.6" font-size="30.5" text-anchor="start" textLength="74.5" lengthAdjust="spacingAndGlyphs" >30°N</text>
<text x="32.3" y="300.9" font-size="30.5" text-anchor="start" textLength="74.5" lengthAdjust="spacingAndGlyphs" >35°N</text>
<text x="382.1" y="1389.7" font-size="30.5" text-anchor="start" textLength="83.0" lengthAdjust="spacingAndGlyphs" >90°W</text>
<text x="685.6" y="1389.7" font-size="30.5" text-anchor="start" textLength="83.0" lengthAdjust="spacingAndGlyphs" >80°W</text>
<text x="989.1" y="1389.7" font-size="30.5" text-anchor="start" textLength="83.0" lengthAdjust="spacingAndGlyphs" >70°W</text>
<text x="1292.6" y="1389.7" font-size="30.5" text-anchor="start" textLength="83.0" lengthAdjust="spacingAndGlyphs" >60°W</text>
<rect x="1672.5" y="1272.87" width="59.700000000000045" height="59.04" fill="#5e4fa2"/>
<rect x="1672.5" y="1214.43" width="59.700000000000045" height="59.04" fill="#486cb0"/>
<rect x="1672.5" y="1155.99" width="59.700000000000045" height="59.04" fill="#3389bd"/>
<rect x="1672.5" y="1097.56" width="59.700000000000045" height="59.04" fill="#50a9af"/>
<rect x="1672.5" y="1039.12" width="59.700000000000045" height="59.04" fill="#6bc4a5"/>
<rect x="1672.5" y="980.69" width="59.700000000000045" height="59.04" fill="#91d3a4"/>
<rect x="1672.5" y="922.25" width="59.700000000000045" height="59.04" fill="#b3e0a2"/>
<rect x="1672.5" y="863.82" width="59.700000000000045" height="59.04" fill="#d1ed9c"/>
<rect x="1672.5" y="805.38" width="59.700000000000045" height="59.04" fill="#ebf7a0"/>
<rect x="1672.5" y="746.95" width="59.700000000000045" height="59.04" fill="#f8fcb4"/>
<rect x="1672.5" y="688.51" width="59.700000000000045" height="59.04" fill="#fff7b2"/>
<rect x="1672.5" y="630.08" width="59.700000000000045" height="59.04" fill="#fee797"/>
<rect x="1672.5" y="571.64" width="59.700000000000045" height="59.04" fill="#fed07e"/>
<rect x="1672.5" y="513.21" width="59.700000000000045" height="59.04" fill="#fdb768"/>
<rect x="1672.5" y="454.77" width="59.700000000000045" height="59.04" fill="#fa9857"/>
<rect x="1672.5" y="396.34" width="59.700000000000045" height="59.04" fill="#f57547"/>
<rect x="1672.5" y="337.90" width="59.700000000000045" height="59.04" fill="#e85b48"/>
<rect x="1672.5" y="279.47" width="59.700000000000045" height="59.04" fill="#d7414e"/>
<rect x="1672.5" y="221.03" width="59.700000000000045" height="59.04" fill="#bc2249"/>
<rect x="1672.5" y="162.60" width="59.700000000000045" height="59.04" fill="#9e0142"/>
<rect x="1672.5" y="162.6" width="59.700000000000045" height="1168.7" fill="none" stroke="#000" stroke-width="2.2"/>
<line x1="1732.2" x2="1741.5" y1="1331.30" y2="1331.30" stroke="#000" stroke-width="2.2"/>
<text x="1751.4" y="1342.5" font-size="30.5" text-anchor="start" textLength="61.0" lengthAdjust="spacingAndGlyphs" >−24</text>
<line x1="1732.2" x2="1741.5" y1="1272.87" y2="1272.87" stroke="#000" stroke-width="2.2"/>
<text x="1751.4" y="1284.1" font-size="30.5" text-anchor="start" textLength="61.0" lengthAdjust="spacingAndGlyphs" >−22</text>
<line x1="1732.2" x2="1741.5" y1="1214.43" y2="1214.43" stroke="#000" stroke-width="2.2"/>
<text x="1751.4" y="1225.6" font-size="30.5" text-anchor="start" textLength="61.0" lengthAdjust="spacingAndGlyphs" >−20</text>
<line x1="1732.2" x2="1741.5" y1="1155.99" y2="1155.99" stroke="#000" stroke-width="2.2"/>
<text x="1751.4" y="1167.2" font-size="30.5" text-anchor="start" textLength="61.0" lengthAdjust="spacingAndGlyphs" >−18</text>
<line x1="1732.2" x2="1741.5" y1="1097.56" y2="1097.56" stroke="#000" stroke-width="2.2"/>
<text x="1751.4" y="1108.8" font-size="30.5" text-anchor="start" textLength="61.0" lengthAdjust="spacingAndGlyphs" >−16</text>
<line x1="1732.2" x2="1741.5" y1="1039.12" y2="1039.12" stroke="#000" stroke-width="2.2"/>
<text x="1751.4" y="1050.3" font-size="30.5" text-anchor="start" textLength="61.0" lengthAdjust="spacingAndGlyphs" >−14</text>
<line x1="1732.2" x2="1741.5" y1="980.69" y2="980.69" stroke="#000" stroke-width="2.2"/>
<text x="1751.4" y="991.9" font-size="30.5" text-anchor="start" textLength="61.0" lengthAdjust="spacingAndGlyphs" >−12</text>
<line x1="1732.2" x2="1741.5" y1="922.25" y2="922.25" stroke="#000" stroke-width="2.2"/>
<text x="1751.4" y="933.5" font-size="30.5" text-anchor="start" textLength="61.0" lengthAdjust="spacingAndGlyphs" >−10</text>
<line x1="1732.2" x2="1741.5" y1="863.82" y2="863.82" stroke="#000" stroke-width="2.2"/>
<text x="1751.4" y="875.0" font-size="30.5" text-anchor="start" textLength="40.3" lengthAdjust="spacingAndGlyphs" >−8</text>
<line x1="1732.2" x2="1741.5" y1="805.38" y2="805.38" stroke="#000" stroke-width="2.2"/>
<text x="1751.4" y="816.6" font-size="30.5" text-anchor="start" textLength="40.3" lengthAdjust="spacingAndGlyphs" >−6</text>
<line x1="1732.2" x2="1741.5" y1="746.95" y2="746.95" stroke="#000" stroke-width="2.2"/>
<text x="1751.4" y="758.1" font-size="30.5" text-anchor="start" textLength="40.3" lengthAdjust="spacingAndGlyphs" >−4</text>
<line x1="1732.2" x2="1741.5" y1="688.51" y2="688.51" stroke="#000" stroke-width="2.2"/>
<text x="1751.4" y="699.7" font-size="30.5" text-anchor="start" textLength="40.3" lengthAdjust="spacingAndGlyphs" >−2</text>
<line x1="1732.2" x2="1741.5" y1="630.08" y2="630.08" stroke="#000" stroke-width="2.2"/>
<text x="1750.8" y="641.3" font-size="30.5" text-anchor="start" textLength="15.6" lengthAdjust="spacingAndGlyphs" >0</text>
<line x1="1732.2" x2="1741.5" y1="571.64" y2="571.64" stroke="#000" stroke-width="2.2"/>
<text x="1750.8" y="582.8" font-size="30.5" text-anchor="start" textLength="15.6" lengthAdjust="spacingAndGlyphs" >2</text>
<line x1="1732.2" x2="1741.5" y1="513.21" y2="513.21" stroke="#000" stroke-width="2.2"/>
<text x="1750.8" y="524.4" font-size="30.5" text-anchor="start" textLength="15.6" lengthAdjust="spacingAndGlyphs" >4</text>
<line x1="1732.2" x2="1741.5" y1="454.77" y2="454.77" stroke="#000" stroke-width="2.2"/>
<text x="1750.8" y="466.0" font-size="30.5" text-anchor="start" textLength="15.6" lengthAdjust="spacingAndGlyphs" >6</text>
<line x1="1732.2" x2="1741.5" y1="396.34" y2="396.34" stroke="#000" stroke-width="2.2"/>
<text x="1750.8" y="407.5" font-size="30.5" text-anchor="start" textLength="15.6" lengthAdjust="spacingAndGlyphs" >8</text>
<line x1="1732.2" x2="1741.5" y1="337.90" y2="337.90" stroke="#000" stroke-width="2.2"/>
<text x="1750.6" y="349.1" font-size="30.5" text-anchor="start" textLength="35.6" lengthAdjust="spacingAndGlyphs" >10</text>
<line x1="1732.2" x2="1741.5" y1="279.47" y2="279.47" stroke="#000" stroke-width="2.2"/>
<text x="1750.6" y="290.7" font-size="30.5" text-anchor="start" textLength="35.6" lengthAdjust="spacingAndGlyphs" >12</text>
<line x1="1732.2" x2="1741.5" y1="221.03" y2="221.03" stroke="#000" stroke-width="2.2"/>
<text x="1750.6" y="232.2" font-size="30.5" text-anchor="start" textLength="35.6" lengthAdjust="spacingAndGlyphs" >14</text>
<line x1="1732.2" x2="1741.5" y1="162.60" y2="162.60" stroke="#000" stroke-width="2.2"/>
<text x="1750.6" y="173.8" font-size="30.5" text-anchor="start" textLength="35.6" lengthAdjust="spacingAndGlyphs" >16</text>
<text transform="translate(1845,1170.1) rotate(-90)" font-size="30.5" textLength="139.1" lengthAdjust="spacingAndGlyphs">Anomalía</text>
<text transform="translate(1845,1015.8) rotate(-90)" font-size="30.5" textLength="33.7" lengthAdjust="spacingAndGlyphs">de</text>
<text transform="translate(1845,970.0) rotate(-90)" font-size="30.5" textLength="33.7" lengthAdjust="spacingAndGlyphs">θe</text>
<text transform="translate(1845,924.1) rotate(-90)" font-size="30.5" textLength="33.6" lengthAdjust="spacingAndGlyphs">de</text>
<text transform="translate(1845,876.8) rotate(-90)" font-size="30.5" textLength="160.4" lengthAdjust="spacingAndGlyphs">saturación</text>
<text transform="translate(1845,701.2) rotate(-90)" font-size="30.5" textLength="81.0" lengthAdjust="spacingAndGlyphs">media</text>
<text transform="translate(1845,605.0) rotate(-90)" font-size="30.5" textLength="152.9" lengthAdjust="spacingAndGlyphs">1000–200</text>
<text transform="translate(1845,441.5) rotate(-90)" font-size="30.5" textLength="44.4" lengthAdjust="spacingAndGlyphs">hPa</text>
<text transform="translate(1845,384.1) rotate(-90)" font-size="30.5" textLength="55.7" lengthAdjust="spacingAndGlyphs">[°C]</text>
</svg></body></html>
